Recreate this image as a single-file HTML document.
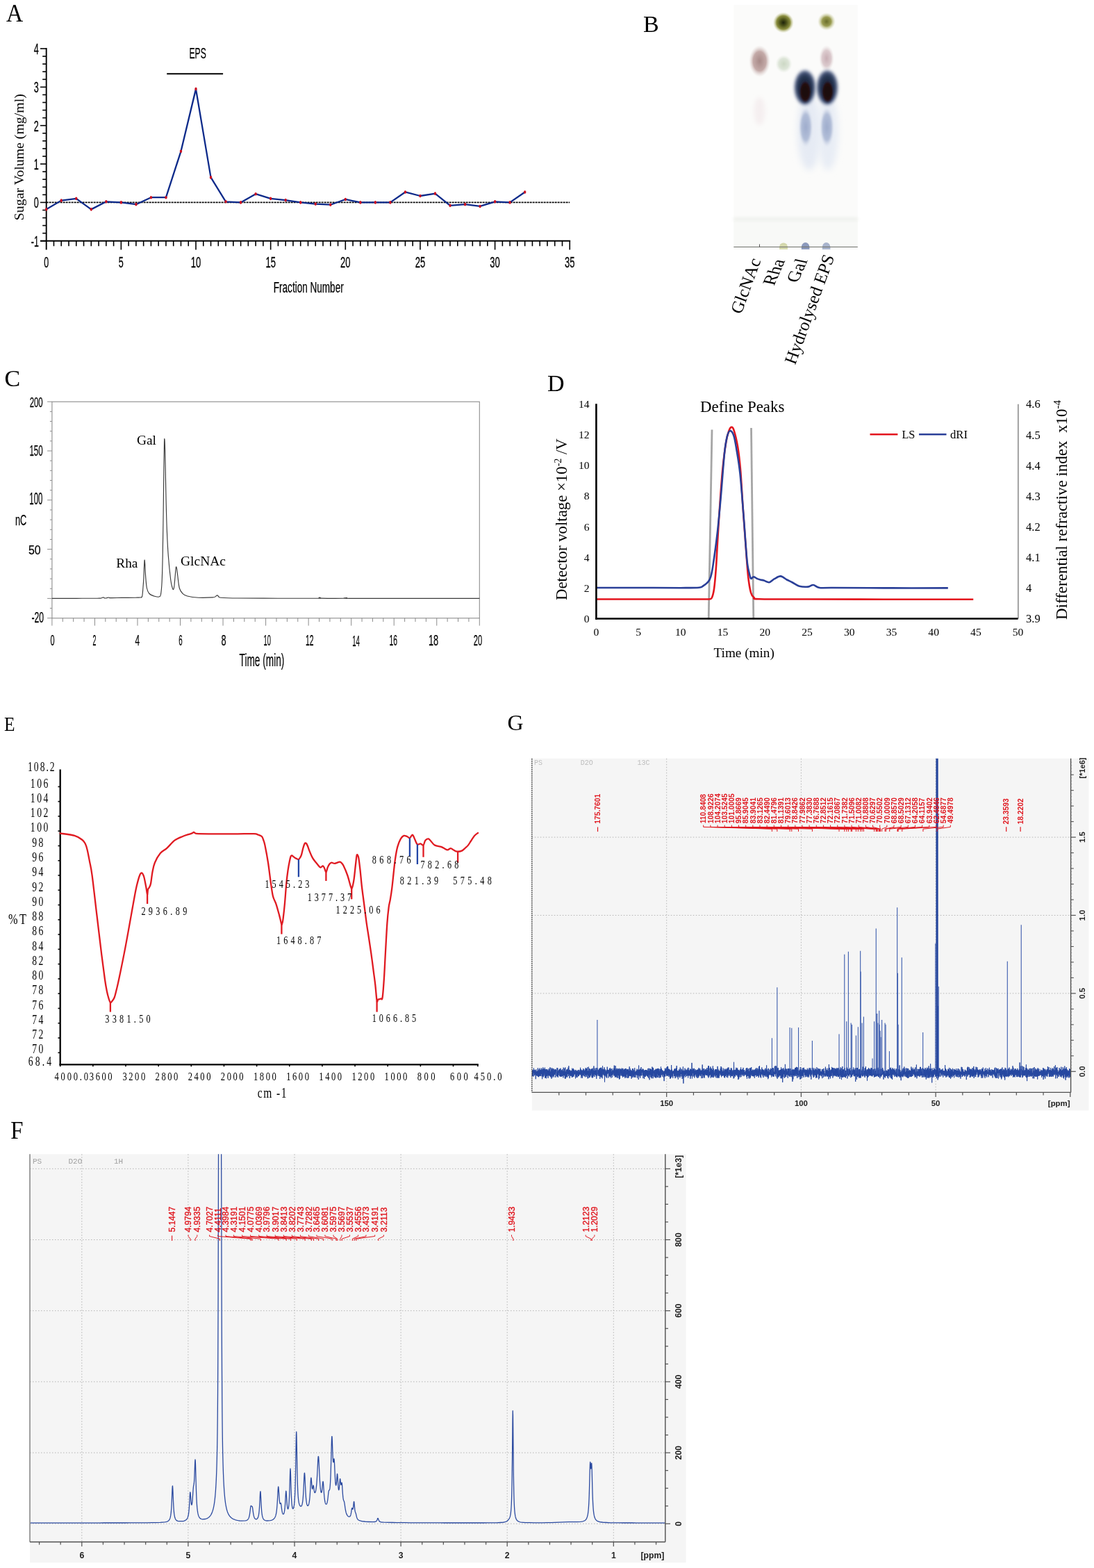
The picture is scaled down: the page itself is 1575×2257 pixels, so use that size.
<!DOCTYPE html>
<html><head><meta charset="utf-8"><title>EPS characterization figure</title>
<style>html,body{margin:0;padding:0;background:#fff;}svg{display:block;}</style></head>
<body>
<svg width="1575" height="2257" viewBox="0 0 1575 2257">
<rect width="1575" height="2257" fill="#fff"/>
<text x="9" y="31.1" font-size="35.5" font-family="'Liberation Serif', 'Times New Roman', serif" textLength="24.2" lengthAdjust="spacingAndGlyphs">A</text>
<line x1="66.7" y1="69.1" x2="66.7" y2="359.5" stroke="#000" stroke-width="1.9"/>
<line x1="58" y1="346.75" x2="821.15" y2="346.75" stroke="#000" stroke-width="1.9"/>
<line x1="58" y1="346.75" x2="66.7" y2="346.75" stroke="#000" stroke-width="1.6"/>
<line x1="61.2" y1="335.68" x2="66.7" y2="335.68" stroke="#000" stroke-width="1.6"/>
<line x1="61.2" y1="324.61" x2="66.7" y2="324.61" stroke="#000" stroke-width="1.6"/>
<line x1="61.2" y1="313.54" x2="66.7" y2="313.54" stroke="#000" stroke-width="1.6"/>
<line x1="61.2" y1="302.47" x2="66.7" y2="302.47" stroke="#000" stroke-width="1.6"/>
<line x1="58" y1="291.4" x2="66.7" y2="291.4" stroke="#000" stroke-width="1.6"/>
<line x1="61.2" y1="280.33" x2="66.7" y2="280.33" stroke="#000" stroke-width="1.6"/>
<line x1="61.2" y1="269.26" x2="66.7" y2="269.26" stroke="#000" stroke-width="1.6"/>
<line x1="61.2" y1="258.19" x2="66.7" y2="258.19" stroke="#000" stroke-width="1.6"/>
<line x1="61.2" y1="247.12" x2="66.7" y2="247.12" stroke="#000" stroke-width="1.6"/>
<line x1="58" y1="236.05" x2="66.7" y2="236.05" stroke="#000" stroke-width="1.6"/>
<line x1="61.2" y1="224.98" x2="66.7" y2="224.98" stroke="#000" stroke-width="1.6"/>
<line x1="61.2" y1="213.91" x2="66.7" y2="213.91" stroke="#000" stroke-width="1.6"/>
<line x1="61.2" y1="202.84" x2="66.7" y2="202.84" stroke="#000" stroke-width="1.6"/>
<line x1="61.2" y1="191.77" x2="66.7" y2="191.77" stroke="#000" stroke-width="1.6"/>
<line x1="58" y1="180.7" x2="66.7" y2="180.7" stroke="#000" stroke-width="1.6"/>
<line x1="61.2" y1="169.63" x2="66.7" y2="169.63" stroke="#000" stroke-width="1.6"/>
<line x1="61.2" y1="158.56" x2="66.7" y2="158.56" stroke="#000" stroke-width="1.6"/>
<line x1="61.2" y1="147.49" x2="66.7" y2="147.49" stroke="#000" stroke-width="1.6"/>
<line x1="61.2" y1="136.42" x2="66.7" y2="136.42" stroke="#000" stroke-width="1.6"/>
<line x1="58" y1="125.35" x2="66.7" y2="125.35" stroke="#000" stroke-width="1.6"/>
<line x1="61.2" y1="114.28" x2="66.7" y2="114.28" stroke="#000" stroke-width="1.6"/>
<line x1="61.2" y1="103.21" x2="66.7" y2="103.21" stroke="#000" stroke-width="1.6"/>
<line x1="61.2" y1="92.14" x2="66.7" y2="92.14" stroke="#000" stroke-width="1.6"/>
<line x1="61.2" y1="81.07" x2="66.7" y2="81.07" stroke="#000" stroke-width="1.6"/>
<line x1="58" y1="70" x2="66.7" y2="70" stroke="#000" stroke-width="1.6"/>
<line x1="77.47" y1="346.75" x2="77.47" y2="354.3" stroke="#000" stroke-width="1.6"/>
<line x1="88.23" y1="346.75" x2="88.23" y2="354.3" stroke="#000" stroke-width="1.6"/>
<line x1="99" y1="346.75" x2="99" y2="354.3" stroke="#000" stroke-width="1.6"/>
<line x1="109.76" y1="346.75" x2="109.76" y2="354.3" stroke="#000" stroke-width="1.6"/>
<line x1="120.53" y1="346.75" x2="120.53" y2="354.3" stroke="#000" stroke-width="1.6"/>
<line x1="131.29" y1="346.75" x2="131.29" y2="354.3" stroke="#000" stroke-width="1.6"/>
<line x1="142.06" y1="346.75" x2="142.06" y2="354.3" stroke="#000" stroke-width="1.6"/>
<line x1="152.82" y1="346.75" x2="152.82" y2="354.3" stroke="#000" stroke-width="1.6"/>
<line x1="163.59" y1="346.75" x2="163.59" y2="354.3" stroke="#000" stroke-width="1.6"/>
<line x1="174.35" y1="346.75" x2="174.35" y2="359.5" stroke="#000" stroke-width="1.6"/>
<line x1="185.12" y1="346.75" x2="185.12" y2="354.3" stroke="#000" stroke-width="1.6"/>
<line x1="195.88" y1="346.75" x2="195.88" y2="354.3" stroke="#000" stroke-width="1.6"/>
<line x1="206.64" y1="346.75" x2="206.64" y2="354.3" stroke="#000" stroke-width="1.6"/>
<line x1="217.41" y1="346.75" x2="217.41" y2="354.3" stroke="#000" stroke-width="1.6"/>
<line x1="228.18" y1="346.75" x2="228.18" y2="354.3" stroke="#000" stroke-width="1.6"/>
<line x1="238.94" y1="346.75" x2="238.94" y2="354.3" stroke="#000" stroke-width="1.6"/>
<line x1="249.7" y1="346.75" x2="249.7" y2="354.3" stroke="#000" stroke-width="1.6"/>
<line x1="260.47" y1="346.75" x2="260.47" y2="354.3" stroke="#000" stroke-width="1.6"/>
<line x1="271.24" y1="346.75" x2="271.24" y2="354.3" stroke="#000" stroke-width="1.6"/>
<line x1="282" y1="346.75" x2="282" y2="359.5" stroke="#000" stroke-width="1.6"/>
<line x1="292.76" y1="346.75" x2="292.76" y2="354.3" stroke="#000" stroke-width="1.6"/>
<line x1="303.53" y1="346.75" x2="303.53" y2="354.3" stroke="#000" stroke-width="1.6"/>
<line x1="314.3" y1="346.75" x2="314.3" y2="354.3" stroke="#000" stroke-width="1.6"/>
<line x1="325.06" y1="346.75" x2="325.06" y2="354.3" stroke="#000" stroke-width="1.6"/>
<line x1="335.82" y1="346.75" x2="335.82" y2="354.3" stroke="#000" stroke-width="1.6"/>
<line x1="346.59" y1="346.75" x2="346.59" y2="354.3" stroke="#000" stroke-width="1.6"/>
<line x1="357.36" y1="346.75" x2="357.36" y2="354.3" stroke="#000" stroke-width="1.6"/>
<line x1="368.12" y1="346.75" x2="368.12" y2="354.3" stroke="#000" stroke-width="1.6"/>
<line x1="378.88" y1="346.75" x2="378.88" y2="354.3" stroke="#000" stroke-width="1.6"/>
<line x1="389.65" y1="346.75" x2="389.65" y2="359.5" stroke="#000" stroke-width="1.6"/>
<line x1="400.42" y1="346.75" x2="400.42" y2="354.3" stroke="#000" stroke-width="1.6"/>
<line x1="411.18" y1="346.75" x2="411.18" y2="354.3" stroke="#000" stroke-width="1.6"/>
<line x1="421.94" y1="346.75" x2="421.94" y2="354.3" stroke="#000" stroke-width="1.6"/>
<line x1="432.71" y1="346.75" x2="432.71" y2="354.3" stroke="#000" stroke-width="1.6"/>
<line x1="443.48" y1="346.75" x2="443.48" y2="354.3" stroke="#000" stroke-width="1.6"/>
<line x1="454.24" y1="346.75" x2="454.24" y2="354.3" stroke="#000" stroke-width="1.6"/>
<line x1="465" y1="346.75" x2="465" y2="354.3" stroke="#000" stroke-width="1.6"/>
<line x1="475.77" y1="346.75" x2="475.77" y2="354.3" stroke="#000" stroke-width="1.6"/>
<line x1="486.54" y1="346.75" x2="486.54" y2="354.3" stroke="#000" stroke-width="1.6"/>
<line x1="497.3" y1="346.75" x2="497.3" y2="359.5" stroke="#000" stroke-width="1.6"/>
<line x1="508.06" y1="346.75" x2="508.06" y2="354.3" stroke="#000" stroke-width="1.6"/>
<line x1="518.83" y1="346.75" x2="518.83" y2="354.3" stroke="#000" stroke-width="1.6"/>
<line x1="529.6" y1="346.75" x2="529.6" y2="354.3" stroke="#000" stroke-width="1.6"/>
<line x1="540.36" y1="346.75" x2="540.36" y2="354.3" stroke="#000" stroke-width="1.6"/>
<line x1="551.12" y1="346.75" x2="551.12" y2="354.3" stroke="#000" stroke-width="1.6"/>
<line x1="561.89" y1="346.75" x2="561.89" y2="354.3" stroke="#000" stroke-width="1.6"/>
<line x1="572.66" y1="346.75" x2="572.66" y2="354.3" stroke="#000" stroke-width="1.6"/>
<line x1="583.42" y1="346.75" x2="583.42" y2="354.3" stroke="#000" stroke-width="1.6"/>
<line x1="594.19" y1="346.75" x2="594.19" y2="354.3" stroke="#000" stroke-width="1.6"/>
<line x1="604.95" y1="346.75" x2="604.95" y2="359.5" stroke="#000" stroke-width="1.6"/>
<line x1="615.72" y1="346.75" x2="615.72" y2="354.3" stroke="#000" stroke-width="1.6"/>
<line x1="626.48" y1="346.75" x2="626.48" y2="354.3" stroke="#000" stroke-width="1.6"/>
<line x1="637.25" y1="346.75" x2="637.25" y2="354.3" stroke="#000" stroke-width="1.6"/>
<line x1="648.01" y1="346.75" x2="648.01" y2="354.3" stroke="#000" stroke-width="1.6"/>
<line x1="658.78" y1="346.75" x2="658.78" y2="354.3" stroke="#000" stroke-width="1.6"/>
<line x1="669.54" y1="346.75" x2="669.54" y2="354.3" stroke="#000" stroke-width="1.6"/>
<line x1="680.31" y1="346.75" x2="680.31" y2="354.3" stroke="#000" stroke-width="1.6"/>
<line x1="691.07" y1="346.75" x2="691.07" y2="354.3" stroke="#000" stroke-width="1.6"/>
<line x1="701.84" y1="346.75" x2="701.84" y2="354.3" stroke="#000" stroke-width="1.6"/>
<line x1="712.6" y1="346.75" x2="712.6" y2="359.5" stroke="#000" stroke-width="1.6"/>
<line x1="723.37" y1="346.75" x2="723.37" y2="354.3" stroke="#000" stroke-width="1.6"/>
<line x1="734.13" y1="346.75" x2="734.13" y2="354.3" stroke="#000" stroke-width="1.6"/>
<line x1="744.9" y1="346.75" x2="744.9" y2="354.3" stroke="#000" stroke-width="1.6"/>
<line x1="755.66" y1="346.75" x2="755.66" y2="354.3" stroke="#000" stroke-width="1.6"/>
<line x1="766.43" y1="346.75" x2="766.43" y2="354.3" stroke="#000" stroke-width="1.6"/>
<line x1="777.19" y1="346.75" x2="777.19" y2="354.3" stroke="#000" stroke-width="1.6"/>
<line x1="787.96" y1="346.75" x2="787.96" y2="354.3" stroke="#000" stroke-width="1.6"/>
<line x1="798.72" y1="346.75" x2="798.72" y2="354.3" stroke="#000" stroke-width="1.6"/>
<line x1="809.49" y1="346.75" x2="809.49" y2="354.3" stroke="#000" stroke-width="1.6"/>
<line x1="820.25" y1="346.75" x2="820.25" y2="359.5" stroke="#000" stroke-width="1.6"/>
<text x="55.8" y="77.9" font-size="22" font-family="'Liberation Sans', Arial, sans-serif" text-anchor="end" textLength="7" lengthAdjust="spacingAndGlyphs" stroke="#000" stroke-width="0.3">4</text>
<text x="55.8" y="133.25" font-size="22" font-family="'Liberation Sans', Arial, sans-serif" text-anchor="end" textLength="7" lengthAdjust="spacingAndGlyphs" stroke="#000" stroke-width="0.3">3</text>
<text x="55.8" y="188.6" font-size="22" font-family="'Liberation Sans', Arial, sans-serif" text-anchor="end" textLength="7" lengthAdjust="spacingAndGlyphs" stroke="#000" stroke-width="0.3">2</text>
<text x="55.8" y="243.95" font-size="22" font-family="'Liberation Sans', Arial, sans-serif" text-anchor="end" textLength="7" lengthAdjust="spacingAndGlyphs" stroke="#000" stroke-width="0.3">1</text>
<text x="55.8" y="299.3" font-size="22" font-family="'Liberation Sans', Arial, sans-serif" text-anchor="end" textLength="7" lengthAdjust="spacingAndGlyphs" stroke="#000" stroke-width="0.3">0</text>
<text x="55.8" y="354.65" font-size="22" font-family="'Liberation Sans', Arial, sans-serif" text-anchor="end" textLength="11" lengthAdjust="spacingAndGlyphs" stroke="#000" stroke-width="0.3">-1</text>
<text x="66.7" y="384.9" font-size="22" font-family="'Liberation Sans', Arial, sans-serif" text-anchor="middle" textLength="7" lengthAdjust="spacingAndGlyphs" stroke="#000" stroke-width="0.3">0</text>
<text x="174.35" y="384.9" font-size="22" font-family="'Liberation Sans', Arial, sans-serif" text-anchor="middle" textLength="7" lengthAdjust="spacingAndGlyphs" stroke="#000" stroke-width="0.3">5</text>
<text x="282" y="384.9" font-size="22" font-family="'Liberation Sans', Arial, sans-serif" text-anchor="middle" textLength="14.5" lengthAdjust="spacingAndGlyphs" stroke="#000" stroke-width="0.3">10</text>
<text x="389.65" y="384.9" font-size="22" font-family="'Liberation Sans', Arial, sans-serif" text-anchor="middle" textLength="14.5" lengthAdjust="spacingAndGlyphs" stroke="#000" stroke-width="0.3">15</text>
<text x="497.3" y="384.9" font-size="22" font-family="'Liberation Sans', Arial, sans-serif" text-anchor="middle" textLength="14.5" lengthAdjust="spacingAndGlyphs" stroke="#000" stroke-width="0.3">20</text>
<text x="604.95" y="384.9" font-size="22" font-family="'Liberation Sans', Arial, sans-serif" text-anchor="middle" textLength="14.5" lengthAdjust="spacingAndGlyphs" stroke="#000" stroke-width="0.3">25</text>
<text x="712.6" y="384.9" font-size="22" font-family="'Liberation Sans', Arial, sans-serif" text-anchor="middle" textLength="14.5" lengthAdjust="spacingAndGlyphs" stroke="#000" stroke-width="0.3">30</text>
<text x="820.25" y="384.9" font-size="22" font-family="'Liberation Sans', Arial, sans-serif" text-anchor="middle" textLength="14.5" lengthAdjust="spacingAndGlyphs" stroke="#000" stroke-width="0.3">35</text>
<text x="393.8" y="421.4" font-size="21.6" font-family="'Liberation Sans', Arial, sans-serif" textLength="100.9" lengthAdjust="spacingAndGlyphs" stroke="#000" stroke-width="0.25">Fraction Number</text>
<text x="272.5" y="83.7" font-size="21.6" font-family="'Liberation Sans', Arial, sans-serif" textLength="24.3" lengthAdjust="spacingAndGlyphs" stroke="#000" stroke-width="0.25">EPS</text>
<line x1="240.2" y1="106.3" x2="321.1" y2="106.3" stroke="#000" stroke-width="2"/>
<text transform="translate(33.6,226.2) rotate(-90)" font-size="19.2" font-family="'Liberation Serif', 'Times New Roman', serif" text-anchor="middle" textLength="182" lengthAdjust="spacingAndGlyphs">Sugar Volume (mg/ml)</text>
<line x1="66.7" y1="291.4" x2="820.25" y2="291.4" stroke="#000" stroke-width="1.8" stroke-dasharray="2.9 1.1"/>
<path d="M66.7 301.36 L88.23 288.63 L109.76 285.86 L131.29 301.36 L152.82 290.29 L174.35 291.4 L195.88 294.17 L217.41 284.2 L238.94 284.2 L260.47 217.78 L282 128.12 L303.53 255.42 L325.06 290.29 L346.59 291.4 L368.12 279.22 L389.65 285.86 L411.18 288.08 L432.71 291.4 L454.24 293.61 L475.77 294.72 L497.3 286.97 L518.83 291.4 L540.36 291.4 L561.89 291.4 L583.42 276.46 L604.95 281.99 L626.48 278.67 L648.01 295.83 L669.54 294.17 L691.07 296.94 L712.6 290.29 L734.13 291.4 L755.66 276.46" fill="none" stroke="#0d2a8a" stroke-width="2.3" stroke-linejoin="round"/>
<ellipse cx="66.7" cy="301.36" rx="1.7" ry="2.3" fill="#cc1222"/>
<ellipse cx="88.23" cy="288.63" rx="1.7" ry="2.3" fill="#cc1222"/>
<ellipse cx="109.76" cy="285.86" rx="1.7" ry="2.3" fill="#cc1222"/>
<ellipse cx="131.29" cy="301.36" rx="1.7" ry="2.3" fill="#cc1222"/>
<ellipse cx="152.82" cy="290.29" rx="1.7" ry="2.3" fill="#cc1222"/>
<ellipse cx="174.35" cy="291.4" rx="1.7" ry="2.3" fill="#cc1222"/>
<ellipse cx="195.88" cy="294.17" rx="1.7" ry="2.3" fill="#cc1222"/>
<ellipse cx="217.41" cy="284.2" rx="1.7" ry="2.3" fill="#cc1222"/>
<ellipse cx="238.94" cy="284.2" rx="1.7" ry="2.3" fill="#cc1222"/>
<ellipse cx="260.47" cy="217.78" rx="1.7" ry="2.3" fill="#cc1222"/>
<ellipse cx="282" cy="128.12" rx="1.7" ry="2.3" fill="#cc1222"/>
<ellipse cx="303.53" cy="255.42" rx="1.7" ry="2.3" fill="#cc1222"/>
<ellipse cx="325.06" cy="290.29" rx="1.7" ry="2.3" fill="#cc1222"/>
<ellipse cx="346.59" cy="291.4" rx="1.7" ry="2.3" fill="#cc1222"/>
<ellipse cx="368.12" cy="279.22" rx="1.7" ry="2.3" fill="#cc1222"/>
<ellipse cx="389.65" cy="285.86" rx="1.7" ry="2.3" fill="#cc1222"/>
<ellipse cx="411.18" cy="288.08" rx="1.7" ry="2.3" fill="#cc1222"/>
<ellipse cx="432.71" cy="291.4" rx="1.7" ry="2.3" fill="#cc1222"/>
<ellipse cx="454.24" cy="293.61" rx="1.7" ry="2.3" fill="#cc1222"/>
<ellipse cx="475.77" cy="294.72" rx="1.7" ry="2.3" fill="#cc1222"/>
<ellipse cx="497.3" cy="286.97" rx="1.7" ry="2.3" fill="#cc1222"/>
<ellipse cx="518.83" cy="291.4" rx="1.7" ry="2.3" fill="#cc1222"/>
<ellipse cx="540.36" cy="291.4" rx="1.7" ry="2.3" fill="#cc1222"/>
<ellipse cx="561.89" cy="291.4" rx="1.7" ry="2.3" fill="#cc1222"/>
<ellipse cx="583.42" cy="276.46" rx="1.7" ry="2.3" fill="#cc1222"/>
<ellipse cx="604.95" cy="281.99" rx="1.7" ry="2.3" fill="#cc1222"/>
<ellipse cx="626.48" cy="278.67" rx="1.7" ry="2.3" fill="#cc1222"/>
<ellipse cx="648.01" cy="295.83" rx="1.7" ry="2.3" fill="#cc1222"/>
<ellipse cx="669.54" cy="294.17" rx="1.7" ry="2.3" fill="#cc1222"/>
<ellipse cx="691.07" cy="296.94" rx="1.7" ry="2.3" fill="#cc1222"/>
<ellipse cx="712.6" cy="290.29" rx="1.7" ry="2.3" fill="#cc1222"/>
<ellipse cx="734.13" cy="291.4" rx="1.7" ry="2.3" fill="#cc1222"/>
<ellipse cx="755.66" cy="276.46" rx="1.7" ry="2.3" fill="#cc1222"/>
<text x="926" y="46.3" font-size="34" font-family="'Liberation Serif', 'Times New Roman', serif">B</text>
<defs>
<filter id="bl1" x="-50%" y="-50%" width="200%" height="200%"><feGaussianBlur stdDeviation="1"/></filter>
<filter id="bl2" x="-50%" y="-50%" width="200%" height="200%"><feGaussianBlur stdDeviation="2"/></filter>
<filter id="bl3" x="-50%" y="-50%" width="200%" height="200%"><feGaussianBlur stdDeviation="3"/></filter>
<filter id="bl5" x="-50%" y="-50%" width="200%" height="200%"><feGaussianBlur stdDeviation="5"/></filter>
<radialGradient id="gGreen"><stop offset="0" stop-color="#1e220a"/><stop offset="0.3" stop-color="#4a5018"/><stop offset="0.65" stop-color="#8a8e3e"/><stop offset="1" stop-color="#d0d2a0" stop-opacity="0"/></radialGradient>
<radialGradient id="gGreen2"><stop offset="0" stop-color="#6a6e2a"/><stop offset="0.5" stop-color="#9a9c52"/><stop offset="1" stop-color="#d8dab0" stop-opacity="0"/></radialGradient>
<radialGradient id="gPink"><stop offset="0" stop-color="#a88a88"/><stop offset="0.6" stop-color="#c4aaa8"/><stop offset="1" stop-color="#e6dcda" stop-opacity="0"/></radialGradient>
<radialGradient id="gPink2"><stop offset="0" stop-color="#c8aeb4"/><stop offset="0.6" stop-color="#dccbce"/><stop offset="1" stop-color="#ece4e4" stop-opacity="0"/></radialGradient>
<radialGradient id="gFaintG"><stop offset="0" stop-color="#ccd8c4"/><stop offset="0.6" stop-color="#dde5d8"/><stop offset="1" stop-color="#e8eee4" stop-opacity="0"/></radialGradient>
<radialGradient id="gBlue"><stop offset="0" stop-color="#18203a"/><stop offset="0.6" stop-color="#25344f"/><stop offset="0.85" stop-color="#4a5a80"/><stop offset="1" stop-color="#b8c4dc" stop-opacity="0"/></radialGradient>
<radialGradient id="gCore"><stop offset="0" stop-color="#1a0606"/><stop offset="0.7" stop-color="#220c10"/><stop offset="1" stop-color="#2a2a40" stop-opacity="0"/></radialGradient>
<radialGradient id="gTail"><stop offset="0" stop-color="#9eaccc"/><stop offset="0.65" stop-color="#b2bed8"/><stop offset="1" stop-color="#d8deec" stop-opacity="0"/></radialGradient>
</defs>
<rect x="1056.3" y="7.2" width="178.5" height="352.0" fill="#fbfbfa"/>
<rect x="1056.3" y="318" width="178.5" height="37" fill="#f8f9f7"/>
<rect x="1056.3" y="313" width="178.5" height="5" fill="#eef0ec" filter="url(#bl2)"/>
<ellipse cx="1165" cy="190" rx="17" ry="55" fill="#e6ebf4" filter="url(#bl5)"/>
<ellipse cx="1192" cy="190" rx="15" ry="55" fill="#e8edf5" filter="url(#bl5)"/>
<ellipse cx="1160" cy="183" rx="10" ry="29" fill="url(#gTail)" filter="url(#bl1)"/>
<ellipse cx="1190.5" cy="183" rx="10" ry="29" fill="url(#gTail)" filter="url(#bl1)"/>
<circle cx="1127.8" cy="32.5" r="15" fill="url(#gGreen)"/>
<circle cx="1190" cy="31" r="13" fill="url(#gGreen2)"/>
<ellipse cx="1093.6" cy="88" rx="15.5" ry="23" fill="url(#gPink)"/>
<ellipse cx="1190" cy="84" rx="11" ry="19" fill="url(#gPink2)"/>
<ellipse cx="1128.4" cy="92" rx="12" ry="13" fill="url(#gFaintG)"/>
<ellipse cx="1093.4" cy="160" rx="8" ry="20" fill="#f5eff0" filter="url(#bl3)"/>
<ellipse cx="1158.8" cy="126" rx="16.5" ry="27" fill="url(#gBlue)" filter="url(#bl2)"/>
<ellipse cx="1159.3" cy="132" rx="9" ry="17" fill="url(#gCore)" filter="url(#bl1)"/>
<ellipse cx="1191.0" cy="126" rx="16.5" ry="27" fill="url(#gBlue)" filter="url(#bl2)"/>
<ellipse cx="1191.5" cy="132" rx="9" ry="17" fill="url(#gCore)" filter="url(#bl1)"/>
<path d="M1122 355.5 A6 6 0 0 1 1134 355.5 L1134 359 L1122 359Z" fill="#d4d8ac"/>
<path d="M1153.8 355.5 A5.8 6.5 0 0 1 1165.4 355.5 L1165.4 359 L1153.8 359Z" fill="#8c9abc"/>
<path d="M1183.8 355.5 A5.8 6.5 0 0 1 1195.4 355.5 L1195.4 359 L1183.8 359Z" fill="#a8b4cc"/>
<line x1="1056.3" y1="355.5" x2="1234.8" y2="355.5" stroke="#6e706a" stroke-width="1"/>
<line x1="1093.5" y1="351.5" x2="1093.5" y2="356" stroke="#555" stroke-width="1"/>
<text transform="translate(1095.5,375) rotate(-70)" font-size="25" font-family="'Liberation Serif', 'Times New Roman', serif" text-anchor="end">GlcNAc</text>
<text transform="translate(1130.5,375) rotate(-66) skewX(12)" font-size="25" font-family="'Liberation Serif', 'Times New Roman', serif" text-anchor="end">Rha</text>
<text transform="translate(1163,374.5) rotate(-66) skewX(12)" font-size="25" font-family="'Liberation Serif', 'Times New Roman', serif" text-anchor="end">Gal</text>
<text transform="translate(1201.5,370) rotate(-70)" font-size="25" font-family="'Liberation Serif', 'Times New Roman', serif" text-anchor="end">Hydrolysed EPS</text>
<text x="6.5" y="556.4" font-size="34" font-family="'Liberation Serif', 'Times New Roman', serif">C</text>
<rect x="74.9" y="578.3" width="615.4" height="311.5" fill="none" stroke="#8c8c8c" stroke-width="1.1"/>
<line x1="68.1" y1="889.72" x2="74.9" y2="889.72" stroke="#8c8c8c" stroke-width="1"/>
<line x1="71.9" y1="875.56" x2="74.9" y2="875.56" stroke="#8c8c8c" stroke-width="1"/>
<line x1="68.1" y1="861.4" x2="74.9" y2="861.4" stroke="#8c8c8c" stroke-width="1"/>
<line x1="71.9" y1="847.24" x2="74.9" y2="847.24" stroke="#8c8c8c" stroke-width="1"/>
<line x1="71.9" y1="833.08" x2="74.9" y2="833.08" stroke="#8c8c8c" stroke-width="1"/>
<line x1="71.9" y1="818.92" x2="74.9" y2="818.92" stroke="#8c8c8c" stroke-width="1"/>
<line x1="71.9" y1="804.76" x2="74.9" y2="804.76" stroke="#8c8c8c" stroke-width="1"/>
<line x1="68.1" y1="790.6" x2="74.9" y2="790.6" stroke="#8c8c8c" stroke-width="1"/>
<line x1="71.9" y1="776.44" x2="74.9" y2="776.44" stroke="#8c8c8c" stroke-width="1"/>
<line x1="71.9" y1="762.28" x2="74.9" y2="762.28" stroke="#8c8c8c" stroke-width="1"/>
<line x1="71.9" y1="748.12" x2="74.9" y2="748.12" stroke="#8c8c8c" stroke-width="1"/>
<line x1="71.9" y1="733.96" x2="74.9" y2="733.96" stroke="#8c8c8c" stroke-width="1"/>
<line x1="68.1" y1="719.8" x2="74.9" y2="719.8" stroke="#8c8c8c" stroke-width="1"/>
<line x1="71.9" y1="705.64" x2="74.9" y2="705.64" stroke="#8c8c8c" stroke-width="1"/>
<line x1="71.9" y1="691.48" x2="74.9" y2="691.48" stroke="#8c8c8c" stroke-width="1"/>
<line x1="71.9" y1="677.32" x2="74.9" y2="677.32" stroke="#8c8c8c" stroke-width="1"/>
<line x1="71.9" y1="663.16" x2="74.9" y2="663.16" stroke="#8c8c8c" stroke-width="1"/>
<line x1="68.1" y1="649" x2="74.9" y2="649" stroke="#8c8c8c" stroke-width="1"/>
<line x1="71.9" y1="634.84" x2="74.9" y2="634.84" stroke="#8c8c8c" stroke-width="1"/>
<line x1="71.9" y1="620.68" x2="74.9" y2="620.68" stroke="#8c8c8c" stroke-width="1"/>
<line x1="71.9" y1="606.52" x2="74.9" y2="606.52" stroke="#8c8c8c" stroke-width="1"/>
<line x1="71.9" y1="592.36" x2="74.9" y2="592.36" stroke="#8c8c8c" stroke-width="1"/>
<line x1="68.1" y1="578.2" x2="74.9" y2="578.2" stroke="#8c8c8c" stroke-width="1"/>
<line x1="74.9" y1="889.8" x2="74.9" y2="900.6" stroke="#8c8c8c" stroke-width="1"/>
<line x1="90.29" y1="889.8" x2="90.29" y2="895" stroke="#8c8c8c" stroke-width="1"/>
<line x1="105.67" y1="889.8" x2="105.67" y2="895" stroke="#8c8c8c" stroke-width="1"/>
<line x1="121.06" y1="889.8" x2="121.06" y2="895" stroke="#8c8c8c" stroke-width="1"/>
<line x1="136.44" y1="889.8" x2="136.44" y2="900.6" stroke="#8c8c8c" stroke-width="1"/>
<line x1="151.82" y1="889.8" x2="151.82" y2="895" stroke="#8c8c8c" stroke-width="1"/>
<line x1="167.21" y1="889.8" x2="167.21" y2="895" stroke="#8c8c8c" stroke-width="1"/>
<line x1="182.6" y1="889.8" x2="182.6" y2="895" stroke="#8c8c8c" stroke-width="1"/>
<line x1="197.98" y1="889.8" x2="197.98" y2="900.6" stroke="#8c8c8c" stroke-width="1"/>
<line x1="213.36" y1="889.8" x2="213.36" y2="895" stroke="#8c8c8c" stroke-width="1"/>
<line x1="228.75" y1="889.8" x2="228.75" y2="895" stroke="#8c8c8c" stroke-width="1"/>
<line x1="244.13" y1="889.8" x2="244.13" y2="895" stroke="#8c8c8c" stroke-width="1"/>
<line x1="259.52" y1="889.8" x2="259.52" y2="900.6" stroke="#8c8c8c" stroke-width="1"/>
<line x1="274.9" y1="889.8" x2="274.9" y2="895" stroke="#8c8c8c" stroke-width="1"/>
<line x1="290.29" y1="889.8" x2="290.29" y2="895" stroke="#8c8c8c" stroke-width="1"/>
<line x1="305.68" y1="889.8" x2="305.68" y2="895" stroke="#8c8c8c" stroke-width="1"/>
<line x1="321.06" y1="889.8" x2="321.06" y2="900.6" stroke="#8c8c8c" stroke-width="1"/>
<line x1="336.44" y1="889.8" x2="336.44" y2="895" stroke="#8c8c8c" stroke-width="1"/>
<line x1="351.83" y1="889.8" x2="351.83" y2="895" stroke="#8c8c8c" stroke-width="1"/>
<line x1="367.22" y1="889.8" x2="367.22" y2="895" stroke="#8c8c8c" stroke-width="1"/>
<line x1="382.6" y1="889.8" x2="382.6" y2="900.6" stroke="#8c8c8c" stroke-width="1"/>
<line x1="397.99" y1="889.8" x2="397.99" y2="895" stroke="#8c8c8c" stroke-width="1"/>
<line x1="413.37" y1="889.8" x2="413.37" y2="895" stroke="#8c8c8c" stroke-width="1"/>
<line x1="428.75" y1="889.8" x2="428.75" y2="895" stroke="#8c8c8c" stroke-width="1"/>
<line x1="444.14" y1="889.8" x2="444.14" y2="900.6" stroke="#8c8c8c" stroke-width="1"/>
<line x1="459.52" y1="889.8" x2="459.52" y2="895" stroke="#8c8c8c" stroke-width="1"/>
<line x1="474.91" y1="889.8" x2="474.91" y2="895" stroke="#8c8c8c" stroke-width="1"/>
<line x1="490.29" y1="889.8" x2="490.29" y2="895" stroke="#8c8c8c" stroke-width="1"/>
<line x1="505.68" y1="889.8" x2="505.68" y2="900.6" stroke="#8c8c8c" stroke-width="1"/>
<line x1="521.06" y1="889.8" x2="521.06" y2="895" stroke="#8c8c8c" stroke-width="1"/>
<line x1="536.45" y1="889.8" x2="536.45" y2="895" stroke="#8c8c8c" stroke-width="1"/>
<line x1="551.83" y1="889.8" x2="551.83" y2="895" stroke="#8c8c8c" stroke-width="1"/>
<line x1="567.22" y1="889.8" x2="567.22" y2="900.6" stroke="#8c8c8c" stroke-width="1"/>
<line x1="582.61" y1="889.8" x2="582.61" y2="895" stroke="#8c8c8c" stroke-width="1"/>
<line x1="597.99" y1="889.8" x2="597.99" y2="895" stroke="#8c8c8c" stroke-width="1"/>
<line x1="613.38" y1="889.8" x2="613.38" y2="895" stroke="#8c8c8c" stroke-width="1"/>
<line x1="628.76" y1="889.8" x2="628.76" y2="900.6" stroke="#8c8c8c" stroke-width="1"/>
<line x1="644.14" y1="889.8" x2="644.14" y2="895" stroke="#8c8c8c" stroke-width="1"/>
<line x1="659.53" y1="889.8" x2="659.53" y2="895" stroke="#8c8c8c" stroke-width="1"/>
<line x1="674.91" y1="889.8" x2="674.91" y2="895" stroke="#8c8c8c" stroke-width="1"/>
<line x1="690.3" y1="889.8" x2="690.3" y2="900.6" stroke="#8c8c8c" stroke-width="1"/>
<text x="42.7" y="586" font-size="19.41" font-family="'Liberation Sans', Arial, sans-serif" textLength="19" lengthAdjust="spacingAndGlyphs" stroke="#000" stroke-width="0.25">200</text>
<text x="42.4" y="655.6" font-size="22.21" font-family="'Liberation Sans', Arial, sans-serif" textLength="19.3" lengthAdjust="spacingAndGlyphs" stroke="#000" stroke-width="0.25">150</text>
<text x="42.3" y="725.7" font-size="23.46" font-family="'Liberation Sans', Arial, sans-serif" textLength="19.1" lengthAdjust="spacingAndGlyphs" stroke="#000" stroke-width="0.25">100</text>
<text x="41" y="798.3" font-size="19.13" font-family="'Liberation Sans', Arial, sans-serif" textLength="17.7" lengthAdjust="spacingAndGlyphs" stroke="#000" stroke-width="0.25">50</text>
<text x="45.4" y="896.2" font-size="22.35" font-family="'Liberation Sans', Arial, sans-serif" textLength="17.7" lengthAdjust="spacingAndGlyphs" stroke="#000" stroke-width="0.25">-20</text>
<text x="22" y="755.8" font-size="22.91" font-family="'Liberation Sans', Arial, sans-serif" textLength="16.3" lengthAdjust="spacingAndGlyphs" stroke="#000" stroke-width="0.25">nC</text>
<text x="72.4" y="928.7" font-size="22.77" font-family="'Liberation Sans', Arial, sans-serif" textLength="6.1" lengthAdjust="spacingAndGlyphs" stroke="#000" stroke-width="0.25">0</text>
<text x="133.5" y="928.7" font-size="22.77" font-family="'Liberation Sans', Arial, sans-serif" textLength="4.9" lengthAdjust="spacingAndGlyphs" stroke="#000" stroke-width="0.25">2</text>
<text x="194.5" y="928.7" font-size="22.77" font-family="'Liberation Sans', Arial, sans-serif" textLength="6.6" lengthAdjust="spacingAndGlyphs" stroke="#000" stroke-width="0.25">4</text>
<text x="257.3" y="928.7" font-size="22.77" font-family="'Liberation Sans', Arial, sans-serif" textLength="5.4" lengthAdjust="spacingAndGlyphs" stroke="#000" stroke-width="0.25">6</text>
<text x="318.5" y="928.7" font-size="22.77" font-family="'Liberation Sans', Arial, sans-serif" textLength="7.1" lengthAdjust="spacingAndGlyphs" stroke="#000" stroke-width="0.25">8</text>
<text x="379.6" y="928.7" font-size="22.77" font-family="'Liberation Sans', Arial, sans-serif" textLength="10.4" lengthAdjust="spacingAndGlyphs" stroke="#000" stroke-width="0.25">10</text>
<text x="440" y="928.7" font-size="22.77" font-family="'Liberation Sans', Arial, sans-serif" textLength="11.5" lengthAdjust="spacingAndGlyphs" stroke="#000" stroke-width="0.25">12</text>
<text x="507.2" y="930.3" font-size="22.77" font-family="'Liberation Sans', Arial, sans-serif" textLength="10.7" lengthAdjust="spacingAndGlyphs" stroke="#000" stroke-width="0.25">14</text>
<text x="560.5" y="928.7" font-size="22.77" font-family="'Liberation Sans', Arial, sans-serif" textLength="11.5" lengthAdjust="spacingAndGlyphs" stroke="#000" stroke-width="0.25">16</text>
<text x="617" y="928.7" font-size="22.77" font-family="'Liberation Sans', Arial, sans-serif" textLength="14.2" lengthAdjust="spacingAndGlyphs" stroke="#000" stroke-width="0.25">18</text>
<text x="681.8" y="928.7" font-size="22.77" font-family="'Liberation Sans', Arial, sans-serif" textLength="12.4" lengthAdjust="spacingAndGlyphs" stroke="#000" stroke-width="0.25">20</text>
<text x="344.6" y="958.9" font-size="25.42" font-family="'Liberation Sans', Arial, sans-serif" textLength="64.7" lengthAdjust="spacingAndGlyphs" stroke="#000" stroke-width="0.2">Time (min)</text>
<text x="197" y="639.5" font-size="19.4" font-family="'Liberation Serif', 'Times New Roman', serif" textLength="28" lengthAdjust="spacingAndGlyphs">Gal</text>
<text x="167.3" y="816.5" font-size="19.4" font-family="'Liberation Serif', 'Times New Roman', serif" textLength="31.1" lengthAdjust="spacingAndGlyphs">Rha</text>
<text x="260" y="813.7" font-size="19.4" font-family="'Liberation Serif', 'Times New Roman', serif" textLength="65" lengthAdjust="spacingAndGlyphs">GlcNAc</text>
<path d="M74.9 861.4 C80.75 861.38 99.15 861.33 110 861.3 C120.85 861.27 134.08 861.25 140 861.2 C145.92 861.15 144.07 861.22 145.5 861 C146.93 860.78 147.68 859.9 148.6 859.9 C149.52 859.9 150.18 860.87 151 861 C151.82 861.13 152.62 860.87 153.5 860.7 C154.38 860.53 155.3 860.02 156.3 860 C157.3 859.98 156.38 860.53 159.5 860.6 C162.62 860.67 169.08 860.47 175 860.4 C180.92 860.33 190.58 860.27 195 860.2 C199.42 860.13 199.9 860.28 201.5 860 C203.1 859.72 203.85 861 204.6 858.5 C205.35 856 205.62 849.42 206 845 C206.38 840.58 206.63 837.17 206.9 832 C207.17 826.83 207.4 818.33 207.6 814 C207.8 809.67 207.92 806.33 208.1 806 C208.28 805.67 208.45 808.17 208.7 812 C208.95 815.83 209.15 823.25 209.6 829 C210.05 834.75 210.52 842.25 211.4 846.5 C212.28 850.75 213.18 852.58 214.9 854.5 C216.62 856.42 219.6 857.22 221.7 858 C223.8 858.78 226.15 859.1 227.5 859.2 C228.85 859.3 229.13 859.22 229.8 858.6 C230.47 857.98 230.95 858.93 231.5 855.5 C232.05 852.07 232.65 847.25 233.1 838 C233.55 828.75 233.87 816.33 234.2 800 C234.53 783.67 234.82 761 235.1 740 C235.38 719 235.67 691.17 235.9 674 C236.13 656.83 236.33 643.97 236.5 637 C236.67 630.03 236.75 631.53 236.9 632.2 C237.05 632.87 237.18 633.87 237.4 641 C237.62 648.13 237.9 661 238.2 675 C238.5 689 238.83 710 239.2 725 C239.57 740 239.88 752.5 240.4 765 C240.92 777.5 241.42 788.45 242.3 800 C243.18 811.55 244.75 826.72 245.7 834.3 C246.65 841.88 247.35 843.13 248 845.5 C248.65 847.87 249.13 848.75 249.6 848.5 C250.07 848.25 250.4 846.92 250.8 844 C251.2 841.08 251.62 835.25 252 831 C252.38 826.75 252.8 821.03 253.1 818.5 C253.4 815.97 253.55 815.72 253.8 815.8 C254.05 815.88 254.28 816.97 254.6 819 C254.92 821.03 255.08 823.42 255.7 828 C256.32 832.58 257.1 842.12 258.3 846.5 C259.5 850.88 261 852.38 262.9 854.3 C264.8 856.22 265.9 857.02 269.7 858 C273.5 858.98 279.6 859.88 285.7 860.2 C291.8 860.52 302.28 860.12 306.3 859.9 C310.32 859.68 308.73 859.42 309.8 858.9 C310.87 858.38 311.83 856.8 312.7 856.8 C313.57 856.8 314.12 858.33 315 858.9 C315.88 859.47 313.35 859.85 318 860.2 C322.65 860.55 329.23 860.83 342.9 861 C356.57 861.17 381.07 861.17 400 861.2 C418.93 861.23 446.58 861.4 456.5 861.2 C466.42 861 458.5 860.02 459.5 860 C460.5 859.98 456.42 860.88 462.5 861.1 C468.58 861.32 489.83 861.38 496 861.3 C502.17 861.22 498.33 860.6 499.5 860.6 C500.67 860.6 486.25 861.17 503 861.3 C519.75 861.43 568.78 861.38 600 861.4 C631.22 861.42 675.25 861.4 690.3 861.4" fill="none" stroke="#3a3a3a" stroke-width="1.15" stroke-linejoin="round"/>
<text x="788" y="563" font-size="34" font-family="'Liberation Serif', 'Times New Roman', serif">D</text>
<line x1="1465.9" y1="581.8" x2="1465.9" y2="890.5" stroke="#a8a8a8" stroke-width="2.2"/>
<line x1="1025" y1="618.5" x2="1020.2" y2="891.5" stroke="#a6a6a6" stroke-width="2.8"/>
<line x1="1081.5" y1="616" x2="1084.8" y2="891.5" stroke="#a6a6a6" stroke-width="2.8"/>
<path d="M858.4 862.5 C870.54 862.5 905.76 862.5 931.26 862.5 C956.77 862.5 996.44 862.53 1011.41 862.5 C1026.39 862.46 1018.9 862.61 1021.13 862.28 C1023.36 861.95 1023.62 862.97 1024.77 860.51 C1025.93 858.05 1027.04 854.63 1028.05 847.5 C1029.06 840.37 1030.04 828.65 1030.84 817.74 C1031.65 806.82 1032 797.12 1032.91 782.01 C1033.82 766.91 1035.07 744.86 1036.31 727.11 C1037.54 709.36 1038.84 690.54 1040.32 675.51 C1041.79 660.48 1043.68 646.11 1045.17 636.92 C1046.67 627.74 1048.01 624.06 1049.3 620.39 C1050.6 616.71 1051.73 615.06 1052.95 614.88 C1054.16 614.69 1055.05 614.51 1056.59 619.28 C1058.13 624.06 1060.6 633.98 1062.18 643.54 C1063.76 653.1 1064.87 662.69 1066.06 676.62 C1067.26 690.54 1068.13 709.54 1069.34 727.11 C1070.56 744.68 1072.07 765.07 1073.35 782.01 C1074.62 798.96 1075.72 816.93 1076.99 828.76 C1078.27 840.59 1079.58 847.8 1081 853.01 C1082.42 858.23 1083.53 858.53 1085.49 860.07 C1087.46 861.61 1080.03 861.87 1092.78 862.28 C1105.53 862.68 1130.22 862.42 1162 862.5 C1193.78 862.57 1243.57 862.68 1283.44 862.72 C1323.31 862.75 1381.6 862.72 1401.24 862.72" fill="none" stroke="#e3151e" stroke-width="2.6" stroke-linejoin="round"/>
<path d="M858.4 845.96 C868.52 845.96 898.88 845.92 919.12 845.96 C939.36 846 965.27 846.22 979.84 846.18 C994.41 846.14 1001.09 846.25 1006.56 845.74 C1012.02 845.22 1010.42 844.53 1012.63 843.09 C1014.83 841.66 1018.01 839.34 1019.79 837.14 C1021.57 834.93 1022.18 833.83 1023.32 829.86 C1024.45 825.89 1025.02 823.8 1026.59 813.32 C1028.17 802.85 1030.93 783.37 1032.79 767.02 C1034.65 750.67 1036.07 734.31 1037.77 715.2 C1039.47 696.09 1041.47 666.88 1042.99 652.36 C1044.51 637.84 1045.54 633.47 1046.87 628.11 C1048.21 622.74 1049.43 620.35 1051 620.17 C1052.58 619.98 1054.81 622.67 1056.35 627 C1057.89 631.34 1058.72 637.07 1060.23 646.19 C1061.75 655.3 1063.73 665.59 1065.46 681.69 C1067.18 697.78 1068.9 721.96 1070.56 742.76 C1072.22 763.57 1074.04 792.71 1075.41 806.49 C1076.79 820.27 1077.88 821.08 1078.81 825.45 C1079.74 829.83 1080.19 831.81 1081 832.73 C1081.81 833.65 1082.86 831.33 1083.67 830.97 C1084.48 830.6 1084.74 830.16 1085.86 830.52 C1086.97 830.89 1088.87 832.51 1090.35 833.17 C1091.83 833.83 1093.16 834.09 1094.72 834.49 C1096.28 834.9 1097.6 834.97 1099.7 835.6 C1101.81 836.22 1104.8 838.65 1107.35 838.24 C1109.9 837.84 1112.25 834.64 1115 833.17 C1117.76 831.7 1120.89 829.2 1123.87 829.42 C1126.84 829.64 1130.08 833.02 1132.85 834.49 C1135.63 835.96 1137.53 836.7 1140.51 838.24 C1143.48 839.78 1146.92 842.69 1150.71 843.75 C1154.49 844.82 1159.85 844.93 1163.21 844.64 C1166.57 844.34 1168.09 841.77 1170.87 841.99 C1173.64 842.21 1175.26 845.3 1179.85 845.96 C1184.45 846.62 1181.17 845.89 1198.43 845.96 C1215.7 846.03 1255.71 846.33 1283.44 846.4 C1311.17 846.47 1351.24 846.4 1364.8 846.4" fill="none" stroke="#2a3f98" stroke-width="2.6" stroke-linejoin="round"/>
<line x1="858.4" y1="581.3" x2="858.4" y2="891.7" stroke="#000" stroke-width="2.6"/>
<line x1="857.2" y1="890.5" x2="1465.6" y2="890.5" stroke="#000" stroke-width="2.6"/>
<text x="848.6" y="895.8" font-size="15.6" font-family="'Liberation Serif', 'Times New Roman', serif" text-anchor="end">0</text>
<text x="848.6" y="851.7" font-size="15.6" font-family="'Liberation Serif', 'Times New Roman', serif" text-anchor="end">2</text>
<text x="848.6" y="807.6" font-size="15.6" font-family="'Liberation Serif', 'Times New Roman', serif" text-anchor="end">4</text>
<text x="848.6" y="763.5" font-size="15.6" font-family="'Liberation Serif', 'Times New Roman', serif" text-anchor="end">6</text>
<text x="848.6" y="719.4" font-size="15.6" font-family="'Liberation Serif', 'Times New Roman', serif" text-anchor="end">8</text>
<text x="848.6" y="675.3" font-size="15.6" font-family="'Liberation Serif', 'Times New Roman', serif" text-anchor="end">10</text>
<text x="848.6" y="631.2" font-size="15.6" font-family="'Liberation Serif', 'Times New Roman', serif" text-anchor="end">12</text>
<text x="848.6" y="587.1" font-size="15.6" font-family="'Liberation Serif', 'Times New Roman', serif" text-anchor="end">14</text>
<text x="1477" y="896.1" font-size="16.5" font-family="'Liberation Serif', 'Times New Roman', serif">3.9</text>
<text x="1477" y="852" font-size="16.5" font-family="'Liberation Serif', 'Times New Roman', serif">4</text>
<text x="1477" y="807.9" font-size="16.5" font-family="'Liberation Serif', 'Times New Roman', serif">4.1</text>
<text x="1477" y="763.8" font-size="16.5" font-family="'Liberation Serif', 'Times New Roman', serif">4.2</text>
<text x="1477" y="719.7" font-size="16.5" font-family="'Liberation Serif', 'Times New Roman', serif">4.3</text>
<text x="1477" y="675.6" font-size="16.5" font-family="'Liberation Serif', 'Times New Roman', serif">4.4</text>
<text x="1477" y="631.5" font-size="16.5" font-family="'Liberation Serif', 'Times New Roman', serif">4.5</text>
<text x="1477" y="587.4" font-size="16.5" font-family="'Liberation Serif', 'Times New Roman', serif">4.6</text>
<text x="858.4" y="915.3" font-size="15.6" font-family="'Liberation Serif', 'Times New Roman', serif" text-anchor="middle">0</text>
<text x="919.12" y="915.3" font-size="15.6" font-family="'Liberation Serif', 'Times New Roman', serif" text-anchor="middle">5</text>
<text x="979.84" y="915.3" font-size="15.6" font-family="'Liberation Serif', 'Times New Roman', serif" text-anchor="middle">10</text>
<text x="1040.56" y="915.3" font-size="15.6" font-family="'Liberation Serif', 'Times New Roman', serif" text-anchor="middle">15</text>
<text x="1101.28" y="915.3" font-size="15.6" font-family="'Liberation Serif', 'Times New Roman', serif" text-anchor="middle">20</text>
<text x="1162" y="915.3" font-size="15.6" font-family="'Liberation Serif', 'Times New Roman', serif" text-anchor="middle">25</text>
<text x="1222.72" y="915.3" font-size="15.6" font-family="'Liberation Serif', 'Times New Roman', serif" text-anchor="middle">30</text>
<text x="1283.44" y="915.3" font-size="15.6" font-family="'Liberation Serif', 'Times New Roman', serif" text-anchor="middle">35</text>
<text x="1344.16" y="915.3" font-size="15.6" font-family="'Liberation Serif', 'Times New Roman', serif" text-anchor="middle">40</text>
<text x="1404.88" y="915.3" font-size="15.6" font-family="'Liberation Serif', 'Times New Roman', serif" text-anchor="middle">45</text>
<text x="1465.6" y="915.3" font-size="15.6" font-family="'Liberation Serif', 'Times New Roman', serif" text-anchor="middle">50</text>
<text x="1027.5" y="946.3" font-size="19.2" font-family="'Liberation Serif', 'Times New Roman', serif" textLength="87.3" lengthAdjust="spacingAndGlyphs">Time (min)</text>
<text x="1008" y="592.7" font-size="22.8" font-family="'Liberation Serif', 'Times New Roman', serif" textLength="121.3" lengthAdjust="spacingAndGlyphs">Define Peaks</text>
<line x1="1252.5" y1="625.2" x2="1292.4" y2="625.2" stroke="#e3151e" stroke-width="2.6"/>
<text x="1298.4" y="631.3" font-size="17.6" font-family="'Liberation Serif', 'Times New Roman', serif" textLength="19" lengthAdjust="spacingAndGlyphs">LS</text>
<line x1="1323" y1="625.2" x2="1362.5" y2="625.2" stroke="#2a3f98" stroke-width="2.6"/>
<text x="1368" y="631.3" font-size="17.6" font-family="'Liberation Serif', 'Times New Roman', serif" textLength="25" lengthAdjust="spacingAndGlyphs">dRI</text>
<text transform="translate(815.5,864) rotate(-90)" font-size="22.8" font-family="'Liberation Serif', 'Times New Roman', serif">Detector voltage ×10<tspan font-size="14" dy="-8">-2</tspan><tspan dy="8"> /V</tspan></text>
<text transform="translate(1536.3,892.1) rotate(-90)" font-size="23" font-family="'Liberation Serif', 'Times New Roman', serif">Differential refractive index  x10<tspan font-size="15" dy="-9">-4</tspan></text>
<text x="6" y="1051.5" font-size="30" font-family="'Liberation Serif', 'Times New Roman', serif" textLength="15.5" lengthAdjust="spacingAndGlyphs">E</text>
<line x1="86.7" y1="1107.5" x2="86.7" y2="1533.5" stroke="#000" stroke-width="2.3"/>
<line x1="85.5" y1="1532.3" x2="688.8" y2="1532.3" stroke="#000" stroke-width="2.3"/>
<text transform="translate(40,1110.2) scale(0.74,1)" font-size="18.5" font-family="'Liberation Serif', 'Times New Roman', serif" textLength="52.3" lengthAdjust="spacing">108.2</text>
<line x1="83.5" y1="1132.4" x2="86.7" y2="1132.4" stroke="#000" stroke-width="1.6"/>
<text transform="translate(43.8,1133.6) scale(0.74,1)" font-size="18.5" font-family="'Liberation Serif', 'Times New Roman', serif" textLength="34.59" lengthAdjust="spacing">106</text>
<line x1="83.5" y1="1153.67" x2="86.7" y2="1153.67" stroke="#000" stroke-width="1.6"/>
<text transform="translate(43.8,1154.87) scale(0.74,1)" font-size="18.5" font-family="'Liberation Serif', 'Times New Roman', serif" textLength="34.59" lengthAdjust="spacing">104</text>
<line x1="83.5" y1="1174.94" x2="86.7" y2="1174.94" stroke="#000" stroke-width="1.6"/>
<text transform="translate(43.8,1176.14) scale(0.74,1)" font-size="18.5" font-family="'Liberation Serif', 'Times New Roman', serif" textLength="34.59" lengthAdjust="spacing">102</text>
<line x1="83.5" y1="1196.21" x2="86.7" y2="1196.21" stroke="#000" stroke-width="1.6"/>
<text transform="translate(43.8,1197.41) scale(0.74,1)" font-size="18.5" font-family="'Liberation Serif', 'Times New Roman', serif" textLength="34.59" lengthAdjust="spacing">100</text>
<line x1="83.5" y1="1217.48" x2="86.7" y2="1217.48" stroke="#000" stroke-width="1.6"/>
<text transform="translate(46.3,1218.68) scale(0.74,1)" font-size="18.5" font-family="'Liberation Serif', 'Times New Roman', serif" textLength="21.62" lengthAdjust="spacing">98</text>
<line x1="83.5" y1="1238.76" x2="86.7" y2="1238.76" stroke="#000" stroke-width="1.6"/>
<text transform="translate(46.3,1239.96) scale(0.74,1)" font-size="18.5" font-family="'Liberation Serif', 'Times New Roman', serif" textLength="21.62" lengthAdjust="spacing">96</text>
<line x1="83.5" y1="1260.03" x2="86.7" y2="1260.03" stroke="#000" stroke-width="1.6"/>
<text transform="translate(46.3,1261.23) scale(0.74,1)" font-size="18.5" font-family="'Liberation Serif', 'Times New Roman', serif" textLength="21.62" lengthAdjust="spacing">94</text>
<line x1="83.5" y1="1281.3" x2="86.7" y2="1281.3" stroke="#000" stroke-width="1.6"/>
<text transform="translate(46.3,1282.5) scale(0.74,1)" font-size="18.5" font-family="'Liberation Serif', 'Times New Roman', serif" textLength="21.62" lengthAdjust="spacing">92</text>
<line x1="83.5" y1="1302.57" x2="86.7" y2="1302.57" stroke="#000" stroke-width="1.6"/>
<text transform="translate(46.3,1303.77) scale(0.74,1)" font-size="18.5" font-family="'Liberation Serif', 'Times New Roman', serif" textLength="21.62" lengthAdjust="spacing">90</text>
<line x1="83.5" y1="1323.84" x2="86.7" y2="1323.84" stroke="#000" stroke-width="1.6"/>
<text transform="translate(46.3,1325.04) scale(0.74,1)" font-size="18.5" font-family="'Liberation Serif', 'Times New Roman', serif" textLength="21.62" lengthAdjust="spacing">88</text>
<line x1="83.5" y1="1345.11" x2="86.7" y2="1345.11" stroke="#000" stroke-width="1.6"/>
<text transform="translate(46.3,1346.31) scale(0.74,1)" font-size="18.5" font-family="'Liberation Serif', 'Times New Roman', serif" textLength="21.62" lengthAdjust="spacing">86</text>
<line x1="83.5" y1="1366.38" x2="86.7" y2="1366.38" stroke="#000" stroke-width="1.6"/>
<text transform="translate(46.3,1367.58) scale(0.74,1)" font-size="18.5" font-family="'Liberation Serif', 'Times New Roman', serif" textLength="21.62" lengthAdjust="spacing">84</text>
<line x1="83.5" y1="1387.65" x2="86.7" y2="1387.65" stroke="#000" stroke-width="1.6"/>
<text transform="translate(46.3,1388.85) scale(0.74,1)" font-size="18.5" font-family="'Liberation Serif', 'Times New Roman', serif" textLength="21.62" lengthAdjust="spacing">82</text>
<line x1="83.5" y1="1408.93" x2="86.7" y2="1408.93" stroke="#000" stroke-width="1.6"/>
<text transform="translate(46.3,1410.13) scale(0.74,1)" font-size="18.5" font-family="'Liberation Serif', 'Times New Roman', serif" textLength="21.62" lengthAdjust="spacing">80</text>
<line x1="83.5" y1="1430.2" x2="86.7" y2="1430.2" stroke="#000" stroke-width="1.6"/>
<text transform="translate(46.3,1431.4) scale(0.74,1)" font-size="18.5" font-family="'Liberation Serif', 'Times New Roman', serif" textLength="21.62" lengthAdjust="spacing">78</text>
<line x1="83.5" y1="1451.47" x2="86.7" y2="1451.47" stroke="#000" stroke-width="1.6"/>
<text transform="translate(46.3,1452.67) scale(0.74,1)" font-size="18.5" font-family="'Liberation Serif', 'Times New Roman', serif" textLength="21.62" lengthAdjust="spacing">76</text>
<line x1="83.5" y1="1472.74" x2="86.7" y2="1472.74" stroke="#000" stroke-width="1.6"/>
<text transform="translate(46.3,1473.94) scale(0.74,1)" font-size="18.5" font-family="'Liberation Serif', 'Times New Roman', serif" textLength="21.62" lengthAdjust="spacing">74</text>
<line x1="83.5" y1="1494.01" x2="86.7" y2="1494.01" stroke="#000" stroke-width="1.6"/>
<text transform="translate(46.3,1495.21) scale(0.74,1)" font-size="18.5" font-family="'Liberation Serif', 'Times New Roman', serif" textLength="21.62" lengthAdjust="spacing">72</text>
<line x1="83.5" y1="1515.28" x2="86.7" y2="1515.28" stroke="#000" stroke-width="1.6"/>
<text transform="translate(46.3,1516.48) scale(0.74,1)" font-size="18.5" font-family="'Liberation Serif', 'Times New Roman', serif" textLength="21.62" lengthAdjust="spacing">70</text>
<text transform="translate(40.8,1533.5) scale(0.74,1)" font-size="18.5" font-family="'Liberation Serif', 'Times New Roman', serif" textLength="45.14" lengthAdjust="spacing">68.4</text>
<text transform="translate(12,1330) scale(0.74,1)" font-size="22" font-family="'Liberation Serif', 'Times New Roman', serif" textLength="35.14" lengthAdjust="spacing">%T</text>
<line x1="86.7" y1="1532.3" x2="86.7" y2="1535.3" stroke="#000" stroke-width="1.6"/>
<line x1="133.85" y1="1532.3" x2="133.85" y2="1535.3" stroke="#000" stroke-width="1.6"/>
<line x1="181" y1="1532.3" x2="181" y2="1535.3" stroke="#000" stroke-width="1.6"/>
<text transform="translate(176.4,1554.5) scale(0.74,1)" font-size="17" font-family="'Liberation Serif', 'Times New Roman', serif" textLength="44.32" lengthAdjust="spacing">3200</text>
<line x1="228.15" y1="1532.3" x2="228.15" y2="1535.3" stroke="#000" stroke-width="1.6"/>
<text transform="translate(223.55,1554.5) scale(0.74,1)" font-size="17" font-family="'Liberation Serif', 'Times New Roman', serif" textLength="44.32" lengthAdjust="spacing">2800</text>
<line x1="275.3" y1="1532.3" x2="275.3" y2="1535.3" stroke="#000" stroke-width="1.6"/>
<text transform="translate(270.7,1554.5) scale(0.74,1)" font-size="17" font-family="'Liberation Serif', 'Times New Roman', serif" textLength="44.32" lengthAdjust="spacing">2400</text>
<line x1="322.45" y1="1532.3" x2="322.45" y2="1535.3" stroke="#000" stroke-width="1.6"/>
<text transform="translate(317.85,1554.5) scale(0.74,1)" font-size="17" font-family="'Liberation Serif', 'Times New Roman', serif" textLength="44.32" lengthAdjust="spacing">2000</text>
<line x1="369.6" y1="1532.3" x2="369.6" y2="1535.3" stroke="#000" stroke-width="1.6"/>
<text transform="translate(365,1554.5) scale(0.74,1)" font-size="17" font-family="'Liberation Serif', 'Times New Roman', serif" textLength="44.32" lengthAdjust="spacing">1800</text>
<line x1="416.75" y1="1532.3" x2="416.75" y2="1535.3" stroke="#000" stroke-width="1.6"/>
<text transform="translate(412.15,1554.5) scale(0.74,1)" font-size="17" font-family="'Liberation Serif', 'Times New Roman', serif" textLength="44.32" lengthAdjust="spacing">1600</text>
<line x1="463.9" y1="1532.3" x2="463.9" y2="1535.3" stroke="#000" stroke-width="1.6"/>
<text transform="translate(459.3,1554.5) scale(0.74,1)" font-size="17" font-family="'Liberation Serif', 'Times New Roman', serif" textLength="44.32" lengthAdjust="spacing">1400</text>
<line x1="511.05" y1="1532.3" x2="511.05" y2="1535.3" stroke="#000" stroke-width="1.6"/>
<text transform="translate(506.45,1554.5) scale(0.74,1)" font-size="17" font-family="'Liberation Serif', 'Times New Roman', serif" textLength="44.32" lengthAdjust="spacing">1200</text>
<line x1="558.2" y1="1532.3" x2="558.2" y2="1535.3" stroke="#000" stroke-width="1.6"/>
<text transform="translate(553.6,1554.5) scale(0.74,1)" font-size="17" font-family="'Liberation Serif', 'Times New Roman', serif" textLength="44.32" lengthAdjust="spacing">1000</text>
<line x1="605.35" y1="1532.3" x2="605.35" y2="1535.3" stroke="#000" stroke-width="1.6"/>
<text transform="translate(600.75,1554.5) scale(0.74,1)" font-size="17" font-family="'Liberation Serif', 'Times New Roman', serif" textLength="34.86" lengthAdjust="spacing">800</text>
<line x1="652.5" y1="1532.3" x2="652.5" y2="1535.3" stroke="#000" stroke-width="1.6"/>
<text transform="translate(647.9,1554.5) scale(0.74,1)" font-size="17" font-family="'Liberation Serif', 'Times New Roman', serif" textLength="34.86" lengthAdjust="spacing">600</text>
<line x1="687.86" y1="1532.3" x2="687.86" y2="1535.3" stroke="#000" stroke-width="1.6"/>
<text transform="translate(78.5,1554.5) scale(0.74,1)" font-size="17" font-family="'Liberation Serif', 'Times New Roman', serif" textLength="65.54" lengthAdjust="spacing">4000.0</text>
<text transform="translate(128.8,1554.5) scale(0.74,1)" font-size="17" font-family="'Liberation Serif', 'Times New Roman', serif" textLength="44.32" lengthAdjust="spacing">3600</text>
<text transform="translate(682.4,1554.5) scale(0.74,1)" font-size="17" font-family="'Liberation Serif', 'Times New Roman', serif" textLength="54.32" lengthAdjust="spacing">450.0</text>
<text transform="translate(370.8,1580) scale(0.74,1)" font-size="21" font-family="'Liberation Serif', 'Times New Roman', serif" textLength="56.35" lengthAdjust="spacing">cm -1</text>
<path d="M85.7 1199.4 C89.32 1199.98 101.93 1201.3 107.4 1202.9 C112.87 1204.5 115.93 1207.07 118.5 1209 C121.07 1210.93 121.6 1212.1 122.8 1214.5 C124 1216.9 124.67 1219.15 125.7 1223.4 C126.73 1227.65 127.85 1233.9 129 1240 C130.15 1246.1 130.87 1247.17 132.6 1260 C134.33 1272.83 137.12 1297.95 139.4 1317 C141.68 1336.05 144.37 1358.8 146.3 1374.3 C148.23 1389.8 149.75 1401.3 151 1410 C152.25 1418.7 152.87 1421.92 153.8 1426.5 C154.73 1431.08 155.75 1434.77 156.6 1437.5 C157.45 1440.23 158.17 1442.23 158.9 1442.9 C159.63 1443.57 160.05 1442.65 161 1441.5 C161.95 1440.35 163.5 1438.75 164.6 1436 C165.7 1433.25 166.47 1429.57 167.6 1425 C168.73 1420.43 169.23 1418.95 171.4 1408.6 C173.57 1398.25 177.55 1378.9 180.6 1362.9 C183.65 1346.9 187.22 1326.25 189.7 1312.6 C192.18 1298.95 193.97 1288.62 195.5 1281 C197.03 1273.38 197.9 1270.57 198.9 1266.9 C199.9 1263.23 200.75 1260.72 201.5 1259 C202.25 1257.28 202.77 1256.85 203.4 1256.6 C204.03 1256.35 204.62 1256.43 205.3 1257.5 C205.98 1258.57 206.63 1259.58 207.5 1263 C208.37 1266.42 209.73 1273.93 210.5 1278 C211.27 1282.07 211.68 1286.98 212.1 1287.4 C212.52 1287.82 212.55 1282.15 213 1280.5 C213.45 1278.85 214.12 1279.02 214.8 1277.5 C215.48 1275.98 216.32 1275.15 217.1 1271.4 C217.88 1267.65 218.53 1259.95 219.5 1255 C220.47 1250.05 221 1246.2 222.9 1241.7 C224.8 1237.2 228.05 1231.43 230.9 1228 C233.75 1224.57 236.58 1224.15 240 1221.1 C243.42 1218.05 247.58 1212.55 251.4 1209.7 C255.22 1206.85 259.47 1205.48 262.9 1204 C266.33 1202.52 269.72 1201.57 272 1200.8 C274.28 1200.03 275.45 1199.9 276.6 1199.4 C277.75 1198.9 278.08 1197.78 278.9 1197.8 C279.72 1197.82 280.37 1199.12 281.5 1199.5 C282.63 1199.88 281.18 1199.97 285.7 1200.1 C290.22 1200.23 299.55 1200.27 308.6 1200.3 C317.65 1200.33 330.48 1200.33 340 1200.3 C349.52 1200.27 360.45 1199.9 365.7 1200.1 C370.95 1200.3 369.63 1200.85 371.5 1201.5 C373.37 1202.15 375.58 1202.63 376.9 1204 C378.22 1205.37 378.65 1207.6 379.4 1209.7 C380.15 1211.8 380.3 1211.27 381.4 1216.6 C382.5 1221.93 384.65 1233.13 386 1241.7 C387.35 1250.27 388.35 1260 389.5 1268 C390.65 1276 391.58 1284.18 392.9 1289.7 C394.22 1295.22 395.88 1296.53 397.4 1301.1 C398.92 1305.67 400.85 1312.87 402 1317.1 C403.15 1321.33 403.73 1324.2 404.3 1326.5 C404.87 1328.8 405.02 1330.65 405.4 1330.9 C405.78 1331.15 406.22 1329.53 406.6 1328 C406.98 1326.47 407.13 1326.37 407.7 1321.7 C408.27 1317.03 409.23 1308.38 410 1300 C410.77 1291.62 411.55 1279.23 412.3 1271.4 C413.05 1263.57 413.73 1258.33 414.5 1253 C415.27 1247.67 416.2 1242.82 416.9 1239.4 C417.6 1235.98 418.13 1233.83 418.7 1232.5 C419.27 1231.17 419.75 1231.35 420.3 1231.4 C420.85 1231.45 421.23 1232.22 422 1232.8 C422.77 1233.38 423.98 1234.33 424.9 1234.9 C425.82 1235.47 426.67 1235.83 427.5 1236.2 C428.33 1236.57 429.15 1237.38 429.9 1237.1 C430.65 1236.82 431.32 1235.63 432 1234.5 C432.68 1233.37 433.28 1232.55 434 1230.3 C434.72 1228.05 435.53 1223.67 436.3 1221 C437.07 1218.33 437.83 1215.47 438.6 1214.3 C439.37 1213.13 440.17 1213.38 440.9 1214 C441.63 1214.62 442.25 1216.23 443 1218 C443.75 1219.77 444.23 1221.78 445.4 1224.6 C446.57 1227.42 448.08 1231.67 450 1234.9 C451.92 1238.13 455 1241.72 456.9 1244 C458.8 1246.28 460.07 1248.22 461.4 1248.6 C462.73 1248.98 463.95 1246.12 464.9 1246.3 C465.85 1246.48 466.35 1248.18 467.1 1249.7 C467.85 1251.22 468.63 1255.58 469.4 1255.4 C470.17 1255.22 470.85 1250.58 471.7 1248.6 C472.55 1246.62 473.55 1244.65 474.5 1243.5 C475.45 1242.35 476.15 1241.8 477.4 1241.7 C478.65 1241.6 480.08 1243.08 482 1242.9 C483.92 1242.72 487.32 1240.75 488.9 1240.6 C490.48 1240.45 490.55 1241.05 491.5 1242 C492.45 1242.95 493.13 1243.3 494.6 1246.3 C496.07 1249.3 498.58 1255.05 500.3 1260 C502.02 1264.95 503.83 1272.95 504.9 1276 C505.97 1279.05 505.95 1279.82 506.7 1278.3 C507.45 1276.78 508.55 1272.28 509.4 1266.9 C510.25 1261.52 511.15 1251.65 511.8 1246 C512.45 1240.35 512.93 1235.62 513.3 1233 C513.67 1230.38 513.73 1230.63 514 1230.3 C514.27 1229.97 514.52 1230.23 514.9 1231 C515.28 1231.77 515.7 1231.4 516.3 1234.9 C516.9 1238.4 517.73 1245.15 518.5 1252 C519.27 1258.85 519.98 1268 520.9 1276 C521.82 1284 522.87 1291.23 524 1300 C525.13 1308.77 526.53 1320.27 527.7 1328.6 C528.87 1336.93 529.85 1342.38 531 1350 C532.15 1357.62 533.43 1365.97 534.6 1374.3 C535.77 1382.63 537.05 1392.77 538 1400 C538.95 1407.23 539.53 1410.93 540.3 1417.7 C541.07 1424.47 541.95 1437.08 542.6 1440.6 C543.25 1444.12 543.63 1439.18 544.2 1438.8 C544.77 1438.42 545.28 1438.52 546 1438.3 C546.72 1438.08 547.73 1437.88 548.5 1437.5 C549.27 1437.12 549.87 1440.82 550.6 1436 C551.33 1431.18 552.17 1419.6 552.9 1408.6 C553.63 1397.6 554.25 1383.33 555 1370 C555.75 1356.67 556.62 1339.32 557.4 1328.6 C558.18 1317.88 558.97 1311.3 559.7 1305.7 C560.43 1300.1 561.03 1299.57 561.8 1295 C562.57 1290.43 563.52 1284.47 564.3 1278.3 C565.08 1272.13 565.73 1264.87 566.5 1258 C567.27 1251.13 567.93 1243.62 568.9 1237.1 C569.87 1230.58 570.97 1223.85 572.3 1218.9 C573.63 1213.95 575.38 1210.07 576.9 1207.4 C578.42 1204.73 579.88 1203.47 581.4 1202.9 C582.92 1202.33 584.58 1203.43 586 1204 C587.42 1204.57 588.65 1206.68 589.9 1206.3 C591.15 1205.92 592.57 1202.08 593.5 1201.7 C594.43 1201.32 594.85 1202.85 595.5 1204 C596.15 1205.15 596.5 1206.7 597.4 1208.6 C598.3 1210.5 599.57 1214.45 600.9 1215.4 C602.23 1216.35 603.97 1214.1 605.4 1214.3 C606.83 1214.5 608.35 1217.37 609.5 1216.6 C610.65 1215.83 611.07 1211.23 612.3 1209.7 C613.53 1208.17 615.38 1207.02 616.9 1207.4 C618.42 1207.78 619.88 1210.47 621.4 1212 C622.92 1213.53 623.72 1215.45 626 1216.6 C628.28 1217.75 632.77 1218.08 635.1 1218.9 C637.43 1219.72 638.47 1220.75 640 1221.5 C641.53 1222.25 642.82 1223.47 644.3 1223.4 C645.78 1223.33 647.45 1221.08 648.9 1221.1 C650.35 1221.12 651.48 1222.73 653 1223.5 C654.52 1224.27 656.02 1225.52 658 1225.7 C659.98 1225.88 662.9 1225.47 664.9 1224.6 C666.9 1223.73 668.48 1221.83 670 1220.5 C671.52 1219.17 672.67 1218.27 674 1216.6 C675.33 1214.93 676.48 1212.78 678 1210.5 C679.52 1208.22 681.28 1204.93 683.1 1202.9 C684.92 1200.87 687.93 1199.07 688.9 1198.3" fill="none" stroke="#e01b22" stroke-width="2.3" stroke-linejoin="round"/>
<line x1="158.9" y1="1443" x2="158.9" y2="1456.6" stroke="#e01b22" stroke-width="2.3"/>
<line x1="212.1" y1="1287" x2="212.1" y2="1301" stroke="#e01b22" stroke-width="2.3"/>
<line x1="405.4" y1="1331" x2="405.4" y2="1344.6" stroke="#e01b22" stroke-width="2.3"/>
<line x1="429.9" y1="1237.1" x2="429.9" y2="1262.3" stroke="#2346a6" stroke-width="2.3"/>
<line x1="469.4" y1="1255.4" x2="469.4" y2="1268" stroke="#e01b22" stroke-width="2.3"/>
<line x1="506.2" y1="1278.3" x2="506.2" y2="1294.3" stroke="#e01b22" stroke-width="2.3"/>
<line x1="542.6" y1="1440.6" x2="542.6" y2="1456.6" stroke="#e01b22" stroke-width="2.3"/>
<line x1="589.9" y1="1206.3" x2="589.9" y2="1232.6" stroke="#2346a6" stroke-width="2.3"/>
<line x1="600.9" y1="1215.4" x2="600.9" y2="1244" stroke="#2346a6" stroke-width="2.3"/>
<line x1="609.5" y1="1216.6" x2="609.5" y2="1233.7" stroke="#e01b22" stroke-width="2.3"/>
<line x1="659.1" y1="1225.7" x2="659.1" y2="1241.7" stroke="#e01b22" stroke-width="2.3"/>
<text transform="translate(151.3,1472) scale(0.74,1)" font-size="16.5" font-family="'Liberation Serif', 'Times New Roman', serif" textLength="88.38" lengthAdjust="spacing">3381.50</text>
<text transform="translate(203.4,1316.7) scale(0.74,1)" font-size="16.5" font-family="'Liberation Serif', 'Times New Roman', serif" textLength="89.05" lengthAdjust="spacing">2936.89</text>
<text transform="translate(397.9,1359.4) scale(0.74,1)" font-size="16.5" font-family="'Liberation Serif', 'Times New Roman', serif" textLength="87.16" lengthAdjust="spacing">1648.87</text>
<text transform="translate(381.4,1277.8) scale(0.74,1)" font-size="16.5" font-family="'Liberation Serif', 'Times New Roman', serif" textLength="86.49" lengthAdjust="spacing">1545.23</text>
<text transform="translate(442.7,1296.6) scale(0.74,1)" font-size="16.5" font-family="'Liberation Serif', 'Times New Roman', serif" textLength="85.81" lengthAdjust="spacing">1377.37</text>
<text transform="translate(483.6,1315.3) scale(0.74,1)" font-size="16.5" font-family="'Liberation Serif', 'Times New Roman', serif" textLength="86.49" lengthAdjust="spacing">1225.06</text>
<text transform="translate(535.7,1470.7) scale(0.74,1)" font-size="16.5" font-family="'Liberation Serif', 'Times New Roman', serif" textLength="85.81" lengthAdjust="spacing">1066.85</text>
<text transform="translate(535.7,1242.9) scale(0.74,1)" font-size="16.5" font-family="'Liberation Serif', 'Times New Roman', serif" textLength="75.68" lengthAdjust="spacing">868.76</text>
<text transform="translate(575.7,1272.6) scale(0.74,1)" font-size="16.5" font-family="'Liberation Serif', 'Times New Roman', serif" textLength="75" lengthAdjust="spacing">821.39</text>
<text transform="translate(605.4,1250.4) scale(0.74,1)" font-size="16.5" font-family="'Liberation Serif', 'Times New Roman', serif" textLength="74.32" lengthAdjust="spacing">782.68</text>
<text transform="translate(652.3,1273.3) scale(0.74,1)" font-size="16.5" font-family="'Liberation Serif', 'Times New Roman', serif" textLength="75" lengthAdjust="spacing">575.48</text>
<text x="730.5" y="1050.6" font-size="32" font-family="'Liberation Serif', 'Times New Roman', serif">G</text>
<rect x="765.8" y="1091.8" width="801.7" height="506.7" fill="#f5f5f5"/>
<line x1="959.7" y1="1091.8" x2="959.7" y2="1572.4" stroke="#b4b4b4" stroke-width="1" stroke-dasharray="1.5 2.5"/>
<line x1="1153.4" y1="1091.8" x2="1153.4" y2="1572.4" stroke="#b4b4b4" stroke-width="1" stroke-dasharray="1.5 2.5"/>
<line x1="1347.1" y1="1091.8" x2="1347.1" y2="1572.4" stroke="#b4b4b4" stroke-width="1" stroke-dasharray="1.5 2.5"/>
<line x1="765.8" y1="1542.3" x2="1541.6" y2="1542.3" stroke="#b4b4b4" stroke-width="1" stroke-dasharray="1.5 2.5"/>
<line x1="765.8" y1="1429.9" x2="1541.6" y2="1429.9" stroke="#b4b4b4" stroke-width="1" stroke-dasharray="1.5 2.5"/>
<line x1="765.8" y1="1317.5" x2="1541.6" y2="1317.5" stroke="#b4b4b4" stroke-width="1" stroke-dasharray="1.5 2.5"/>
<line x1="765.8" y1="1205.1" x2="1541.6" y2="1205.1" stroke="#b4b4b4" stroke-width="1" stroke-dasharray="1.5 2.5"/>
<text x="769" y="1100.5" font-size="10" font-family="'Liberation Mono', monospace" fill="#bdbdbd">PS</text>
<text x="835.7" y="1100.5" font-size="10" font-family="'Liberation Mono', monospace" fill="#bdbdbd">D2O</text>
<text x="917.6" y="1100.5" font-size="10" font-family="'Liberation Mono', monospace" fill="#bdbdbd">13C</text>
<path d="M766.3 1549.1 766.7 1540.2 767.1 1549.1 767.6 1540.5 768.0 1549.5 768.4 1537.5 768.8 1544.6 769.2 1539.7 769.7 1548.1 770.1 1540.2 770.5 1546.5 770.9 1541.6 771.3 1553.2 771.8 1539.4 772.2 1547.8 772.6 1542.1 773.0 1548.5 773.4 1541.7 773.9 1548.9 774.3 1537.4 774.7 1549.8 775.1 1541.2 775.5 1550.2 776.0 1539.4 776.4 1549.2 776.8 1537.6 777.2 1548.6 777.6 1539.6 778.1 1548.9 778.5 1540.3 778.9 1549.1 779.3 1537.5 779.7 1546.2 780.2 1539.8 780.6 1553.2 781.0 1538.6 781.4 1549.2 781.8 1536.4 782.3 1550.4 782.7 1538.4 783.1 1548.4 783.5 1538.9 783.9 1545.5 784.4 1536.7 784.8 1551.6 785.2 1539.0 785.6 1551.4 786.0 1539.8 786.5 1552.3 786.9 1538.9 787.3 1549.1 787.7 1539.0 788.1 1547.4 788.6 1540.6 789.0 1551.8 789.4 1540.7 789.8 1548.8 790.2 1538.2 790.7 1548.0 791.1 1540.0 791.5 1548.8 791.9 1536.3 792.3 1550.3 792.8 1542.3 793.2 1549.5 793.6 1537.2 794.0 1552.7 794.4 1539.3 794.9 1551.1 795.3 1537.5 795.7 1549.6 796.1 1538.5 796.5 1548.5 797.0 1538.4 797.4 1550.5 797.8 1540.4 798.2 1547.1 798.6 1539.6 799.1 1546.6 799.5 1538.9 799.9 1550.8 800.3 1539.6 800.7 1543.9 801.2 1543.9 801.6 1548.8 802.0 1537.0 802.4 1549.7 802.8 1537.4 803.3 1550.9 803.7 1541.5 804.1 1547.7 804.5 1540.2 804.9 1544.3 805.4 1538.8 805.8 1549.2 806.2 1538.8 806.6 1549.5 807.0 1537.7 807.5 1549.4 807.9 1540.4 808.3 1550.0 808.7 1540.6 809.1 1548.8 809.6 1539.0 810.0 1548.9 810.4 1541.6 810.8 1551.3 811.2 1536.6 811.7 1548.2 812.1 1542.2 812.5 1548.2 812.9 1537.8 813.3 1552.4 813.8 1536.5 814.2 1552.7 814.6 1542.6 815.0 1550.6 815.4 1539.9 815.9 1549.5 816.3 1539.1 816.7 1550.6 817.1 1539.2 817.5 1546.1 818.0 1536.7 818.4 1549.0 818.8 1534.3 819.2 1547.0 819.6 1540.6 820.1 1552.1 820.5 1539.9 820.9 1547.8 821.3 1541.7 821.7 1548.7 822.2 1540.8 822.6 1548.7 823.0 1541.9 823.4 1551.0 823.8 1537.7 824.3 1550.3 824.7 1539.0 825.1 1549.4 825.5 1537.9 825.9 1549.6 826.4 1539.7 826.8 1547.1 827.2 1542.1 827.6 1546.0 828.0 1540.6 828.5 1552.4 828.9 1539.9 829.3 1549.0 829.7 1541.2 830.1 1551.1 830.6 1541.7 831.0 1550.7 831.4 1541.6 831.8 1546.7 832.2 1540.0 832.7 1549.2 833.1 1542.5 833.5 1548.7 833.9 1539.9 834.3 1546.7 834.8 1542.1 835.2 1547.3 835.6 1536.8 836.0 1546.6 836.4 1539.1 836.9 1551.7 837.3 1540.5 837.7 1549.2 838.1 1541.2 838.5 1551.7 839.0 1540.2 839.4 1547.3 839.8 1538.1 840.2 1548.4 840.6 1539.7 841.1 1549.3 841.5 1541.5 841.9 1545.4 842.3 1539.2 842.7 1550.4 843.2 1537.0 843.6 1547.5 844.0 1538.4 844.4 1549.9 844.8 1538.0 845.3 1547.1 845.7 1536.2 846.1 1552.4 846.5 1541.6 846.9 1551.9 847.4 1535.7 847.8 1548.4 848.2 1538.4 848.6 1551.2 849.0 1538.4 849.5 1550.3 849.9 1541.4 850.3 1548.2 850.7 1539.3 851.1 1545.6 851.6 1538.4 852.0 1550.7 852.4 1539.1 852.8 1551.6 853.2 1537.6 853.7 1550.9 854.1 1540.0 854.5 1548.7 854.9 1534.5 855.3 1546.6 855.8 1541.0 856.2 1550.0 856.6 1537.8 857.0 1547.7 857.4 1540.6 857.9 1547.3 858.3 1537.1 858.7 1552.8 859.1 1539.9 859.5 1549.1 860.0 1537.3 860.4 1546.1 860.8 1539.7 861.2 1548.1 861.6 1540.5 862.1 1549.0 862.5 1538.6 862.9 1548.8 863.3 1537.7 863.7 1553.0 864.2 1537.2 864.6 1549.4 865.0 1536.8 865.4 1550.8 865.8 1536.8 866.3 1549.8 866.7 1538.9 867.1 1552.3 867.5 1534.3 867.9 1547.3 868.4 1539.2 868.8 1546.4 869.2 1539.4 869.6 1548.1 870.0 1536.4 870.5 1557.5 870.9 1539.3 871.3 1547.8 871.7 1539.8 872.1 1549.3 872.6 1541.8 873.0 1550.7 873.4 1540.1 873.8 1551.7 874.2 1535.7 874.7 1546.1 875.1 1539.8 875.5 1544.5 875.9 1540.5 876.3 1551.4 876.8 1539.8 877.2 1548.9 877.6 1538.0 878.0 1549.5 878.4 1537.0 878.9 1550.0 879.3 1538.8 879.7 1551.7 880.1 1542.3 880.5 1547.6 881.0 1538.0 881.4 1550.6 881.8 1540.5 882.2 1547.1 882.6 1540.7 883.1 1545.1 883.5 1537.8 883.9 1548.8 884.3 1533.6 884.7 1547.9 885.2 1538.4 885.6 1551.0 886.0 1534.1 886.4 1549.9 886.8 1539.9 887.3 1550.1 887.7 1537.8 888.1 1551.4 888.5 1539.7 888.9 1547.8 889.4 1537.9 889.8 1551.8 890.2 1538.6 890.6 1548.2 891.0 1539.4 891.5 1553.6 891.9 1537.8 892.3 1552.9 892.7 1539.3 893.1 1548.5 893.6 1538.7 894.0 1545.7 894.4 1539.4 894.8 1548.3 895.2 1537.6 895.7 1548.8 896.1 1539.1 896.5 1550.8 896.9 1537.9 897.3 1549.7 897.8 1540.1 898.2 1548.9 898.6 1539.4 899.0 1549.9 899.4 1538.7 899.9 1551.9 900.3 1538.3 900.7 1549.6 901.1 1537.9 901.5 1551.1 902.0 1539.8 902.4 1546.6 902.8 1539.1 903.2 1551.9 903.6 1539.4 904.1 1551.2 904.5 1538.9 904.9 1551.5 905.3 1540.9 905.7 1548.7 906.2 1535.3 906.6 1548.6 907.0 1537.9 907.4 1549.1 907.8 1540.3 908.3 1548.8 908.7 1540.5 909.1 1552.7 909.5 1541.5 909.9 1550.2 910.4 1538.1 910.8 1550.9 911.2 1538.0 911.6 1548.5 912.0 1539.8 912.5 1550.2 912.9 1541.0 913.3 1550.8 913.7 1537.2 914.1 1546.8 914.6 1543.0 915.0 1550.9 915.4 1542.0 915.8 1547.8 916.2 1540.7 916.7 1547.1 917.1 1538.7 917.5 1551.5 917.9 1540.6 918.3 1548.0 918.8 1539.7 919.2 1553.9 919.6 1533.6 920.0 1549.4 920.4 1540.0 920.9 1547.8 921.3 1539.1 921.7 1551.6 922.1 1538.3 922.5 1548.1 923.0 1536.1 923.4 1548.5 923.8 1540.0 924.2 1543.8 924.6 1539.6 925.1 1547.8 925.5 1538.2 925.9 1552.1 926.3 1539.2 926.7 1548.2 927.2 1541.0 927.6 1552.9 928.0 1540.6 928.4 1549.8 928.8 1540.1 929.3 1549.7 929.7 1540.1 930.1 1547.1 930.5 1540.0 930.9 1548.4 931.4 1540.6 931.8 1549.1 932.2 1540.9 932.6 1550.2 933.0 1538.0 933.5 1551.8 933.9 1537.7 934.3 1547.2 934.7 1541.3 935.1 1554.3 935.6 1538.1 936.0 1550.3 936.4 1538.6 936.8 1547.3 937.2 1539.1 937.7 1551.3 938.1 1540.1 938.5 1552.3 938.9 1535.6 939.3 1548.8 939.8 1536.8 940.2 1552.2 940.6 1537.5 941.0 1544.4 941.4 1541.7 941.9 1549.6 942.3 1540.1 942.7 1550.6 943.1 1540.1 943.5 1551.0 944.0 1538.9 944.4 1551.9 944.8 1538.5 945.2 1549.6 945.6 1539.0 946.1 1551.0 946.5 1538.1 946.9 1546.1 947.3 1537.8 947.7 1551.1 948.2 1538.6 948.6 1548.2 949.0 1538.7 949.4 1551.4 949.8 1541.8 950.3 1551.2 950.7 1538.9 951.1 1550.6 951.5 1535.5 951.9 1547.8 952.4 1538.1 952.8 1546.7 953.2 1540.0 953.6 1549.6 954.0 1541.1 954.5 1546.5 954.9 1541.6 955.3 1550.9 955.7 1542.5 956.1 1556.1 956.6 1541.5 957.0 1549.3 957.4 1537.7 957.8 1549.4 958.2 1539.3 958.7 1545.7 959.1 1537.7 959.5 1547.9 959.9 1536.5 960.3 1549.0 960.8 1534.8 961.2 1548.5 961.6 1535.4 962.0 1547.9 962.4 1538.8 962.9 1549.9 963.3 1538.7 963.7 1547.9 964.1 1539.7 964.5 1552.5 965.0 1540.1 965.4 1552.4 965.8 1541.4 966.2 1551.1 966.6 1533.0 967.1 1548.3 967.5 1539.8 967.9 1549.7 968.3 1541.9 968.7 1551.8 969.2 1541.6 969.6 1545.3 970.0 1540.9 970.4 1549.1 970.8 1538.9 971.3 1549.0 971.7 1537.9 972.1 1552.1 972.5 1539.0 972.9 1548.8 973.4 1537.3 973.8 1550.5 974.2 1534.0 974.6 1548.4 975.0 1540.8 975.5 1550.6 975.9 1541.7 976.3 1553.6 976.7 1541.2 977.1 1548.0 977.6 1539.1 978.0 1549.8 978.4 1540.4 978.8 1551.4 979.2 1536.6 979.7 1549.4 980.1 1544.2 980.5 1545.9 980.9 1538.6 981.3 1549.5 981.8 1539.6 982.2 1552.9 982.6 1541.5 983.0 1545.8 983.4 1535.4 983.9 1559.5 984.3 1541.6 984.7 1551.2 985.1 1540.5 985.5 1549.0 986.0 1537.6 986.4 1547.0 986.8 1541.3 987.2 1550.4 987.6 1539.5 988.1 1548.9 988.5 1540.7 988.9 1545.3 989.3 1539.7 989.7 1548.5 990.2 1537.7 990.6 1551.5 991.0 1536.8 991.4 1548.4 991.8 1540.0 992.3 1547.8 992.7 1541.1 993.1 1548.9 993.5 1538.4 993.9 1552.8 994.4 1539.2 994.8 1549.2 995.2 1539.8 995.6 1548.2 996.0 1529.9 996.5 1552.4 996.9 1537.8 997.3 1545.0 997.7 1539.8 998.1 1549.5 998.6 1538.3 999.0 1548.2 999.4 1537.8 999.8 1551.4 1000.2 1541.1 1000.7 1548.2 1001.1 1539.2 1001.5 1546.4 1001.9 1540.7 1002.3 1549.6 1002.8 1540.4 1003.2 1550.9 1003.6 1540.2 1004.0 1551.9 1004.4 1539.6 1004.9 1549.2 1005.3 1538.8 1005.7 1551.2 1006.1 1537.1 1006.5 1548.6 1007.0 1539.3 1007.4 1546.9 1007.8 1538.3 1008.2 1548.9 1008.6 1540.5 1009.1 1548.4 1009.5 1541.1 1009.9 1552.1 1010.3 1539.9 1010.7 1546.2 1011.2 1532.5 1011.6 1552.0 1012.0 1538.1 1012.4 1547.9 1012.8 1540.7 1013.3 1550.6 1013.7 1538.0 1014.1 1551.6 1014.5 1540.7 1014.9 1547.9 1015.4 1539.6 1015.8 1546.6 1016.2 1538.8 1016.6 1547.5 1017.0 1540.3 1017.5 1547.8 1017.9 1537.0 1018.3 1547.4 1018.7 1540.0 1019.1 1549.4 1019.6 1534.4 1020.0 1551.4 1020.4 1534.2 1020.8 1549.7 1021.2 1542.7 1021.7 1548.0 1022.1 1537.6 1022.5 1546.9 1022.9 1535.4 1023.3 1551.6 1023.8 1537.8 1024.2 1549.8 1024.6 1538.0 1025.0 1550.3 1025.4 1540.0 1025.9 1551.0 1026.3 1534.5 1026.7 1549.2 1027.1 1538.1 1027.5 1551.1 1028.0 1540.6 1028.4 1547.2 1028.8 1543.8 1029.2 1549.4 1029.6 1539.4 1030.1 1548.2 1030.5 1539.2 1030.9 1551.3 1031.3 1539.1 1031.7 1548.0 1032.2 1540.5 1032.6 1551.8 1033.0 1534.9 1033.4 1550.7 1033.8 1538.6 1034.3 1551.7 1034.7 1540.3 1035.1 1551.5 1035.5 1541.7 1035.9 1548.4 1036.4 1541.4 1036.8 1545.4 1037.2 1538.1 1037.6 1547.4 1038.0 1535.0 1038.5 1550.3 1038.9 1536.6 1039.3 1548.7 1039.7 1540.1 1040.1 1548.4 1040.6 1542.1 1041.0 1548.4 1041.4 1537.6 1041.8 1548.1 1042.2 1541.6 1042.7 1551.0 1043.1 1539.4 1043.5 1551.4 1043.9 1538.5 1044.3 1549.0 1044.8 1539.7 1045.2 1547.3 1045.6 1539.6 1046.0 1550.5 1046.4 1537.9 1046.9 1547.8 1047.3 1538.0 1047.7 1551.3 1048.1 1536.6 1048.5 1548.4 1049.0 1536.6 1049.4 1546.3 1049.8 1543.7 1050.2 1548.5 1050.6 1539.9 1051.1 1547.5 1051.5 1540.5 1051.9 1551.1 1052.3 1537.4 1052.7 1548.5 1053.2 1537.7 1053.6 1548.9 1054.0 1540.3 1054.4 1549.1 1054.8 1542.1 1055.3 1547.1 1055.7 1540.4 1056.1 1552.4 1056.5 1528.8 1056.9 1551.6 1057.4 1540.4 1057.8 1548.8 1058.2 1540.1 1058.6 1549.5 1059.0 1539.7 1059.5 1546.7 1059.9 1536.8 1060.3 1548.1 1060.7 1538.3 1061.1 1547.3 1061.6 1537.4 1062.0 1549.8 1062.4 1539.7 1062.8 1554.1 1063.2 1540.0 1063.7 1552.7 1064.1 1541.6 1064.5 1550.2 1064.9 1540.7 1065.3 1547.2 1065.8 1539.0 1066.2 1550.6 1066.6 1536.5 1067.0 1549.7 1067.4 1540.1 1067.9 1546.7 1068.3 1539.1 1068.7 1547.2 1069.1 1539.3 1069.5 1548.7 1070.0 1536.9 1070.4 1547.0 1070.8 1540.2 1071.2 1549.1 1071.6 1540.3 1072.1 1546.5 1072.5 1543.3 1072.9 1547.6 1073.3 1541.1 1073.7 1546.8 1074.2 1538.0 1074.6 1549.7 1075.0 1537.1 1075.4 1552.7 1075.8 1537.1 1076.3 1548.6 1076.7 1539.7 1077.1 1549.0 1077.5 1538.5 1077.9 1552.3 1078.4 1541.9 1078.8 1549.7 1079.2 1537.9 1079.6 1552.4 1080.0 1537.0 1080.5 1551.1 1080.9 1538.3 1081.3 1547.1 1081.7 1536.1 1082.1 1548.5 1082.6 1541.2 1083.0 1548.9 1083.4 1539.6 1083.8 1548.6 1084.2 1540.8 1084.7 1549.5 1085.1 1539.9 1085.5 1548.9 1085.9 1539.6 1086.3 1551.7 1086.8 1540.4 1087.2 1547.3 1087.6 1538.8 1088.0 1548.0 1088.4 1537.5 1088.9 1549.9 1089.3 1539.8 1089.7 1547.7 1090.1 1537.4 1090.5 1548.7 1091.0 1538.4 1091.4 1549.0 1091.8 1540.5 1092.2 1551.1 1092.6 1535.0 1093.1 1548.2 1093.5 1534.1 1093.9 1545.7 1094.3 1539.1 1094.7 1550.4 1095.2 1542.6 1095.6 1551.5 1096.0 1539.6 1096.4 1546.4 1096.8 1536.5 1097.3 1546.9 1097.7 1539.3 1098.1 1548.7 1098.5 1539.4 1098.9 1551.0 1099.4 1540.4 1099.8 1547.5 1100.2 1541.9 1100.6 1548.2 1101.0 1539.3 1101.5 1549.9 1101.9 1537.7 1102.3 1547.4 1102.7 1539.9 1103.1 1549.3 1103.6 1533.4 1104.0 1550.4 1104.4 1539.5 1104.8 1549.6 1105.2 1542.1 1105.7 1553.2 1106.1 1537.8 1106.5 1551.5 1106.9 1538.9 1107.3 1547.4 1107.8 1543.0 1108.2 1546.6 1108.6 1540.0 1109.0 1547.3 1109.4 1537.9 1109.9 1547.7 1110.3 1538.7 1110.7 1550.4 1111.1 1538.5 1111.5 1547.9 1112.0 1537.3 1112.4 1549.0 1112.8 1537.1 1113.2 1550.0 1113.6 1537.8 1114.1 1549.5 1114.5 1543.1 1114.9 1546.5 1115.3 1535.2 1115.7 1546.1 1116.2 1534.1 1116.6 1549.2 1117.0 1544.2 1117.4 1545.3 1117.8 1534.5 1118.3 1551.0 1118.7 1536.7 1119.1 1552.8 1119.5 1537.6 1119.9 1548.4 1120.4 1537.3 1120.8 1550.6 1121.2 1541.2 1121.6 1549.4 1122.0 1540.5 1122.5 1548.2 1122.9 1540.0 1123.3 1548.3 1123.7 1539.8 1124.1 1552.1 1124.6 1536.3 1125.0 1552.4 1125.4 1539.4 1125.8 1551.1 1126.2 1538.1 1126.7 1557.9 1127.1 1540.0 1127.5 1549.9 1127.9 1537.3 1128.3 1546.3 1128.8 1539.1 1129.2 1551.7 1129.6 1540.9 1130.0 1551.0 1130.4 1531.9 1130.9 1548.9 1131.3 1538.4 1131.7 1550.0 1132.1 1538.9 1132.5 1547.2 1133.0 1538.6 1133.4 1547.1 1133.8 1542.1 1134.2 1551.7 1134.6 1537.9 1135.1 1547.5 1135.5 1538.2 1135.9 1548.4 1136.3 1538.8 1136.7 1549.6 1137.2 1537.8 1137.6 1549.6 1138.0 1538.2 1138.4 1547.4 1138.8 1541.6 1139.3 1550.2 1139.7 1540.0 1140.1 1547.1 1140.5 1540.2 1140.9 1556.8 1141.4 1538.9 1141.8 1553.5 1142.2 1540.2 1142.6 1547.9 1143.0 1539.4 1143.5 1549.3 1143.9 1539.4 1144.3 1547.5 1144.7 1537.1 1145.1 1548.8 1145.6 1536.9 1146.0 1548.9 1146.4 1535.8 1146.8 1546.5 1147.2 1536.0 1147.7 1551.9 1148.1 1536.6 1148.5 1547.4 1148.9 1540.2 1149.3 1550.5 1149.8 1540.7 1150.2 1547.3 1150.6 1541.4 1151.0 1549.8 1151.4 1539.5 1151.9 1553.6 1152.3 1536.0 1152.7 1553.0 1153.1 1539.6 1153.5 1548.5 1154.0 1541.5 1154.4 1552.0 1154.8 1537.4 1155.2 1548.8 1155.6 1540.2 1156.1 1548.5 1156.5 1537.2 1156.9 1550.8 1157.3 1536.8 1157.7 1543.8 1158.2 1539.3 1158.6 1547.4 1159.0 1540.8 1159.4 1550.3 1159.8 1539.5 1160.3 1547.6 1160.7 1539.9 1161.1 1549.9 1161.5 1540.4 1161.9 1548.5 1162.4 1537.8 1162.8 1550.5 1163.2 1540.6 1163.6 1549.2 1164.0 1539.5 1164.5 1550.7 1164.9 1537.5 1165.3 1545.9 1165.7 1537.2 1166.1 1547.6 1166.6 1539.7 1167.0 1549.6 1167.4 1537.5 1167.8 1553.7 1168.2 1540.5 1168.7 1547.0 1169.1 1544.6 1169.5 1544.6 1169.9 1536.9 1170.3 1548.3 1170.8 1537.4 1171.2 1551.0 1171.6 1539.5 1172.0 1549.9 1172.4 1540.6 1172.9 1547.5 1173.3 1537.7 1173.7 1547.6 1174.1 1539.3 1174.5 1551.6 1175.0 1539.2 1175.4 1550.7 1175.8 1536.4 1176.2 1551.4 1176.6 1540.5 1177.1 1546.6 1177.5 1537.7 1177.9 1545.2 1178.3 1538.5 1178.7 1553.5 1179.2 1539.4 1179.6 1552.0 1180.0 1538.4 1180.4 1548.0 1180.8 1538.8 1181.3 1547.2 1181.7 1542.1 1182.1 1549.2 1182.5 1542.6 1182.9 1546.9 1183.4 1539.3 1183.8 1552.1 1184.2 1538.9 1184.6 1546.7 1185.0 1541.2 1185.5 1550.6 1185.9 1537.9 1186.3 1547.1 1186.7 1541.7 1187.1 1549.2 1187.6 1545.3 1188.0 1549.8 1188.4 1535.7 1188.8 1549.0 1189.2 1537.9 1189.7 1547.9 1190.1 1540.3 1190.5 1549.7 1190.9 1540.5 1191.3 1549.4 1191.8 1537.7 1192.2 1548.8 1192.6 1541.5 1193.0 1553.3 1193.4 1532.1 1193.9 1550.4 1194.3 1537.2 1194.7 1549.7 1195.1 1541.2 1195.5 1552.4 1196.0 1539.8 1196.4 1548.5 1196.8 1539.7 1197.2 1548.8 1197.6 1535.9 1198.1 1544.3 1198.5 1537.1 1198.9 1551.5 1199.3 1537.2 1199.7 1547.5 1200.2 1537.5 1200.6 1549.2 1201.0 1540.6 1201.4 1547.7 1201.8 1537.6 1202.3 1548.7 1202.7 1538.1 1203.1 1548.4 1203.5 1539.0 1203.9 1549.4 1204.4 1537.4 1204.8 1549.7 1205.2 1537.6 1205.6 1548.1 1206.0 1538.6 1206.5 1550.2 1206.9 1537.1 1207.3 1549.8 1207.7 1538.3 1208.1 1548.6 1208.6 1540.5 1209.0 1552.8 1209.4 1539.5 1209.8 1547.7 1210.2 1536.4 1210.7 1550.1 1211.1 1537.6 1211.5 1554.1 1211.9 1541.1 1212.3 1550.5 1212.8 1535.0 1213.2 1550.8 1213.6 1539.5 1214.0 1550.5 1214.4 1539.3 1214.9 1549.8 1215.3 1539.8 1215.7 1549.8 1216.1 1537.3 1216.5 1551.0 1217.0 1541.3 1217.4 1551.3 1217.8 1540.8 1218.2 1549.0 1218.6 1538.1 1219.1 1547.1 1219.5 1536.6 1219.9 1552.5 1220.3 1538.7 1220.7 1547.0 1221.2 1538.6 1221.6 1548.3 1222.0 1541.3 1222.4 1549.6 1222.8 1538.9 1223.3 1546.3 1223.7 1537.2 1224.1 1547.4 1224.5 1541.0 1224.9 1551.2 1225.4 1540.2 1225.8 1549.7 1226.2 1542.3 1226.6 1549.5 1227.0 1539.3 1227.5 1547.1 1227.9 1541.0 1228.3 1545.9 1228.7 1536.5 1229.1 1548.4 1229.6 1539.5 1230.0 1549.3 1230.4 1540.4 1230.8 1549.0 1231.2 1537.6 1231.7 1556.9 1232.1 1540.3 1232.5 1547.8 1232.9 1541.4 1233.3 1553.8 1233.8 1537.1 1234.2 1550.3 1234.6 1537.2 1235.0 1549.8 1235.4 1538.7 1235.9 1549.0 1236.3 1539.7 1236.7 1551.7 1237.1 1538.9 1237.5 1550.9 1238.0 1538.8 1238.4 1551.6 1238.8 1539.6 1239.2 1551.3 1239.6 1540.8 1240.1 1548.4 1240.5 1541.2 1240.9 1546.3 1241.3 1539.2 1241.7 1549.5 1242.2 1535.6 1242.6 1549.0 1243.0 1541.2 1243.4 1547.1 1243.8 1537.7 1244.3 1549.1 1244.7 1541.4 1245.1 1550.9 1245.5 1537.0 1245.9 1548.9 1246.4 1535.0 1246.8 1547.3 1247.2 1541.6 1247.6 1548.9 1248.0 1539.5 1248.5 1555.6 1248.9 1539.6 1249.3 1551.0 1249.7 1538.9 1250.1 1549.8 1250.6 1537.2 1251.0 1546.3 1251.4 1538.2 1251.8 1548.5 1252.2 1539.4 1252.7 1547.8 1253.1 1539.2 1253.5 1547.9 1253.9 1537.3 1254.3 1549.1 1254.8 1537.2 1255.2 1548.1 1255.6 1538.0 1256.0 1549.4 1256.4 1540.3 1256.9 1547.6 1257.3 1538.9 1257.7 1547.3 1258.1 1541.8 1258.5 1550.7 1259.0 1542.5 1259.4 1549.9 1259.8 1538.4 1260.2 1549.7 1260.6 1540.9 1261.1 1549.4 1261.5 1540.4 1261.9 1549.2 1262.3 1538.0 1262.7 1548.8 1263.2 1536.9 1263.6 1548.4 1264.0 1536.8 1264.4 1550.0 1264.8 1539.9 1265.3 1550.3 1265.7 1539.0 1266.1 1546.7 1266.5 1539.7 1266.9 1552.1 1267.4 1540.8 1267.8 1549.1 1268.2 1538.8 1268.6 1549.9 1269.0 1538.8 1269.5 1548.2 1269.9 1541.9 1270.3 1546.7 1270.7 1537.2 1271.1 1546.7 1271.6 1539.8 1272.0 1553.7 1272.4 1542.3 1272.8 1549.1 1273.2 1541.5 1273.7 1550.5 1274.1 1541.1 1274.5 1551.4 1274.9 1544.0 1275.3 1548.6 1275.8 1541.0 1276.2 1549.0 1276.6 1540.8 1277.0 1548.6 1277.4 1541.7 1277.9 1551.2 1278.3 1539.4 1278.7 1552.4 1279.1 1539.6 1279.5 1548.9 1280.0 1539.6 1280.4 1547.7 1280.8 1541.1 1281.2 1550.4 1281.6 1537.5 1282.1 1547.7 1282.5 1536.7 1282.9 1552.1 1283.3 1539.7 1283.7 1552.4 1284.2 1538.7 1284.6 1553.8 1285.0 1537.2 1285.4 1546.7 1285.8 1538.8 1286.3 1546.4 1286.7 1539.5 1287.1 1548.0 1287.5 1537.9 1287.9 1549.8 1288.4 1540.5 1288.8 1546.9 1289.2 1543.2 1289.6 1549.1 1290.0 1538.2 1290.5 1549.9 1290.9 1539.7 1291.3 1550.6 1291.7 1539.6 1292.1 1547.3 1292.6 1539.2 1293.0 1549.3 1293.4 1539.0 1293.8 1549.2 1294.2 1539.5 1294.7 1549.4 1295.1 1533.4 1295.5 1551.2 1295.9 1540.4 1296.3 1549.9 1296.8 1543.0 1297.2 1555.2 1297.6 1541.8 1298.0 1549.0 1298.4 1539.8 1298.9 1549.6 1299.3 1540.7 1299.7 1550.4 1300.1 1538.3 1300.5 1549.1 1301.0 1537.4 1301.4 1546.8 1301.8 1535.5 1302.2 1549.3 1302.6 1538.5 1303.1 1546.8 1303.5 1542.9 1303.9 1549.6 1304.3 1537.5 1304.7 1550.3 1305.2 1541.7 1305.6 1550.4 1306.0 1537.7 1306.4 1551.5 1306.8 1538.2 1307.3 1551.9 1307.7 1538.2 1308.1 1551.3 1308.5 1541.5 1308.9 1546.5 1309.4 1539.9 1309.8 1550.1 1310.2 1540.9 1310.6 1549.4 1311.0 1541.4 1311.5 1550.1 1311.9 1535.6 1312.3 1549.8 1312.7 1537.9 1313.1 1548.8 1313.6 1539.5 1314.0 1548.8 1314.4 1536.8 1314.8 1545.9 1315.2 1539.3 1315.7 1546.6 1316.1 1540.2 1316.5 1548.3 1316.9 1538.5 1317.3 1550.8 1317.8 1536.3 1318.2 1550.1 1318.6 1543.5 1319.0 1547.4 1319.4 1532.6 1319.9 1552.3 1320.3 1542.1 1320.7 1548.1 1321.1 1538.8 1321.5 1549.1 1322.0 1542.0 1322.4 1548.2 1322.8 1538.9 1323.2 1548.8 1323.6 1538.9 1324.1 1550.1 1324.5 1536.1 1324.9 1548.6 1325.3 1535.8 1325.7 1547.8 1326.2 1538.7 1326.6 1548.1 1327.0 1542.4 1327.4 1550.8 1327.8 1537.5 1328.3 1547.7 1328.7 1538.6 1329.1 1550.7 1329.5 1537.9 1329.9 1550.1 1330.4 1539.4 1330.8 1548.2 1331.2 1539.4 1331.6 1550.6 1332.0 1537.0 1332.5 1549.7 1332.9 1538.5 1333.3 1553.6 1333.7 1540.1 1334.1 1551.3 1334.6 1536.7 1335.0 1547.6 1335.4 1538.6 1335.8 1551.7 1336.2 1537.4 1336.7 1550.8 1337.1 1534.5 1337.5 1551.6 1337.9 1540.2 1338.3 1549.6 1338.8 1538.0 1339.2 1551.1 1339.6 1531.3 1340.0 1547.2 1340.4 1538.6 1340.9 1550.0 1341.3 1541.8 1341.7 1558.4 1342.1 1537.6 1342.5 1550.9 1343.0 1540.1 1343.4 1549.0 1343.8 1540.4 1344.2 1550.6 1344.6 1537.2 1345.1 1547.1 1345.5 1538.9 1345.9 1545.5 1346.3 1539.0 1346.7 1549.9 1347.2 1540.1 1347.6 1549.3 1348.0 1541.2 1348.4 1552.1 1348.8 1539.5 1349.3 1548.9 1349.7 1535.9 1350.1 1554.4 1350.5 1540.2 1350.9 1551.9 1351.4 1541.9 1351.8 1549.9 1352.2 1537.5 1352.6 1549.4 1353.0 1537.8 1353.5 1544.2 1353.9 1541.1 1354.3 1549.7 1354.7 1539.8 1355.1 1546.0 1355.6 1539.5 1356.0 1548.2 1356.4 1540.7 1356.8 1546.0 1357.2 1538.3 1357.7 1550.6 1358.1 1541.3 1358.5 1546.4 1358.9 1541.4 1359.3 1548.2 1359.8 1541.6 1360.2 1548.6 1360.6 1533.1 1361.0 1547.9 1361.4 1538.2 1361.9 1550.8 1362.3 1539.6 1362.7 1548.5 1363.1 1542.2 1363.5 1549.9 1364.0 1541.4 1364.4 1547.7 1364.8 1538.7 1365.2 1548.4 1365.6 1539.6 1366.1 1550.2 1366.5 1536.9 1366.9 1551.1 1367.3 1541.5 1367.7 1551.2 1368.2 1537.7 1368.6 1552.8 1369.0 1539.0 1369.4 1549.0 1369.8 1539.4 1370.3 1550.9 1370.7 1540.5 1371.1 1549.9 1371.5 1537.8 1371.9 1547.4 1372.4 1542.5 1372.8 1548.5 1373.2 1539.2 1373.6 1551.3 1374.0 1538.8 1374.5 1547.2 1374.9 1540.2 1375.3 1546.4 1375.7 1540.1 1376.1 1549.6 1376.6 1538.0 1377.0 1548.0 1377.4 1540.8 1377.8 1550.1 1378.2 1541.0 1378.7 1550.2 1379.1 1538.2 1379.5 1547.2 1379.9 1538.5 1380.3 1550.8 1380.8 1541.2 1381.2 1549.9 1381.6 1539.6 1382.0 1546.4 1382.4 1542.3 1382.9 1552.6 1383.3 1542.9 1383.7 1549.8 1384.1 1535.8 1384.5 1547.0 1385.0 1536.3 1385.4 1550.0 1385.8 1538.9 1386.2 1549.0 1386.6 1539.4 1387.1 1547.6 1387.5 1542.7 1387.9 1547.5 1388.3 1542.7 1388.7 1549.6 1389.2 1539.7 1389.6 1548.7 1390.0 1540.6 1390.4 1546.3 1390.8 1541.1 1391.3 1554.1 1391.7 1542.1 1392.1 1546.6 1392.5 1536.7 1392.9 1549.5 1393.4 1535.6 1393.8 1547.6 1394.2 1540.7 1394.6 1546.8 1395.0 1536.1 1395.5 1546.8 1395.9 1538.8 1396.3 1551.0 1396.7 1538.5 1397.1 1550.6 1397.6 1539.6 1398.0 1549.2 1398.4 1538.8 1398.8 1547.8 1399.2 1540.4 1399.7 1549.7 1400.1 1537.2 1400.5 1549.4 1400.9 1538.1 1401.3 1548.5 1401.8 1534.9 1402.2 1552.0 1402.6 1538.9 1403.0 1549.8 1403.4 1540.7 1403.9 1547.1 1404.3 1539.3 1404.7 1550.1 1405.1 1535.7 1405.5 1547.0 1406.0 1540.2 1406.4 1543.5 1406.8 1536.3 1407.2 1546.8 1407.6 1539.4 1408.1 1550.7 1408.5 1540.0 1408.9 1550.0 1409.3 1540.7 1409.7 1548.3 1410.2 1539.4 1410.6 1546.5 1411.0 1540.8 1411.4 1546.3 1411.8 1539.4 1412.3 1548.9 1412.7 1541.6 1413.1 1551.7 1413.5 1538.0 1413.9 1548.8 1414.4 1539.0 1414.8 1551.5 1415.2 1536.6 1415.6 1546.2 1416.0 1542.1 1416.5 1547.3 1416.9 1542.2 1417.3 1549.5 1417.7 1538.5 1418.1 1551.7 1418.6 1540.9 1419.0 1546.5 1419.4 1537.2 1419.8 1548.9 1420.2 1540.1 1420.7 1550.6 1421.1 1540.9 1421.5 1546.1 1421.9 1538.0 1422.3 1545.8 1422.8 1543.2 1423.2 1550.3 1423.6 1539.7 1424.0 1547.1 1424.4 1536.8 1424.9 1547.5 1425.3 1540.1 1425.7 1547.3 1426.1 1541.8 1426.5 1548.8 1427.0 1539.3 1427.4 1548.1 1427.8 1542.3 1428.2 1546.3 1428.6 1539.7 1429.1 1551.4 1429.5 1540.2 1429.9 1547.0 1430.3 1540.5 1430.7 1546.0 1431.2 1540.2 1431.6 1548.4 1432.0 1537.6 1432.4 1550.3 1432.8 1536.6 1433.3 1551.8 1433.7 1543.6 1434.1 1548.1 1434.5 1537.3 1434.9 1551.7 1435.4 1538.4 1435.8 1551.7 1436.2 1539.9 1436.6 1544.8 1437.0 1537.9 1437.5 1552.5 1437.9 1540.5 1438.3 1544.7 1438.7 1539.8 1439.1 1548.2 1439.6 1539.0 1440.0 1550.5 1440.4 1539.4 1440.8 1548.1 1441.2 1538.4 1441.7 1553.4 1442.1 1539.5 1442.5 1551.4 1442.9 1536.5 1443.3 1547.0 1443.8 1541.0 1444.2 1549.5 1444.6 1539.1 1445.0 1549.0 1445.4 1540.6 1445.9 1551.1 1446.3 1539.2 1446.7 1554.5 1447.1 1536.9 1447.5 1549.4 1448.0 1537.9 1448.4 1549.1 1448.8 1540.7 1449.2 1550.0 1449.6 1540.4 1450.1 1549.1 1450.5 1538.7 1450.9 1549.2 1451.3 1538.7 1451.7 1550.3 1452.2 1538.3 1452.6 1548.6 1453.0 1536.6 1453.4 1549.1 1453.8 1539.5 1454.3 1546.8 1454.7 1541.0 1455.1 1547.4 1455.5 1538.7 1455.9 1548.6 1456.4 1540.4 1456.8 1546.3 1457.2 1538.8 1457.6 1547.2 1458.0 1534.3 1458.5 1550.8 1458.9 1536.8 1459.3 1549.6 1459.7 1540.8 1460.1 1549.8 1460.6 1539.5 1461.0 1550.5 1461.4 1538.1 1461.8 1547.9 1462.2 1538.5 1462.7 1546.9 1463.1 1540.0 1463.5 1549.8 1463.9 1539.9 1464.3 1550.2 1464.8 1537.9 1465.2 1547.6 1465.6 1540.0 1466.0 1549.9 1466.4 1540.9 1466.9 1548.5 1467.3 1539.3 1467.7 1550.3 1468.1 1529.4 1468.5 1550.6 1469.0 1534.6 1469.4 1550.4 1469.8 1538.9 1470.2 1546.4 1470.6 1539.3 1471.1 1548.0 1471.5 1534.3 1471.9 1551.2 1472.3 1540.6 1472.7 1549.9 1473.2 1535.2 1473.6 1547.9 1474.0 1536.1 1474.4 1548.3 1474.8 1541.4 1475.3 1548.2 1475.7 1540.3 1476.1 1547.3 1476.5 1537.4 1476.9 1550.1 1477.4 1532.4 1477.8 1551.2 1478.2 1537.7 1478.6 1556.1 1479.0 1538.7 1479.5 1550.3 1479.9 1540.6 1480.3 1547.2 1480.7 1539.9 1481.1 1549.8 1481.6 1538.2 1482.0 1550.0 1482.4 1540.9 1482.8 1547.6 1483.2 1537.7 1483.7 1548.9 1484.1 1538.0 1484.5 1550.0 1484.9 1540.5 1485.3 1548.6 1485.8 1537.9 1486.2 1548.6 1486.6 1543.8 1487.0 1552.3 1487.4 1537.2 1487.9 1547.3 1488.3 1541.6 1488.7 1552.4 1489.1 1536.0 1489.5 1548.9 1490.0 1540.0 1490.4 1549.8 1490.8 1538.1 1491.2 1549.4 1491.6 1540.2 1492.1 1549.7 1492.5 1539.7 1492.9 1549.7 1493.3 1538.6 1493.7 1553.5 1494.2 1537.3 1494.6 1548.9 1495.0 1540.8 1495.4 1548.5 1495.8 1538.6 1496.3 1548.5 1496.7 1542.3 1497.1 1545.7 1497.5 1542.0 1497.9 1548.0 1498.4 1539.7 1498.8 1547.0 1499.2 1541.5 1499.6 1550.7 1500.0 1540.3 1500.5 1548.6 1500.9 1541.0 1501.3 1549.0 1501.7 1537.1 1502.1 1553.9 1502.6 1537.8 1503.0 1550.4 1503.4 1539.5 1503.8 1547.9 1504.2 1538.7 1504.7 1552.6 1505.1 1541.6 1505.5 1547.4 1505.9 1539.6 1506.3 1549.2 1506.8 1541.5 1507.2 1547.1 1507.6 1539.2 1508.0 1549.7 1508.4 1535.1 1508.9 1546.0 1509.3 1539.9 1509.7 1543.8 1510.1 1536.1 1510.5 1550.1 1511.0 1540.5 1511.4 1549.6 1511.8 1540.0 1512.2 1549.3 1512.6 1537.2 1513.1 1549.9 1513.5 1541.2 1513.9 1547.9 1514.3 1539.1 1514.7 1549.9 1515.2 1537.5 1515.6 1548.4 1516.0 1538.2 1516.4 1549.6 1516.8 1540.2 1517.3 1546.5 1517.7 1535.2 1518.1 1547.4 1518.5 1540.6 1518.9 1545.8 1519.4 1533.3 1519.8 1552.4 1520.2 1536.9 1520.6 1546.5 1521.0 1538.0 1521.5 1548.1 1521.9 1536.2 1522.3 1552.1 1522.7 1540.2 1523.1 1545.8 1523.6 1542.9 1524.0 1550.0 1524.4 1541.4 1524.8 1548.2 1525.2 1537.0 1525.7 1546.7 1526.1 1538.9 1526.5 1549.9 1526.9 1539.4 1527.3 1548.9 1527.8 1535.7 1528.2 1550.7 1528.6 1540.9 1529.0 1548.4 1529.4 1539.8 1529.9 1547.9 1530.3 1536.2 1530.7 1551.3 1531.1 1538.3 1531.5 1552.4 1532.0 1539.5 1532.4 1546.5 1532.8 1534.6 1533.2 1550.2 1533.6 1538.3 1534.1 1554.6 1534.5 1538.5 1534.9 1549.3 1535.3 1536.2 1535.7 1550.9 1536.2 1539.4 1536.6 1548.8 1537.0 1542.0 1537.4 1550.5 1537.8 1540.6 1538.3 1548.1 1538.7 1541.7 1539.1 1551.5 1539.5 1538.0 1539.9 1549.6 1540.4 1539.0 1540.8 1550.4 1541.2 1538.2" fill="none" stroke="#2547a0" stroke-width="1"/>
<line x1="859.91" y1="1545.5" x2="859.91" y2="1468.12" stroke="#3c5cae" stroke-width="1.1"/>
<line x1="1111.41" y1="1545.5" x2="1111.41" y2="1494.19" stroke="#3c5cae" stroke-width="1.1"/>
<line x1="1118.84" y1="1545.5" x2="1118.84" y2="1421.13" stroke="#3c5cae" stroke-width="1.1"/>
<line x1="1137.09" y1="1545.5" x2="1137.09" y2="1478.91" stroke="#3c5cae" stroke-width="1.1"/>
<line x1="1139.76" y1="1545.5" x2="1139.76" y2="1479.81" stroke="#3c5cae" stroke-width="1.1"/>
<line x1="1149.53" y1="1545.5" x2="1149.53" y2="1478.91" stroke="#3c5cae" stroke-width="1.1"/>
<line x1="1169.4" y1="1545.5" x2="1169.4" y2="1498.01" stroke="#3c5cae" stroke-width="1.1"/>
<line x1="1208.02" y1="1545.5" x2="1208.02" y2="1488.57" stroke="#3c5cae" stroke-width="1.1"/>
<line x1="1215.77" y1="1545.5" x2="1215.77" y2="1373.7" stroke="#3c5cae" stroke-width="1.1"/>
<line x1="1218.75" y1="1545.5" x2="1218.75" y2="1470.36" stroke="#3c5cae" stroke-width="1.1"/>
<line x1="1221.39" y1="1545.5" x2="1221.39" y2="1369.65" stroke="#3c5cae" stroke-width="1.1"/>
<line x1="1225.15" y1="1545.5" x2="1225.15" y2="1472.61" stroke="#3c5cae" stroke-width="1.1"/>
<line x1="1226.46" y1="1545.5" x2="1226.46" y2="1474.86" stroke="#3c5cae" stroke-width="1.1"/>
<line x1="1232.43" y1="1545.5" x2="1232.43" y2="1490.6" stroke="#3c5cae" stroke-width="1.1"/>
<line x1="1235.37" y1="1545.5" x2="1235.37" y2="1478.23" stroke="#3c5cae" stroke-width="1.1"/>
<line x1="1238.67" y1="1545.5" x2="1238.67" y2="1368.75" stroke="#3c5cae" stroke-width="1.1"/>
<line x1="1239.09" y1="1545.5" x2="1239.09" y2="1398.43" stroke="#3c5cae" stroke-width="1.1"/>
<line x1="1241.03" y1="1545.5" x2="1241.03" y2="1472.61" stroke="#3c5cae" stroke-width="1.1"/>
<line x1="1243.39" y1="1545.5" x2="1243.39" y2="1463.62" stroke="#3c5cae" stroke-width="1.1"/>
<line x1="1256.06" y1="1545.5" x2="1256.06" y2="1523.42" stroke="#3c5cae" stroke-width="1.1"/>
<line x1="1258.58" y1="1545.5" x2="1258.58" y2="1470.36" stroke="#3c5cae" stroke-width="1.1"/>
<line x1="1261.25" y1="1545.5" x2="1261.25" y2="1336.61" stroke="#3c5cae" stroke-width="1.1"/>
<line x1="1261.68" y1="1545.5" x2="1261.68" y2="1459.12" stroke="#3c5cae" stroke-width="1.1"/>
<line x1="1262.88" y1="1545.5" x2="1262.88" y2="1459.12" stroke="#3c5cae" stroke-width="1.1"/>
<line x1="1263.77" y1="1545.5" x2="1263.77" y2="1472.61" stroke="#3c5cae" stroke-width="1.1"/>
<line x1="1265.75" y1="1545.5" x2="1265.75" y2="1454.63" stroke="#3c5cae" stroke-width="1.1"/>
<line x1="1266.21" y1="1545.5" x2="1266.21" y2="1474.86" stroke="#3c5cae" stroke-width="1.1"/>
<line x1="1267.18" y1="1545.5" x2="1267.18" y2="1483.85" stroke="#3c5cae" stroke-width="1.1"/>
<line x1="1267.88" y1="1545.5" x2="1267.88" y2="1492.84" stroke="#3c5cae" stroke-width="1.1"/>
<line x1="1269.62" y1="1545.5" x2="1269.62" y2="1468.12" stroke="#3c5cae" stroke-width="1.1"/>
<line x1="1274.04" y1="1545.5" x2="1274.04" y2="1472.61" stroke="#3c5cae" stroke-width="1.1"/>
<line x1="1275.04" y1="1545.5" x2="1275.04" y2="1474.86" stroke="#3c5cae" stroke-width="1.1"/>
<line x1="1280.47" y1="1545.5" x2="1280.47" y2="1513.08" stroke="#3c5cae" stroke-width="1.1"/>
<line x1="1291.7" y1="1545.5" x2="1291.7" y2="1306.26" stroke="#3c5cae" stroke-width="1.1"/>
<line x1="1292.4" y1="1545.5" x2="1292.4" y2="1400.68" stroke="#3c5cae" stroke-width="1.1"/>
<line x1="1293.1" y1="1545.5" x2="1293.1" y2="1474.86" stroke="#3c5cae" stroke-width="1.1"/>
<line x1="1298.29" y1="1545.5" x2="1298.29" y2="1378.2" stroke="#3c5cae" stroke-width="1.1"/>
<line x1="1328.7" y1="1545.5" x2="1328.7" y2="1486.1" stroke="#3c5cae" stroke-width="1.1"/>
<line x1="1350.2" y1="1545.5" x2="1350.2" y2="1447.88" stroke="#3c5cae" stroke-width="1.1"/>
<line x1="1450.3" y1="1545.5" x2="1450.3" y2="1383.82" stroke="#3c5cae" stroke-width="1.1"/>
<line x1="1470.22" y1="1545.5" x2="1470.22" y2="1331.21" stroke="#3c5cae" stroke-width="1.1"/>
<rect x="1347.44" y="1091.8" width="3.2" height="454.2" fill="#23449c"/>
<line x1="1346.84" y1="1358" x2="1346.84" y2="1546" stroke="#2a4ba4" stroke-width="1"/>
<line x1="1351.24" y1="1420" x2="1351.24" y2="1546" stroke="#2a4ba4" stroke-width="1"/>
<line x1="765.8" y1="1091.8" x2="765.8" y2="1572.4" stroke="#3a3a3a" stroke-width="1.3" stroke-dasharray="2 1"/>
<line x1="765.8" y1="1572.4" x2="1541.6" y2="1572.4" stroke="#505050" stroke-width="1.4"/>
<line x1="1541.6" y1="1091.8" x2="1541.6" y2="1572.4" stroke="#505050" stroke-width="1.4"/>
<line x1="1540.8" y1="1572.4" x2="1540.8" y2="1578.9" stroke="#505050" stroke-width="1.2"/>
<line x1="1502.06" y1="1572.4" x2="1502.06" y2="1576.6" stroke="#505050" stroke-width="1.2"/>
<line x1="1463.32" y1="1572.4" x2="1463.32" y2="1576.6" stroke="#505050" stroke-width="1.2"/>
<line x1="1424.58" y1="1572.4" x2="1424.58" y2="1576.6" stroke="#505050" stroke-width="1.2"/>
<line x1="1385.84" y1="1572.4" x2="1385.84" y2="1576.6" stroke="#505050" stroke-width="1.2"/>
<line x1="1347.1" y1="1572.4" x2="1347.1" y2="1578.9" stroke="#505050" stroke-width="1.2"/>
<line x1="1308.36" y1="1572.4" x2="1308.36" y2="1576.6" stroke="#505050" stroke-width="1.2"/>
<line x1="1269.62" y1="1572.4" x2="1269.62" y2="1576.6" stroke="#505050" stroke-width="1.2"/>
<line x1="1230.88" y1="1572.4" x2="1230.88" y2="1576.6" stroke="#505050" stroke-width="1.2"/>
<line x1="1192.14" y1="1572.4" x2="1192.14" y2="1576.6" stroke="#505050" stroke-width="1.2"/>
<line x1="1153.4" y1="1572.4" x2="1153.4" y2="1578.9" stroke="#505050" stroke-width="1.2"/>
<line x1="1114.66" y1="1572.4" x2="1114.66" y2="1576.6" stroke="#505050" stroke-width="1.2"/>
<line x1="1075.92" y1="1572.4" x2="1075.92" y2="1576.6" stroke="#505050" stroke-width="1.2"/>
<line x1="1037.18" y1="1572.4" x2="1037.18" y2="1576.6" stroke="#505050" stroke-width="1.2"/>
<line x1="998.44" y1="1572.4" x2="998.44" y2="1576.6" stroke="#505050" stroke-width="1.2"/>
<line x1="959.7" y1="1572.4" x2="959.7" y2="1578.9" stroke="#505050" stroke-width="1.2"/>
<line x1="920.96" y1="1572.4" x2="920.96" y2="1576.6" stroke="#505050" stroke-width="1.2"/>
<line x1="882.22" y1="1572.4" x2="882.22" y2="1576.6" stroke="#505050" stroke-width="1.2"/>
<line x1="843.48" y1="1572.4" x2="843.48" y2="1576.6" stroke="#505050" stroke-width="1.2"/>
<line x1="804.74" y1="1572.4" x2="804.74" y2="1576.6" stroke="#505050" stroke-width="1.2"/>
<line x1="1541.6" y1="1542.3" x2="1548.8" y2="1542.3" stroke="#505050" stroke-width="1.2"/>
<line x1="1541.6" y1="1537.8" x2="1543.2" y2="1537.8" stroke="#888" stroke-width="0.8"/>
<line x1="1541.6" y1="1533.31" x2="1543.2" y2="1533.31" stroke="#888" stroke-width="0.8"/>
<line x1="1541.6" y1="1528.81" x2="1543.2" y2="1528.81" stroke="#888" stroke-width="0.8"/>
<line x1="1541.6" y1="1524.32" x2="1543.2" y2="1524.32" stroke="#888" stroke-width="0.8"/>
<line x1="1541.6" y1="1519.82" x2="1545.8" y2="1519.82" stroke="#505050" stroke-width="1.1"/>
<line x1="1541.6" y1="1515.32" x2="1543.2" y2="1515.32" stroke="#888" stroke-width="0.8"/>
<line x1="1541.6" y1="1510.83" x2="1543.2" y2="1510.83" stroke="#888" stroke-width="0.8"/>
<line x1="1541.6" y1="1506.33" x2="1543.2" y2="1506.33" stroke="#888" stroke-width="0.8"/>
<line x1="1541.6" y1="1501.84" x2="1543.2" y2="1501.84" stroke="#888" stroke-width="0.8"/>
<line x1="1541.6" y1="1497.34" x2="1545.8" y2="1497.34" stroke="#505050" stroke-width="1.1"/>
<line x1="1541.6" y1="1492.84" x2="1543.2" y2="1492.84" stroke="#888" stroke-width="0.8"/>
<line x1="1541.6" y1="1488.35" x2="1543.2" y2="1488.35" stroke="#888" stroke-width="0.8"/>
<line x1="1541.6" y1="1483.85" x2="1543.2" y2="1483.85" stroke="#888" stroke-width="0.8"/>
<line x1="1541.6" y1="1479.36" x2="1543.2" y2="1479.36" stroke="#888" stroke-width="0.8"/>
<line x1="1541.6" y1="1474.86" x2="1545.8" y2="1474.86" stroke="#505050" stroke-width="1.1"/>
<line x1="1541.6" y1="1470.36" x2="1543.2" y2="1470.36" stroke="#888" stroke-width="0.8"/>
<line x1="1541.6" y1="1465.87" x2="1543.2" y2="1465.87" stroke="#888" stroke-width="0.8"/>
<line x1="1541.6" y1="1461.37" x2="1543.2" y2="1461.37" stroke="#888" stroke-width="0.8"/>
<line x1="1541.6" y1="1456.88" x2="1543.2" y2="1456.88" stroke="#888" stroke-width="0.8"/>
<line x1="1541.6" y1="1452.38" x2="1545.8" y2="1452.38" stroke="#505050" stroke-width="1.1"/>
<line x1="1541.6" y1="1447.88" x2="1543.2" y2="1447.88" stroke="#888" stroke-width="0.8"/>
<line x1="1541.6" y1="1443.39" x2="1543.2" y2="1443.39" stroke="#888" stroke-width="0.8"/>
<line x1="1541.6" y1="1438.89" x2="1543.2" y2="1438.89" stroke="#888" stroke-width="0.8"/>
<line x1="1541.6" y1="1434.4" x2="1543.2" y2="1434.4" stroke="#888" stroke-width="0.8"/>
<line x1="1541.6" y1="1429.9" x2="1548.8" y2="1429.9" stroke="#505050" stroke-width="1.2"/>
<line x1="1541.6" y1="1425.4" x2="1543.2" y2="1425.4" stroke="#888" stroke-width="0.8"/>
<line x1="1541.6" y1="1420.91" x2="1543.2" y2="1420.91" stroke="#888" stroke-width="0.8"/>
<line x1="1541.6" y1="1416.41" x2="1543.2" y2="1416.41" stroke="#888" stroke-width="0.8"/>
<line x1="1541.6" y1="1411.92" x2="1543.2" y2="1411.92" stroke="#888" stroke-width="0.8"/>
<line x1="1541.6" y1="1407.42" x2="1545.8" y2="1407.42" stroke="#505050" stroke-width="1.1"/>
<line x1="1541.6" y1="1402.92" x2="1543.2" y2="1402.92" stroke="#888" stroke-width="0.8"/>
<line x1="1541.6" y1="1398.43" x2="1543.2" y2="1398.43" stroke="#888" stroke-width="0.8"/>
<line x1="1541.6" y1="1393.93" x2="1543.2" y2="1393.93" stroke="#888" stroke-width="0.8"/>
<line x1="1541.6" y1="1389.44" x2="1543.2" y2="1389.44" stroke="#888" stroke-width="0.8"/>
<line x1="1541.6" y1="1384.94" x2="1545.8" y2="1384.94" stroke="#505050" stroke-width="1.1"/>
<line x1="1541.6" y1="1380.44" x2="1543.2" y2="1380.44" stroke="#888" stroke-width="0.8"/>
<line x1="1541.6" y1="1375.95" x2="1543.2" y2="1375.95" stroke="#888" stroke-width="0.8"/>
<line x1="1541.6" y1="1371.45" x2="1543.2" y2="1371.45" stroke="#888" stroke-width="0.8"/>
<line x1="1541.6" y1="1366.96" x2="1543.2" y2="1366.96" stroke="#888" stroke-width="0.8"/>
<line x1="1541.6" y1="1362.46" x2="1545.8" y2="1362.46" stroke="#505050" stroke-width="1.1"/>
<line x1="1541.6" y1="1357.96" x2="1543.2" y2="1357.96" stroke="#888" stroke-width="0.8"/>
<line x1="1541.6" y1="1353.47" x2="1543.2" y2="1353.47" stroke="#888" stroke-width="0.8"/>
<line x1="1541.6" y1="1348.97" x2="1543.2" y2="1348.97" stroke="#888" stroke-width="0.8"/>
<line x1="1541.6" y1="1344.48" x2="1543.2" y2="1344.48" stroke="#888" stroke-width="0.8"/>
<line x1="1541.6" y1="1339.98" x2="1545.8" y2="1339.98" stroke="#505050" stroke-width="1.1"/>
<line x1="1541.6" y1="1335.48" x2="1543.2" y2="1335.48" stroke="#888" stroke-width="0.8"/>
<line x1="1541.6" y1="1330.99" x2="1543.2" y2="1330.99" stroke="#888" stroke-width="0.8"/>
<line x1="1541.6" y1="1326.49" x2="1543.2" y2="1326.49" stroke="#888" stroke-width="0.8"/>
<line x1="1541.6" y1="1322" x2="1543.2" y2="1322" stroke="#888" stroke-width="0.8"/>
<line x1="1541.6" y1="1317.5" x2="1548.8" y2="1317.5" stroke="#505050" stroke-width="1.2"/>
<line x1="1541.6" y1="1313" x2="1543.2" y2="1313" stroke="#888" stroke-width="0.8"/>
<line x1="1541.6" y1="1308.51" x2="1543.2" y2="1308.51" stroke="#888" stroke-width="0.8"/>
<line x1="1541.6" y1="1304.01" x2="1543.2" y2="1304.01" stroke="#888" stroke-width="0.8"/>
<line x1="1541.6" y1="1299.52" x2="1543.2" y2="1299.52" stroke="#888" stroke-width="0.8"/>
<line x1="1541.6" y1="1295.02" x2="1545.8" y2="1295.02" stroke="#505050" stroke-width="1.1"/>
<line x1="1541.6" y1="1290.52" x2="1543.2" y2="1290.52" stroke="#888" stroke-width="0.8"/>
<line x1="1541.6" y1="1286.03" x2="1543.2" y2="1286.03" stroke="#888" stroke-width="0.8"/>
<line x1="1541.6" y1="1281.53" x2="1543.2" y2="1281.53" stroke="#888" stroke-width="0.8"/>
<line x1="1541.6" y1="1277.04" x2="1543.2" y2="1277.04" stroke="#888" stroke-width="0.8"/>
<line x1="1541.6" y1="1272.54" x2="1545.8" y2="1272.54" stroke="#505050" stroke-width="1.1"/>
<line x1="1541.6" y1="1268.04" x2="1543.2" y2="1268.04" stroke="#888" stroke-width="0.8"/>
<line x1="1541.6" y1="1263.55" x2="1543.2" y2="1263.55" stroke="#888" stroke-width="0.8"/>
<line x1="1541.6" y1="1259.05" x2="1543.2" y2="1259.05" stroke="#888" stroke-width="0.8"/>
<line x1="1541.6" y1="1254.56" x2="1543.2" y2="1254.56" stroke="#888" stroke-width="0.8"/>
<line x1="1541.6" y1="1250.06" x2="1545.8" y2="1250.06" stroke="#505050" stroke-width="1.1"/>
<line x1="1541.6" y1="1245.56" x2="1543.2" y2="1245.56" stroke="#888" stroke-width="0.8"/>
<line x1="1541.6" y1="1241.07" x2="1543.2" y2="1241.07" stroke="#888" stroke-width="0.8"/>
<line x1="1541.6" y1="1236.57" x2="1543.2" y2="1236.57" stroke="#888" stroke-width="0.8"/>
<line x1="1541.6" y1="1232.08" x2="1543.2" y2="1232.08" stroke="#888" stroke-width="0.8"/>
<line x1="1541.6" y1="1227.58" x2="1545.8" y2="1227.58" stroke="#505050" stroke-width="1.1"/>
<line x1="1541.6" y1="1223.08" x2="1543.2" y2="1223.08" stroke="#888" stroke-width="0.8"/>
<line x1="1541.6" y1="1218.59" x2="1543.2" y2="1218.59" stroke="#888" stroke-width="0.8"/>
<line x1="1541.6" y1="1214.09" x2="1543.2" y2="1214.09" stroke="#888" stroke-width="0.8"/>
<line x1="1541.6" y1="1209.6" x2="1543.2" y2="1209.6" stroke="#888" stroke-width="0.8"/>
<line x1="1541.6" y1="1205.1" x2="1548.8" y2="1205.1" stroke="#505050" stroke-width="1.2"/>
<line x1="1541.6" y1="1200.6" x2="1543.2" y2="1200.6" stroke="#888" stroke-width="0.8"/>
<line x1="1541.6" y1="1196.11" x2="1543.2" y2="1196.11" stroke="#888" stroke-width="0.8"/>
<line x1="1541.6" y1="1191.61" x2="1543.2" y2="1191.61" stroke="#888" stroke-width="0.8"/>
<line x1="1541.6" y1="1187.12" x2="1543.2" y2="1187.12" stroke="#888" stroke-width="0.8"/>
<line x1="1541.6" y1="1182.62" x2="1545.8" y2="1182.62" stroke="#505050" stroke-width="1.1"/>
<line x1="1541.6" y1="1178.12" x2="1543.2" y2="1178.12" stroke="#888" stroke-width="0.8"/>
<line x1="1541.6" y1="1173.63" x2="1543.2" y2="1173.63" stroke="#888" stroke-width="0.8"/>
<line x1="1541.6" y1="1169.13" x2="1543.2" y2="1169.13" stroke="#888" stroke-width="0.8"/>
<line x1="1541.6" y1="1164.64" x2="1543.2" y2="1164.64" stroke="#888" stroke-width="0.8"/>
<line x1="1541.6" y1="1160.14" x2="1545.8" y2="1160.14" stroke="#505050" stroke-width="1.1"/>
<line x1="1541.6" y1="1155.64" x2="1543.2" y2="1155.64" stroke="#888" stroke-width="0.8"/>
<line x1="1541.6" y1="1151.15" x2="1543.2" y2="1151.15" stroke="#888" stroke-width="0.8"/>
<line x1="1541.6" y1="1146.65" x2="1543.2" y2="1146.65" stroke="#888" stroke-width="0.8"/>
<line x1="1541.6" y1="1142.16" x2="1543.2" y2="1142.16" stroke="#888" stroke-width="0.8"/>
<line x1="1541.6" y1="1137.66" x2="1545.8" y2="1137.66" stroke="#505050" stroke-width="1.1"/>
<line x1="1541.6" y1="1133.16" x2="1543.2" y2="1133.16" stroke="#888" stroke-width="0.8"/>
<line x1="1541.6" y1="1128.67" x2="1543.2" y2="1128.67" stroke="#888" stroke-width="0.8"/>
<line x1="1541.6" y1="1124.17" x2="1543.2" y2="1124.17" stroke="#888" stroke-width="0.8"/>
<line x1="1541.6" y1="1119.68" x2="1543.2" y2="1119.68" stroke="#888" stroke-width="0.8"/>
<line x1="1541.6" y1="1115.18" x2="1545.8" y2="1115.18" stroke="#505050" stroke-width="1.1"/>
<line x1="1541.6" y1="1110.68" x2="1543.2" y2="1110.68" stroke="#888" stroke-width="0.8"/>
<line x1="1541.6" y1="1106.19" x2="1543.2" y2="1106.19" stroke="#888" stroke-width="0.8"/>
<line x1="1541.6" y1="1101.69" x2="1543.2" y2="1101.69" stroke="#888" stroke-width="0.8"/>
<line x1="1541.6" y1="1097.2" x2="1543.2" y2="1097.2" stroke="#888" stroke-width="0.8"/>
<text x="959.7" y="1592.4" font-size="11.4" font-family="'Liberation Sans', Arial, sans-serif" text-anchor="middle" fill="#222" font-weight="bold">150</text>
<text x="1153.4" y="1592.4" font-size="11.4" font-family="'Liberation Sans', Arial, sans-serif" text-anchor="middle" fill="#222" font-weight="bold">100</text>
<text x="1347.1" y="1592.4" font-size="11.4" font-family="'Liberation Sans', Arial, sans-serif" text-anchor="middle" fill="#222" font-weight="bold">50</text>
<text x="1540.5" y="1592.4" font-size="11.4" font-family="'Liberation Sans', Arial, sans-serif" text-anchor="end" fill="#222" font-weight="bold">[ppm]</text>
<text transform="translate(1561.9,1542.3) rotate(-90)" font-size="11.4" font-family="'Liberation Sans', Arial, sans-serif" text-anchor="middle" fill="#222" font-weight="bold">0.0</text>
<text transform="translate(1561.9,1429.9) rotate(-90)" font-size="11.4" font-family="'Liberation Sans', Arial, sans-serif" text-anchor="middle" fill="#222" font-weight="bold">0.5</text>
<text transform="translate(1561.9,1317.5) rotate(-90)" font-size="11.4" font-family="'Liberation Sans', Arial, sans-serif" text-anchor="middle" fill="#222" font-weight="bold">1.0</text>
<text transform="translate(1561.9,1205.1) rotate(-90)" font-size="11.4" font-family="'Liberation Sans', Arial, sans-serif" text-anchor="middle" fill="#222" font-weight="bold">1.5</text>
<text transform="translate(1561.9,1120.5) rotate(-90)" font-size="11" font-family="'Liberation Sans', Arial, sans-serif" fill="#222" font-weight="bold">[*1e6]</text>
<text transform="translate(864.19,1185.7) rotate(-90)" font-size="10.3" font-family="'Liberation Sans', Arial, sans-serif" fill="#e0161e" font-weight="bold">175.7601</text>
<line x1="860.5" y1="1190.5" x2="860.5" y2="1197.1" stroke="#e0161e" stroke-width="1.2"/>
<text transform="translate(1016.39,1185.3) rotate(-90)" font-size="10.3" font-family="'Liberation Sans', Arial, sans-serif" fill="#e0161e" font-weight="bold">110.8408</text>
<path d="M1012.7 1187.6 L1012.7 1190.4 L1111.4 1193.2 L1111.4 1197" fill="none" stroke="#e0161e" stroke-width="1"/>
<text transform="translate(1026.55,1185.3) rotate(-90)" font-size="10.3" font-family="'Liberation Sans', Arial, sans-serif" fill="#e0161e" font-weight="bold">108.9226</text>
<path d="M1022.86 1187.6 L1022.86 1190.4 L1118.83 1193.2 L1118.83 1197" fill="none" stroke="#e0161e" stroke-width="1"/>
<text transform="translate(1036.71,1185.3) rotate(-90)" font-size="10.3" font-family="'Liberation Sans', Arial, sans-serif" fill="#e0161e" font-weight="bold">104.2074</text>
<path d="M1033.02 1187.6 L1033.02 1190.4 L1137.1 1193.2 L1137.1 1197" fill="none" stroke="#e0161e" stroke-width="1"/>
<text transform="translate(1046.87,1185.3) rotate(-90)" font-size="10.3" font-family="'Liberation Sans', Arial, sans-serif" fill="#e0161e" font-weight="bold">103.5245</text>
<path d="M1043.18 1187.6 L1043.18 1190.4 L1139.75 1193.2 L1139.75 1197" fill="none" stroke="#e0161e" stroke-width="1"/>
<text transform="translate(1057.03,1185.3) rotate(-90)" font-size="10.3" font-family="'Liberation Sans', Arial, sans-serif" fill="#e0161e" font-weight="bold">101.0005</text>
<path d="M1053.34 1187.6 L1053.34 1190.4 L1149.52 1193.2 L1149.52 1197" fill="none" stroke="#e0161e" stroke-width="1"/>
<text transform="translate(1067.19,1185.3) rotate(-90)" font-size="10.3" font-family="'Liberation Sans', Arial, sans-serif" fill="#e0161e" font-weight="bold">95.8669</text>
<path d="M1063.5 1187.6 L1063.5 1190.4 L1169.41 1193.2 L1169.41 1197" fill="none" stroke="#e0161e" stroke-width="1"/>
<text transform="translate(1077.35,1185.3) rotate(-90)" font-size="10.3" font-family="'Liberation Sans', Arial, sans-serif" fill="#e0161e" font-weight="bold">85.9045</text>
<path d="M1073.66 1187.6 L1073.66 1190.4 L1208.01 1193.2 L1208.01 1197" fill="none" stroke="#e0161e" stroke-width="1"/>
<text transform="translate(1087.51,1185.3) rotate(-90)" font-size="10.3" font-family="'Liberation Sans', Arial, sans-serif" fill="#e0161e" font-weight="bold">83.9041</text>
<path d="M1083.82 1187.6 L1083.82 1190.4 L1215.76 1193.2 L1215.76 1197" fill="none" stroke="#e0161e" stroke-width="1"/>
<text transform="translate(1097.67,1185.3) rotate(-90)" font-size="10.3" font-family="'Liberation Sans', Arial, sans-serif" fill="#e0161e" font-weight="bold">83.1265</text>
<path d="M1093.98 1187.6 L1093.98 1190.4 L1218.77 1193.2 L1218.77 1197" fill="none" stroke="#e0161e" stroke-width="1"/>
<text transform="translate(1107.83,1185.3) rotate(-90)" font-size="10.3" font-family="'Liberation Sans', Arial, sans-serif" fill="#e0161e" font-weight="bold">82.4490</text>
<path d="M1104.14 1187.6 L1104.14 1190.4 L1221.39 1193.2 L1221.39 1197" fill="none" stroke="#e0161e" stroke-width="1"/>
<text transform="translate(1117.99,1185.3) rotate(-90)" font-size="10.3" font-family="'Liberation Sans', Arial, sans-serif" fill="#e0161e" font-weight="bold">81.4796</text>
<path d="M1114.3 1187.6 L1114.3 1190.4 L1225.15 1193.2 L1225.15 1197" fill="none" stroke="#e0161e" stroke-width="1"/>
<text transform="translate(1128.15,1185.3) rotate(-90)" font-size="10.3" font-family="'Liberation Sans', Arial, sans-serif" fill="#e0161e" font-weight="bold">81.1391</text>
<path d="M1124.46 1187.6 L1124.46 1190.4 L1226.47 1193.2 L1226.47 1197" fill="none" stroke="#e0161e" stroke-width="1"/>
<text transform="translate(1138.31,1185.3) rotate(-90)" font-size="10.3" font-family="'Liberation Sans', Arial, sans-serif" fill="#e0161e" font-weight="bold">79.6013</text>
<path d="M1134.62 1187.6 L1134.62 1190.4 L1232.42 1193.2 L1232.42 1197" fill="none" stroke="#e0161e" stroke-width="1"/>
<text transform="translate(1148.47,1185.3) rotate(-90)" font-size="10.3" font-family="'Liberation Sans', Arial, sans-serif" fill="#e0161e" font-weight="bold">78.8426</text>
<path d="M1144.78 1187.6 L1144.78 1190.4 L1235.36 1193.2 L1235.36 1197" fill="none" stroke="#e0161e" stroke-width="1"/>
<text transform="translate(1158.63,1185.3) rotate(-90)" font-size="10.3" font-family="'Liberation Sans', Arial, sans-serif" fill="#e0161e" font-weight="bold">77.9862</text>
<path d="M1154.94 1187.6 L1154.94 1190.4 L1238.68 1193.2 L1238.68 1197" fill="none" stroke="#e0161e" stroke-width="1"/>
<text transform="translate(1168.79,1185.3) rotate(-90)" font-size="10.3" font-family="'Liberation Sans', Arial, sans-serif" fill="#e0161e" font-weight="bold">77.3830</text>
<path d="M1165.1 1187.6 L1165.1 1190.4 L1241.02 1193.2 L1241.02 1197" fill="none" stroke="#e0161e" stroke-width="1"/>
<text transform="translate(1178.95,1185.3) rotate(-90)" font-size="10.3" font-family="'Liberation Sans', Arial, sans-serif" fill="#e0161e" font-weight="bold">76.7688</text>
<path d="M1175.26 1187.6 L1175.26 1190.4 L1243.4 1193.2 L1243.4 1197" fill="none" stroke="#e0161e" stroke-width="1"/>
<text transform="translate(1189.11,1185.3) rotate(-90)" font-size="10.3" font-family="'Liberation Sans', Arial, sans-serif" fill="#e0161e" font-weight="bold">72.8512</text>
<path d="M1185.42 1187.6 L1185.42 1190.4 L1258.57 1193.2 L1258.57 1197" fill="none" stroke="#e0161e" stroke-width="1"/>
<text transform="translate(1199.27,1185.3) rotate(-90)" font-size="10.3" font-family="'Liberation Sans', Arial, sans-serif" fill="#e0161e" font-weight="bold">72.1615</text>
<path d="M1195.58 1187.6 L1195.58 1190.4 L1261.25 1193.2 L1261.25 1197" fill="none" stroke="#e0161e" stroke-width="1"/>
<text transform="translate(1209.43,1185.3) rotate(-90)" font-size="10.3" font-family="'Liberation Sans', Arial, sans-serif" fill="#e0161e" font-weight="bold">72.0867</text>
<path d="M1205.74 1187.6 L1205.74 1190.4 L1261.54 1193.2 L1261.54 1197" fill="none" stroke="#e0161e" stroke-width="1"/>
<text transform="translate(1219.59,1185.3) rotate(-90)" font-size="10.3" font-family="'Liberation Sans', Arial, sans-serif" fill="#e0161e" font-weight="bold">71.7382</text>
<path d="M1215.9 1187.6 L1215.9 1190.4 L1262.89 1193.2 L1262.89 1197" fill="none" stroke="#e0161e" stroke-width="1"/>
<text transform="translate(1229.75,1185.3) rotate(-90)" font-size="10.3" font-family="'Liberation Sans', Arial, sans-serif" fill="#e0161e" font-weight="bold">71.5096</text>
<path d="M1226.06 1187.6 L1226.06 1190.4 L1263.77 1193.2 L1263.77 1197" fill="none" stroke="#e0161e" stroke-width="1"/>
<text transform="translate(1239.91,1185.3) rotate(-90)" font-size="10.3" font-family="'Liberation Sans', Arial, sans-serif" fill="#e0161e" font-weight="bold">71.0082</text>
<path d="M1236.22 1187.6 L1236.22 1190.4 L1265.71 1193.2 L1265.71 1197" fill="none" stroke="#e0161e" stroke-width="1"/>
<text transform="translate(1250.07,1185.3) rotate(-90)" font-size="10.3" font-family="'Liberation Sans', Arial, sans-serif" fill="#e0161e" font-weight="bold">70.8808</text>
<path d="M1246.38 1187.6 L1246.38 1190.4 L1266.21 1193.2 L1266.21 1197" fill="none" stroke="#e0161e" stroke-width="1"/>
<text transform="translate(1260.23,1185.3) rotate(-90)" font-size="10.3" font-family="'Liberation Sans', Arial, sans-serif" fill="#e0161e" font-weight="bold">70.6297</text>
<path d="M1256.54 1187.6 L1256.54 1190.4 L1267.18 1193.2 L1267.18 1197" fill="none" stroke="#e0161e" stroke-width="1"/>
<text transform="translate(1270.39,1185.3) rotate(-90)" font-size="10.3" font-family="'Liberation Sans', Arial, sans-serif" fill="#e0161e" font-weight="bold">70.5502</text>
<path d="M1266.7 1187.6 L1266.7 1190.4 L1267.49 1193.2 L1267.49 1197" fill="none" stroke="#e0161e" stroke-width="1"/>
<text transform="translate(1280.55,1185.3) rotate(-90)" font-size="10.3" font-family="'Liberation Sans', Arial, sans-serif" fill="#e0161e" font-weight="bold">70.0009</text>
<path d="M1276.86 1187.6 L1276.86 1190.4 L1269.62 1193.2 L1269.62 1197" fill="none" stroke="#e0161e" stroke-width="1"/>
<text transform="translate(1290.71,1185.3) rotate(-90)" font-size="10.3" font-family="'Liberation Sans', Arial, sans-serif" fill="#e0161e" font-weight="bold">68.8570</text>
<path d="M1287.02 1187.6 L1287.02 1190.4 L1274.05 1193.2 L1274.05 1197" fill="none" stroke="#e0161e" stroke-width="1"/>
<text transform="translate(1300.87,1185.3) rotate(-90)" font-size="10.3" font-family="'Liberation Sans', Arial, sans-serif" fill="#e0161e" font-weight="bold">68.5029</text>
<path d="M1297.18 1187.6 L1297.18 1190.4 L1275.42 1193.2 L1275.42 1197" fill="none" stroke="#e0161e" stroke-width="1"/>
<text transform="translate(1311.03,1185.3) rotate(-90)" font-size="10.3" font-family="'Liberation Sans', Arial, sans-serif" fill="#e0161e" font-weight="bold">67.1312</text>
<path d="M1307.34 1187.6 L1307.34 1190.4 L1280.73 1193.2 L1280.73 1197" fill="none" stroke="#e0161e" stroke-width="1"/>
<text transform="translate(1321.19,1185.3) rotate(-90)" font-size="10.3" font-family="'Liberation Sans', Arial, sans-serif" fill="#e0161e" font-weight="bold">64.2058</text>
<path d="M1317.5 1187.6 L1317.5 1190.4 L1292.07 1193.2 L1292.07 1197" fill="none" stroke="#e0161e" stroke-width="1"/>
<text transform="translate(1331.35,1185.3) rotate(-90)" font-size="10.3" font-family="'Liberation Sans', Arial, sans-serif" fill="#e0161e" font-weight="bold">64.1157</text>
<path d="M1327.66 1187.6 L1327.66 1190.4 L1292.42 1193.2 L1292.42 1197" fill="none" stroke="#e0161e" stroke-width="1"/>
<text transform="translate(1341.51,1185.3) rotate(-90)" font-size="10.3" font-family="'Liberation Sans', Arial, sans-serif" fill="#e0161e" font-weight="bold">63.9402</text>
<path d="M1337.82 1187.6 L1337.82 1190.4 L1293.1 1193.2 L1293.1 1197" fill="none" stroke="#e0161e" stroke-width="1"/>
<text transform="translate(1351.67,1185.3) rotate(-90)" font-size="10.3" font-family="'Liberation Sans', Arial, sans-serif" fill="#e0161e" font-weight="bold">62.4846</text>
<path d="M1347.98 1187.6 L1347.98 1190.4 L1298.73 1193.2 L1298.73 1197" fill="none" stroke="#e0161e" stroke-width="1"/>
<text transform="translate(1361.83,1185.3) rotate(-90)" font-size="10.3" font-family="'Liberation Sans', Arial, sans-serif" fill="#e0161e" font-weight="bold">54.6877</text>
<path d="M1358.14 1187.6 L1358.14 1190.4 L1328.94 1193.2 L1328.94 1197" fill="none" stroke="#e0161e" stroke-width="1"/>
<text transform="translate(1371.99,1185.3) rotate(-90)" font-size="10.3" font-family="'Liberation Sans', Arial, sans-serif" fill="#e0161e" font-weight="bold">49.4978</text>
<path d="M1368.3 1187.6 L1368.3 1190.4 L1349.05 1193.2 L1349.05 1197" fill="none" stroke="#e0161e" stroke-width="1"/>
<text transform="translate(1452.39,1186.5) rotate(-90)" font-size="10.3" font-family="'Liberation Sans', Arial, sans-serif" fill="#e0161e" font-weight="bold">23.3593</text>
<line x1="1448.7" y1="1190.3" x2="1448.7" y2="1197.1" stroke="#e0161e" stroke-width="1.2"/>
<text transform="translate(1472.79,1186.5) rotate(-90)" font-size="10.3" font-family="'Liberation Sans', Arial, sans-serif" fill="#e0161e" font-weight="bold">18.2202</text>
<line x1="1469.1" y1="1190.3" x2="1469.1" y2="1197.1" stroke="#e0161e" stroke-width="1.2"/>
<text x="15.2" y="1638.7" font-size="35.5" font-family="'Liberation Serif', 'Times New Roman', serif" textLength="18.2" lengthAdjust="spacingAndGlyphs">F</text>
<rect x="43" y="1661.3" width="944.6" height="587.9" fill="#f5f5f5"/>
<line x1="117.8" y1="1661.3" x2="117.8" y2="2219.5" stroke="#b4b4b4" stroke-width="1" stroke-dasharray="1.5 2.5"/>
<line x1="270.9" y1="1661.3" x2="270.9" y2="2219.5" stroke="#b4b4b4" stroke-width="1" stroke-dasharray="1.5 2.5"/>
<line x1="424" y1="1661.3" x2="424" y2="2219.5" stroke="#b4b4b4" stroke-width="1" stroke-dasharray="1.5 2.5"/>
<line x1="577.1" y1="1661.3" x2="577.1" y2="2219.5" stroke="#b4b4b4" stroke-width="1" stroke-dasharray="1.5 2.5"/>
<line x1="730.2" y1="1661.3" x2="730.2" y2="2219.5" stroke="#b4b4b4" stroke-width="1" stroke-dasharray="1.5 2.5"/>
<line x1="883.3" y1="1661.3" x2="883.3" y2="2219.5" stroke="#b4b4b4" stroke-width="1" stroke-dasharray="1.5 2.5"/>
<line x1="43" y1="2193.3" x2="957.8" y2="2193.3" stroke="#b4b4b4" stroke-width="1" stroke-dasharray="1.5 2.5"/>
<line x1="43" y1="2091.1" x2="957.8" y2="2091.1" stroke="#b4b4b4" stroke-width="1" stroke-dasharray="1.5 2.5"/>
<line x1="43" y1="1988.9" x2="957.8" y2="1988.9" stroke="#b4b4b4" stroke-width="1" stroke-dasharray="1.5 2.5"/>
<line x1="43" y1="1886.7" x2="957.8" y2="1886.7" stroke="#b4b4b4" stroke-width="1" stroke-dasharray="1.5 2.5"/>
<line x1="43" y1="1784.5" x2="957.8" y2="1784.5" stroke="#b4b4b4" stroke-width="1" stroke-dasharray="1.5 2.5"/>
<line x1="43" y1="1682.3" x2="957.8" y2="1682.3" stroke="#b4b4b4" stroke-width="1" stroke-dasharray="1.5 2.5"/>
<text x="47" y="1674.8" font-size="11" font-family="'Liberation Mono', monospace" fill="#a0a0a0">PS</text>
<text x="98.5" y="1674.8" font-size="11" font-family="'Liberation Mono', monospace" fill="#a0a0a0">D2O</text>
<text x="164" y="1674.8" font-size="11" font-family="'Liberation Mono', monospace" fill="#a0a0a0">1H</text>
<clipPath id="fclip"><rect x="43" y="1661.3" width="914.8" height="558.2"/></clipPath>
<path d="M43.50 2192.1 49.75 2192.1 56.00 2192.1 62.25 2192.1 68.50 2192.1 74.75 2192.1 81.00 2192.1 87.25 2192.1 93.50 2192.1 99.75 2192.1 106.00 2192.1 112.25 2192.1 118.50 2192.1 124.75 2192.1 131.00 2192.1 137.25 2192.1 143.50 2192.1 149.75 2192.0 156.00 2192.0 162.25 2192.0 168.50 2192.0 174.75 2192.0 181.00 2192.0 187.25 2191.9 193.50 2191.9 199.75 2191.9 206.00 2191.8 212.25 2191.8 218.50 2191.7 224.75 2191.6 231.00 2191.4 235.00 2191.1 237.25 2190.9 238.75 2190.6 240.00 2190.3 240.75 2190.1 241.50 2189.7 242.00 2189.4 242.50 2189.1 243.00 2188.6 243.25 2188.3 243.50 2188.0 243.75 2187.6 244.00 2187.2 244.25 2186.7 244.50 2186.2 244.75 2185.5 245.00 2184.7 245.25 2183.8 245.50 2182.6 245.75 2181.2 246.00 2179.4 246.25 2177.3 246.50 2174.6 246.75 2171.2 247.00 2167.0 247.25 2161.8 247.50 2155.7 247.75 2149.2 248.00 2143.2 248.25 2139.3 248.50 2138.9 248.75 2142.2 249.00 2147.8 249.25 2154.4 249.50 2160.6 249.75 2165.9 250.00 2170.3 250.25 2173.8 250.50 2176.6 250.75 2178.9 251.00 2180.7 251.25 2182.1 251.50 2183.3 251.75 2184.3 252.00 2185.1 252.25 2185.8 252.50 2186.3 252.75 2186.8 253.00 2187.2 253.25 2187.6 253.50 2187.9 253.75 2188.1 254.25 2188.6 254.75 2188.9 255.25 2189.2 256.00 2189.4 257.25 2189.7 263.50 2189.6 264.75 2189.3 265.75 2188.9 266.50 2188.6 267.00 2188.3 267.50 2188.0 268.00 2187.6 268.25 2187.4 268.50 2187.1 268.75 2186.9 269.00 2186.5 269.25 2186.2 269.50 2185.8 269.75 2185.3 270.00 2184.8 270.25 2184.2 270.50 2183.4 270.75 2182.6 271.00 2181.5 271.25 2180.3 271.50 2178.8 271.75 2176.9 272.00 2174.6 272.25 2171.8 272.50 2168.3 272.75 2164.1 273.00 2159.3 273.25 2154.4 273.50 2150.2 273.75 2147.9 274.00 2148.2 274.25 2150.7 274.50 2154.3 274.75 2158.1 275.00 2161.3 275.25 2163.7 275.50 2165.3 275.75 2166.1 276.00 2166.2 276.25 2165.6 276.50 2164.4 276.75 2162.5 277.00 2159.9 277.25 2156.7 277.50 2153.0 277.75 2149.1 278.00 2145.3 278.25 2142.1 278.50 2139.7 278.75 2138.2 279.00 2137.1 279.25 2135.7 279.50 2133.3 279.75 2129.4 280.00 2124.0 280.25 2117.3 280.50 2110.0 280.75 2103.8 281.00 2100.8 281.25 2102.4 281.50 2108.5 281.75 2117.5 282.00 2127.5 282.25 2136.9 282.50 2145.2 282.75 2152.2 283.00 2157.9 283.25 2162.6 283.50 2166.4 283.75 2169.5 284.00 2172.1 284.25 2174.2 284.50 2175.9 284.75 2177.4 285.00 2178.7 285.25 2179.8 285.50 2180.7 285.75 2181.5 286.00 2182.2 286.25 2182.8 286.50 2183.3 286.75 2183.7 287.00 2184.1 287.25 2184.5 287.50 2184.8 287.75 2185.1 288.25 2185.6 288.75 2185.9 289.25 2186.2 290.00 2186.5 291.00 2186.8 295.75 2186.5 296.75 2186.2 297.50 2185.9 298.25 2185.6 298.75 2185.3 299.25 2185.0 299.75 2184.7 300.25 2184.3 300.75 2183.9 301.25 2183.5 301.50 2183.2 301.75 2182.9 302.00 2182.7 302.25 2182.4 302.50 2182.1 302.75 2181.8 303.00 2181.4 303.25 2181.1 303.50 2180.7 303.75 2180.3 304.00 2179.8 304.25 2179.4 304.50 2178.9 304.75 2178.4 305.00 2177.8 305.25 2177.2 305.50 2176.6 305.75 2175.9 306.00 2175.2 306.25 2174.4 306.50 2173.6 306.75 2172.7 307.00 2171.8 307.25 2170.7 307.50 2169.6 307.75 2168.4 308.00 2167.1 308.25 2165.6 308.50 2164.1 308.75 2162.3 309.00 2160.5 309.25 2158.4 309.50 2156.1 309.75 2153.6 310.00 2150.8 310.25 2147.7 310.50 2144.3 310.75 2140.4 311.00 2136.0 311.25 2131.1 311.50 2125.4 311.75 2119.0 312.00 2111.5 312.25 2102.6 312.50 2092.0 312.75 2078.8 313.00 2061.6 313.25 2038.5 313.50 2006.1 313.75 1959.8 314.00 1893.2 314.25 1798.9 314.50 1668.6 314.75 1621.3 318.50 1621.3 318.75 1697.9 319.00 1820.4 319.25 1908.5 319.50 1970.5 319.75 2013.5 320.00 2043.8 320.25 2065.5 320.50 2081.7 320.75 2094.3 321.00 2104.6 321.25 2113.1 321.50 2120.4 321.75 2126.7 322.00 2132.2 322.25 2137.0 322.50 2141.3 322.75 2145.1 323.00 2148.4 323.25 2151.5 323.50 2154.2 323.75 2156.7 324.00 2158.9 324.25 2160.9 324.50 2162.8 324.75 2164.5 325.00 2166.0 325.25 2167.4 325.50 2168.7 325.75 2169.9 326.00 2171.1 326.25 2172.1 326.50 2173.0 326.75 2173.9 327.00 2174.7 327.25 2175.5 327.50 2176.2 327.75 2176.9 328.00 2177.5 328.25 2178.1 328.50 2178.7 328.75 2179.2 329.00 2179.7 329.25 2180.1 329.50 2180.6 329.75 2181.0 330.00 2181.3 330.25 2181.7 330.50 2182.1 330.75 2182.4 331.00 2182.7 331.25 2183.0 331.50 2183.3 331.75 2183.5 332.00 2183.8 332.50 2184.3 333.00 2184.7 333.50 2185.1 334.00 2185.4 334.50 2185.8 335.00 2186.1 335.50 2186.3 336.00 2186.6 336.75 2186.9 337.50 2187.2 338.25 2187.5 339.25 2187.8 340.25 2188.1 341.50 2188.4 343.00 2188.7 345.00 2189.0 348.50 2189.2 353.25 2188.9 354.50 2188.6 355.25 2188.3 355.75 2188.0 356.25 2187.7 356.75 2187.2 357.00 2186.9 357.25 2186.6 357.50 2186.2 357.75 2185.8 358.00 2185.3 358.25 2184.7 358.50 2183.9 358.75 2183.1 359.00 2182.0 359.25 2180.8 359.50 2179.3 359.75 2177.6 360.00 2175.6 360.25 2173.5 360.50 2171.4 360.75 2169.5 361.00 2168.1 361.25 2167.4 361.50 2167.3 361.75 2167.6 362.00 2168.0 362.25 2168.2 363.00 2168.4 363.25 2168.9 363.50 2169.9 363.75 2171.4 364.00 2173.3 364.25 2175.3 364.50 2177.1 364.75 2178.8 365.00 2180.3 365.25 2181.5 365.50 2182.5 365.75 2183.4 366.00 2184.1 366.25 2184.7 366.50 2185.2 366.75 2185.5 367.00 2185.9 367.25 2186.1 367.75 2186.5 368.50 2186.8 369.75 2186.5 370.25 2186.1 370.50 2185.9 370.75 2185.5 371.00 2185.1 371.25 2184.7 371.50 2184.1 371.75 2183.3 372.00 2182.4 372.25 2181.3 372.50 2179.9 372.75 2178.2 373.00 2176.0 373.25 2173.2 373.50 2169.8 373.75 2165.5 374.00 2160.6 374.25 2155.2 374.50 2150.3 374.75 2147.1 375.00 2146.8 375.25 2149.5 375.50 2154.2 375.75 2159.6 376.00 2164.7 376.25 2169.1 376.50 2172.8 376.75 2175.7 377.00 2178.0 377.25 2179.9 377.50 2181.4 377.75 2182.6 378.00 2183.6 378.25 2184.4 378.50 2185.0 378.75 2185.6 379.00 2186.1 379.25 2186.5 379.50 2186.8 379.75 2187.1 380.00 2187.4 380.50 2187.8 381.00 2188.1 381.75 2188.5 382.75 2188.8 384.75 2189.0 389.00 2188.7 390.25 2188.4 391.25 2188.1 392.00 2187.8 392.50 2187.5 393.00 2187.2 393.50 2186.9 394.00 2186.5 394.25 2186.2 394.50 2186.0 394.75 2185.7 395.00 2185.4 395.25 2185.1 395.50 2184.7 395.75 2184.3 396.00 2183.8 396.25 2183.3 396.50 2182.7 396.75 2182.0 397.00 2181.2 397.25 2180.2 397.50 2179.1 397.75 2177.8 398.00 2176.2 398.25 2174.3 398.50 2172.0 398.75 2169.3 399.00 2166.0 399.25 2162.2 399.50 2157.9 399.75 2153.1 400.00 2148.2 400.25 2144.0 400.50 2141.0 400.75 2140.0 401.00 2141.2 401.25 2144.1 401.50 2148.0 401.75 2152.1 402.00 2155.9 402.25 2159.1 402.50 2161.5 402.75 2163.2 403.00 2164.2 403.25 2164.6 403.50 2164.4 403.75 2163.9 404.00 2163.5 404.25 2163.4 404.50 2164.1 404.75 2165.5 405.00 2167.4 405.25 2169.5 405.50 2171.6 405.75 2173.5 406.00 2175.1 406.25 2176.4 406.50 2177.4 406.75 2178.2 407.00 2178.8 407.25 2179.2 407.75 2179.5 408.25 2179.3 408.50 2178.9 408.75 2178.4 409.00 2177.6 409.25 2176.7 409.50 2175.4 409.75 2173.8 410.00 2171.7 410.25 2169.0 410.50 2165.7 410.75 2161.6 411.00 2157.0 411.25 2152.2 411.50 2148.3 411.75 2146.2 412.00 2146.9 412.25 2149.9 412.50 2154.1 412.75 2158.5 413.00 2162.4 413.25 2165.6 413.50 2168.0 413.75 2169.8 414.00 2171.0 414.25 2171.7 414.50 2172.0 414.75 2171.9 415.00 2171.4 415.25 2170.4 415.50 2169.0 415.75 2167.0 416.00 2164.3 416.25 2160.7 416.50 2156.0 416.75 2150.0 417.00 2142.4 417.25 2133.5 417.50 2124.3 417.75 2117.0 418.00 2114.0 418.25 2116.8 418.50 2124.1 418.75 2133.1 419.00 2141.9 419.25 2149.3 419.50 2155.3 419.75 2159.9 420.00 2163.4 420.25 2166.0 420.50 2168.0 420.75 2169.5 421.00 2170.5 421.25 2171.2 421.50 2171.6 422.00 2171.7 422.25 2171.4 422.50 2170.8 422.75 2170.1 423.00 2169.0 423.25 2167.7 423.50 2166.0 423.75 2163.8 424.00 2161.1 424.25 2157.7 424.50 2153.5 424.75 2148.0 425.00 2141.1 425.25 2132.2 425.50 2121.0 425.75 2107.2 426.00 2091.5 426.25 2075.8 426.50 2064.2 426.75 2060.9 427.00 2067.4 427.25 2080.7 427.50 2096.3 427.75 2110.9 428.00 2123.1 428.25 2132.9 428.50 2140.5 428.75 2146.4 429.00 2151.0 429.25 2154.5 429.50 2157.3 429.75 2159.5 430.00 2161.2 430.25 2162.7 430.50 2163.8 430.75 2164.7 431.00 2165.5 431.25 2166.2 431.50 2166.7 431.75 2167.1 432.00 2167.5 432.25 2167.8 432.75 2168.2 433.75 2168.0 434.00 2167.8 434.25 2167.4 434.50 2166.9 434.75 2166.2 435.00 2165.3 435.25 2164.2 435.50 2162.8 435.75 2161.1 436.00 2159.0 436.25 2156.3 436.50 2153.1 436.75 2149.3 437.00 2144.7 437.25 2139.4 437.50 2133.7 437.75 2128.1 438.00 2123.3 438.25 2120.4 438.50 2120.2 438.75 2122.6 439.00 2127.0 439.25 2132.5 439.50 2138.3 439.75 2143.6 440.00 2148.4 440.25 2152.4 440.50 2155.7 440.75 2158.4 441.00 2160.6 441.25 2162.4 441.50 2163.8 441.75 2165.0 442.00 2165.8 442.25 2166.5 442.50 2167.0 442.75 2167.3 443.50 2167.3 443.75 2167.0 444.00 2166.6 444.25 2166.0 444.50 2165.3 444.75 2164.4 445.00 2163.2 445.25 2161.8 445.50 2160.1 445.75 2157.9 446.00 2155.3 446.25 2152.1 446.50 2148.2 446.75 2143.7 447.00 2138.7 447.25 2133.7 447.50 2129.6 447.75 2127.2 448.00 2127.2 448.25 2129.4 448.50 2132.6 448.75 2136.1 449.00 2139.2 449.25 2141.5 449.50 2142.8 449.75 2143.3 450.00 2142.9 450.25 2141.8 450.50 2140.3 450.75 2138.8 451.00 2138.0 451.25 2138.2 451.50 2139.6 451.75 2141.6 452.00 2143.7 452.25 2145.5 452.50 2146.9 452.75 2147.9 453.00 2148.5 453.25 2148.7 453.50 2148.7 453.75 2148.4 454.00 2147.9 454.25 2147.1 454.50 2146.1 454.75 2144.9 455.00 2143.4 455.25 2141.6 455.50 2139.4 455.75 2136.9 456.00 2134.0 456.25 2130.5 456.50 2126.5 456.75 2122.0 457.00 2117.1 457.25 2111.9 457.50 2106.7 457.75 2101.9 458.00 2098.3 458.25 2096.3 458.50 2096.3 458.75 2098.3 459.00 2102.1 459.25 2107.0 459.50 2112.5 459.75 2118.1 460.00 2123.5 460.25 2128.3 460.50 2132.6 460.75 2136.3 461.00 2139.5 461.25 2142.1 461.50 2144.2 461.75 2145.9 462.00 2147.2 462.25 2148.0 462.50 2148.4 462.75 2148.4 463.00 2148.0 463.25 2147.0 463.50 2145.5 463.75 2143.4 464.00 2140.9 464.25 2138.1 464.50 2135.4 464.75 2133.3 465.00 2132.4 465.25 2133.0 465.50 2135.2 465.75 2138.5 466.00 2142.4 466.25 2146.2 466.50 2149.7 466.75 2152.8 467.00 2155.5 467.25 2157.7 467.50 2159.5 467.75 2161.0 468.00 2162.2 468.25 2163.1 468.50 2163.9 468.75 2164.5 469.00 2164.9 469.25 2165.1 470.00 2165.1 470.25 2164.8 470.50 2164.3 470.75 2163.7 471.00 2162.8 471.25 2161.7 471.50 2160.4 471.75 2158.8 472.00 2156.9 472.25 2154.7 472.50 2152.3 472.75 2149.9 473.00 2147.8 473.25 2146.3 473.50 2145.3 473.75 2145.0 474.25 2144.8 474.50 2144.3 474.75 2143.2 475.00 2141.4 475.25 2138.8 475.50 2135.2 475.75 2130.6 476.00 2124.8 476.25 2117.6 476.50 2109.1 476.75 2099.5 477.00 2089.3 477.25 2079.5 477.50 2071.8 477.75 2067.6 478.00 2067.8 478.25 2072.0 478.50 2078.6 478.75 2086.2 479.00 2093.2 479.25 2098.8 479.50 2102.6 479.75 2104.6 480.00 2104.8 480.25 2103.6 480.50 2101.6 480.75 2100.0 481.00 2099.8 481.25 2101.7 481.50 2105.8 481.75 2111.4 482.00 2117.3 482.25 2123.0 482.50 2127.8 482.75 2131.7 483.00 2134.7 483.25 2136.7 483.50 2137.8 483.75 2138.1 484.00 2137.4 484.25 2135.9 484.50 2133.4 484.75 2130.1 485.00 2126.4 485.25 2123.1 485.50 2121.4 485.75 2122.1 486.00 2125.0 486.25 2129.2 486.50 2133.7 486.75 2137.7 487.00 2140.8 487.25 2143.0 487.50 2144.3 487.75 2144.7 488.00 2144.3 488.25 2142.9 488.50 2140.7 488.75 2137.6 489.00 2134.1 489.25 2130.8 489.50 2128.8 489.75 2128.6 490.00 2130.3 490.25 2132.8 490.50 2135.2 490.75 2136.8 491.00 2137.4 491.25 2137.0 491.50 2135.8 491.75 2134.6 492.00 2134.0 492.25 2134.7 492.50 2136.9 492.75 2140.3 493.00 2144.2 493.25 2148.1 493.50 2151.5 493.75 2154.3 494.00 2156.4 494.25 2158.0 494.50 2159.0 494.75 2159.7 495.00 2160.2 495.25 2160.8 495.50 2161.5 495.75 2162.6 496.00 2164.0 496.25 2165.7 496.50 2167.5 496.75 2169.3 497.00 2171.0 497.25 2172.6 497.50 2174.0 497.75 2175.2 498.00 2176.3 498.25 2177.2 498.50 2178.0 498.75 2178.7 499.00 2179.4 499.25 2179.9 499.50 2180.4 499.75 2180.8 500.00 2181.2 500.25 2181.6 500.50 2181.9 500.75 2182.2 501.25 2182.6 501.75 2182.9 502.75 2183.2 503.75 2182.8 504.00 2182.5 504.25 2182.1 504.50 2181.7 504.75 2181.0 505.00 2180.2 505.25 2179.2 505.50 2177.9 505.75 2176.3 506.00 2174.5 506.25 2172.8 506.50 2171.4 506.75 2170.7 507.00 2170.8 507.25 2171.4 507.50 2172.1 507.75 2172.5 508.00 2172.4 508.25 2171.6 508.50 2170.1 508.75 2167.9 509.00 2165.2 509.25 2162.7 509.50 2161.3 509.75 2161.7 510.00 2163.8 510.25 2166.8 510.50 2169.8 510.75 2172.4 511.00 2174.3 511.25 2175.6 511.50 2176.5 511.75 2177.1 512.00 2177.6 512.25 2178.3 512.50 2179.2 512.75 2180.4 513.00 2181.6 513.25 2182.7 513.50 2183.7 513.75 2184.5 514.00 2185.1 514.25 2185.7 514.50 2186.2 514.75 2186.6 515.00 2186.9 515.25 2187.2 515.75 2187.7 516.25 2188.0 516.75 2188.3 517.50 2188.7 518.25 2188.9 519.25 2189.2 520.50 2189.5 522.00 2189.8 524.00 2190.0 526.75 2190.3 530.50 2190.5 536.75 2190.7 540.00 2190.5 541.00 2190.2 541.50 2189.9 541.75 2189.6 542.00 2189.4 542.25 2189.0 542.50 2188.6 542.75 2188.1 543.00 2187.5 543.25 2186.8 543.50 2186.1 543.75 2185.5 544.25 2185.5 544.50 2186.1 544.75 2186.8 545.00 2187.5 545.25 2188.2 545.50 2188.7 545.75 2189.1 546.00 2189.5 546.25 2189.8 546.75 2190.2 547.25 2190.5 548.00 2190.7 549.25 2191.0 552.25 2191.2 558.50 2191.4 564.75 2191.5 571.00 2191.6 577.25 2191.7 583.50 2191.7 589.75 2191.8 596.00 2191.8 602.25 2191.9 608.50 2191.9 614.75 2191.9 621.00 2191.9 627.25 2191.9 633.50 2191.9 639.75 2192.0 646.00 2192.0 652.25 2192.0 658.50 2192.0 664.75 2192.0 671.00 2192.0 677.25 2192.0 683.50 2192.0 689.75 2192.0 696.00 2192.0 702.25 2191.9 708.50 2191.9 714.75 2191.8 721.00 2191.5 724.00 2191.3 725.75 2191.0 727.00 2190.7 728.00 2190.4 728.75 2190.1 729.50 2189.7 730.00 2189.4 730.50 2189.0 731.00 2188.6 731.25 2188.3 731.50 2188.1 731.75 2187.8 732.00 2187.5 732.25 2187.1 732.50 2186.8 732.75 2186.4 733.00 2186.0 733.25 2185.6 733.50 2185.1 733.75 2184.5 734.00 2183.9 734.25 2183.2 734.50 2182.3 734.75 2181.2 735.00 2179.8 735.25 2178.1 735.50 2176.0 735.75 2173.3 736.00 2169.8 736.25 2165.2 736.50 2159.1 736.75 2150.7 737.00 2139.2 737.25 2123.1 737.50 2101.4 737.75 2074.0 738.00 2046.3 738.25 2030.7 738.50 2037.8 738.75 2062.5 739.00 2091.1 739.25 2115.4 739.50 2133.6 739.75 2146.9 740.00 2156.4 740.25 2163.4 740.50 2168.7 740.75 2172.6 741.00 2175.7 741.25 2178.1 741.50 2180.0 741.75 2181.6 742.00 2182.9 742.25 2183.9 742.50 2184.8 742.75 2185.5 743.00 2186.2 743.25 2186.7 743.50 2187.2 743.75 2187.6 744.00 2188.0 744.25 2188.3 744.50 2188.6 744.75 2188.8 745.25 2189.3 745.75 2189.6 746.25 2189.9 747.00 2190.2 747.75 2190.5 748.75 2190.8 750.25 2191.1 752.50 2191.3 756.50 2191.6 762.75 2191.7 769.00 2191.8 775.25 2191.8 781.50 2191.8 787.75 2191.7 794.00 2191.6 800.25 2191.4 806.50 2191.2 812.50 2190.9 818.75 2190.7 825.00 2190.7 831.25 2190.6 836.00 2190.4 838.00 2190.1 839.25 2189.8 840.25 2189.5 841.00 2189.2 841.50 2189.0 842.00 2188.7 842.50 2188.3 843.00 2187.9 843.25 2187.6 843.50 2187.3 843.75 2187.0 844.00 2186.6 844.25 2186.2 844.50 2185.8 844.75 2185.2 845.00 2184.6 845.25 2183.9 845.50 2183.2 845.75 2182.2 846.00 2181.1 846.25 2179.9 846.50 2178.3 846.75 2176.5 847.00 2174.3 847.25 2171.5 847.50 2168.1 847.75 2163.9 848.00 2158.6 848.25 2151.9 848.50 2143.8 848.75 2134.1 849.00 2123.6 849.25 2113.7 849.50 2106.7 849.75 2104.3 850.00 2106.2 850.25 2109.9 850.50 2113.0 850.75 2114.0 851.00 2112.5 851.25 2109.3 851.50 2106.4 851.75 2106.2 852.00 2110.6 852.25 2118.9 852.50 2129.1 852.75 2139.2 853.00 2148.1 853.25 2155.5 853.50 2161.4 853.75 2166.2 854.00 2170.0 854.25 2173.1 854.50 2175.6 854.75 2177.6 855.00 2179.3 855.25 2180.7 855.50 2181.9 855.75 2182.9 856.00 2183.8 856.25 2184.5 856.50 2185.2 856.75 2185.7 857.00 2186.2 857.25 2186.7 857.50 2187.1 857.75 2187.4 858.00 2187.7 858.25 2188.0 858.50 2188.2 859.00 2188.7 859.50 2189.1 860.00 2189.4 860.50 2189.6 861.25 2190.0 862.00 2190.2 863.00 2190.5 864.25 2190.8 866.00 2191.0 868.50 2191.3 872.50 2191.5 878.75 2191.8 885.00 2191.9 891.25 2191.9 897.50 2192.0 903.75 2192.0 910.00 2192.0 916.25 2192.1 922.50 2192.1 928.75 2192.1 935.00 2192.1 941.25 2192.1 947.50 2192.1 953.75 2192.1 957.25 2192.1" fill="none" stroke="#2b4aa0" stroke-width="1.3" stroke-linejoin="round" clip-path="url(#fclip)"/>
<line x1="43" y1="1661.3" x2="43" y2="2219.5" stroke="#8a8a8a" stroke-width="1.6"/>
<line x1="43" y1="2219.5" x2="957.8" y2="2219.5" stroke="#505050" stroke-width="1.4"/>
<line x1="957.8" y1="1661.3" x2="957.8" y2="2219.5" stroke="#505050" stroke-width="1.4"/>
<line x1="944.54" y1="2219.5" x2="944.54" y2="2223.5" stroke="#505050" stroke-width="1.2"/>
<line x1="913.92" y1="2219.5" x2="913.92" y2="2223.5" stroke="#505050" stroke-width="1.2"/>
<line x1="883.3" y1="2219.5" x2="883.3" y2="2226" stroke="#505050" stroke-width="1.2"/>
<line x1="852.68" y1="2219.5" x2="852.68" y2="2223.5" stroke="#505050" stroke-width="1.2"/>
<line x1="822.06" y1="2219.5" x2="822.06" y2="2223.5" stroke="#505050" stroke-width="1.2"/>
<line x1="791.44" y1="2219.5" x2="791.44" y2="2223.5" stroke="#505050" stroke-width="1.2"/>
<line x1="760.82" y1="2219.5" x2="760.82" y2="2223.5" stroke="#505050" stroke-width="1.2"/>
<line x1="730.2" y1="2219.5" x2="730.2" y2="2226" stroke="#505050" stroke-width="1.2"/>
<line x1="699.58" y1="2219.5" x2="699.58" y2="2223.5" stroke="#505050" stroke-width="1.2"/>
<line x1="668.96" y1="2219.5" x2="668.96" y2="2223.5" stroke="#505050" stroke-width="1.2"/>
<line x1="638.34" y1="2219.5" x2="638.34" y2="2223.5" stroke="#505050" stroke-width="1.2"/>
<line x1="607.72" y1="2219.5" x2="607.72" y2="2223.5" stroke="#505050" stroke-width="1.2"/>
<line x1="577.1" y1="2219.5" x2="577.1" y2="2226" stroke="#505050" stroke-width="1.2"/>
<line x1="546.48" y1="2219.5" x2="546.48" y2="2223.5" stroke="#505050" stroke-width="1.2"/>
<line x1="515.86" y1="2219.5" x2="515.86" y2="2223.5" stroke="#505050" stroke-width="1.2"/>
<line x1="485.24" y1="2219.5" x2="485.24" y2="2223.5" stroke="#505050" stroke-width="1.2"/>
<line x1="454.62" y1="2219.5" x2="454.62" y2="2223.5" stroke="#505050" stroke-width="1.2"/>
<line x1="424" y1="2219.5" x2="424" y2="2226" stroke="#505050" stroke-width="1.2"/>
<line x1="393.38" y1="2219.5" x2="393.38" y2="2223.5" stroke="#505050" stroke-width="1.2"/>
<line x1="362.76" y1="2219.5" x2="362.76" y2="2223.5" stroke="#505050" stroke-width="1.2"/>
<line x1="332.14" y1="2219.5" x2="332.14" y2="2223.5" stroke="#505050" stroke-width="1.2"/>
<line x1="301.52" y1="2219.5" x2="301.52" y2="2223.5" stroke="#505050" stroke-width="1.2"/>
<line x1="270.9" y1="2219.5" x2="270.9" y2="2226" stroke="#505050" stroke-width="1.2"/>
<line x1="240.28" y1="2219.5" x2="240.28" y2="2223.5" stroke="#505050" stroke-width="1.2"/>
<line x1="209.66" y1="2219.5" x2="209.66" y2="2223.5" stroke="#505050" stroke-width="1.2"/>
<line x1="179.04" y1="2219.5" x2="179.04" y2="2223.5" stroke="#505050" stroke-width="1.2"/>
<line x1="148.42" y1="2219.5" x2="148.42" y2="2223.5" stroke="#505050" stroke-width="1.2"/>
<line x1="117.8" y1="2219.5" x2="117.8" y2="2226" stroke="#505050" stroke-width="1.2"/>
<line x1="87.18" y1="2219.5" x2="87.18" y2="2223.5" stroke="#505050" stroke-width="1.2"/>
<line x1="56.56" y1="2219.5" x2="56.56" y2="2223.5" stroke="#505050" stroke-width="1.2"/>
<line x1="957.8" y1="2193.3" x2="965" y2="2193.3" stroke="#505050" stroke-width="1.2"/>
<line x1="957.8" y1="2167.75" x2="962" y2="2167.75" stroke="#505050" stroke-width="1.2"/>
<line x1="957.8" y1="2142.2" x2="962" y2="2142.2" stroke="#505050" stroke-width="1.2"/>
<line x1="957.8" y1="2116.65" x2="962" y2="2116.65" stroke="#505050" stroke-width="1.2"/>
<line x1="957.8" y1="2091.1" x2="965" y2="2091.1" stroke="#505050" stroke-width="1.2"/>
<line x1="957.8" y1="2065.55" x2="962" y2="2065.55" stroke="#505050" stroke-width="1.2"/>
<line x1="957.8" y1="2040" x2="962" y2="2040" stroke="#505050" stroke-width="1.2"/>
<line x1="957.8" y1="2014.45" x2="962" y2="2014.45" stroke="#505050" stroke-width="1.2"/>
<line x1="957.8" y1="1988.9" x2="965" y2="1988.9" stroke="#505050" stroke-width="1.2"/>
<line x1="957.8" y1="1963.35" x2="962" y2="1963.35" stroke="#505050" stroke-width="1.2"/>
<line x1="957.8" y1="1937.8" x2="962" y2="1937.8" stroke="#505050" stroke-width="1.2"/>
<line x1="957.8" y1="1912.25" x2="962" y2="1912.25" stroke="#505050" stroke-width="1.2"/>
<line x1="957.8" y1="1886.7" x2="965" y2="1886.7" stroke="#505050" stroke-width="1.2"/>
<line x1="957.8" y1="1861.15" x2="962" y2="1861.15" stroke="#505050" stroke-width="1.2"/>
<line x1="957.8" y1="1835.6" x2="962" y2="1835.6" stroke="#505050" stroke-width="1.2"/>
<line x1="957.8" y1="1810.05" x2="962" y2="1810.05" stroke="#505050" stroke-width="1.2"/>
<line x1="957.8" y1="1784.5" x2="965" y2="1784.5" stroke="#505050" stroke-width="1.2"/>
<line x1="957.8" y1="1758.95" x2="962" y2="1758.95" stroke="#505050" stroke-width="1.2"/>
<line x1="957.8" y1="1733.4" x2="962" y2="1733.4" stroke="#505050" stroke-width="1.2"/>
<line x1="957.8" y1="1707.85" x2="962" y2="1707.85" stroke="#505050" stroke-width="1.2"/>
<line x1="957.8" y1="1682.3" x2="965" y2="1682.3" stroke="#505050" stroke-width="1.2"/>
<text x="117.8" y="2242.8" font-size="12.2" font-family="'Liberation Sans', Arial, sans-serif" text-anchor="middle" fill="#222" font-weight="bold">6</text>
<text x="270.9" y="2242.8" font-size="12.2" font-family="'Liberation Sans', Arial, sans-serif" text-anchor="middle" fill="#222" font-weight="bold">5</text>
<text x="424" y="2242.8" font-size="12.2" font-family="'Liberation Sans', Arial, sans-serif" text-anchor="middle" fill="#222" font-weight="bold">4</text>
<text x="577.1" y="2242.8" font-size="12.2" font-family="'Liberation Sans', Arial, sans-serif" text-anchor="middle" fill="#222" font-weight="bold">3</text>
<text x="730.2" y="2242.8" font-size="12.2" font-family="'Liberation Sans', Arial, sans-serif" text-anchor="middle" fill="#222" font-weight="bold">2</text>
<text x="883.3" y="2242.8" font-size="12.2" font-family="'Liberation Sans', Arial, sans-serif" text-anchor="middle" fill="#222" font-weight="bold">1</text>
<text x="956.3" y="2242.8" font-size="12.2" font-family="'Liberation Sans', Arial, sans-serif" text-anchor="end" fill="#222" font-weight="bold">[ppm]</text>
<text transform="translate(980.9,2193.3) rotate(-90)" font-size="12.2" font-family="'Liberation Sans', Arial, sans-serif" text-anchor="middle" fill="#222" font-weight="bold">0</text>
<text transform="translate(980.9,2091.1) rotate(-90)" font-size="12.2" font-family="'Liberation Sans', Arial, sans-serif" text-anchor="middle" fill="#222" font-weight="bold">200</text>
<text transform="translate(980.9,1988.9) rotate(-90)" font-size="12.2" font-family="'Liberation Sans', Arial, sans-serif" text-anchor="middle" fill="#222" font-weight="bold">400</text>
<text transform="translate(980.9,1886.7) rotate(-90)" font-size="12.2" font-family="'Liberation Sans', Arial, sans-serif" text-anchor="middle" fill="#222" font-weight="bold">600</text>
<text transform="translate(980.9,1784.5) rotate(-90)" font-size="12.2" font-family="'Liberation Sans', Arial, sans-serif" text-anchor="middle" fill="#222" font-weight="bold">800</text>
<text transform="translate(980.9,1695.8) rotate(-90)" font-size="12.2" font-family="'Liberation Sans', Arial, sans-serif" fill="#222" font-weight="bold">[*1e3]</text>
<text transform="translate(251.9,1773.6) rotate(-90)" font-size="12" font-family="'Liberation Sans', Arial, sans-serif" fill="#e0161e" stroke="#e0161e" stroke-width="0.35">5.1447</text>
<line x1="247.6" y1="1778.6" x2="247.6" y2="1786" stroke="#e0161e" stroke-width="1.1"/>
<text transform="translate(275.4,1773.6) rotate(-90)" font-size="12" font-family="'Liberation Sans', Arial, sans-serif" fill="#e0161e" stroke="#e0161e" stroke-width="0.35">4.9794</text>
<path d="M271.1 1777.5 L271.1 1779.5 L274.05 1783.2 L274.05 1786" fill="none" stroke="#e0161e" stroke-width="1"/>
<text transform="translate(288.1,1773.6) rotate(-90)" font-size="12" font-family="'Liberation Sans', Arial, sans-serif" fill="#e0161e" stroke="#e0161e" stroke-width="0.35">4.9335</text>
<path d="M283.8 1777.5 L283.8 1779.5 L281.08 1783.2 L281.08 1786" fill="none" stroke="#e0161e" stroke-width="1"/>
<text transform="translate(305.9,1773.6) rotate(-90)" font-size="12" font-family="'Liberation Sans', Arial, sans-serif" fill="#e0161e" stroke="#e0161e" stroke-width="0.35">4.7027</text>
<path d="M301.6 1777.5 L301.6 1779.5 L316.42 1783.2 L316.42 1786" fill="none" stroke="#e0161e" stroke-width="1"/>
<text transform="translate(318,1773.6) rotate(-90)" font-size="12" font-family="'Liberation Sans', Arial, sans-serif" fill="#e0161e" stroke="#e0161e" stroke-width="0.35">4.4111</text>
<path d="M313.7 1777.5 L313.7 1779.5 L361.06 1783.2 L361.06 1786" fill="none" stroke="#e0161e" stroke-width="1"/>
<text transform="translate(329.3,1773.6) rotate(-90)" font-size="12" font-family="'Liberation Sans', Arial, sans-serif" fill="#e0161e" stroke="#e0161e" stroke-width="0.35">4.3984</text>
<path d="M325 1777.5 L325 1779.5 L363 1783.2 L363 1786" fill="none" stroke="#e0161e" stroke-width="1"/>
<text transform="translate(340.8,1773.6) rotate(-90)" font-size="12" font-family="'Liberation Sans', Arial, sans-serif" fill="#e0161e" stroke="#e0161e" stroke-width="0.35">4.3191</text>
<path d="M336.5 1777.5 L336.5 1779.5 L375.15 1783.2 L375.15 1786" fill="none" stroke="#e0161e" stroke-width="1"/>
<text transform="translate(352.9,1773.6) rotate(-90)" font-size="12" font-family="'Liberation Sans', Arial, sans-serif" fill="#e0161e" stroke="#e0161e" stroke-width="0.35">4.1501</text>
<path d="M348.6 1777.5 L348.6 1779.5 L401.02 1783.2 L401.02 1786" fill="none" stroke="#e0161e" stroke-width="1"/>
<text transform="translate(364.9,1773.6) rotate(-90)" font-size="12" font-family="'Liberation Sans', Arial, sans-serif" fill="#e0161e" stroke="#e0161e" stroke-width="0.35">4.0775</text>
<path d="M360.6 1777.5 L360.6 1779.5 L412.13 1783.2 L412.13 1786" fill="none" stroke="#e0161e" stroke-width="1"/>
<text transform="translate(377,1773.6) rotate(-90)" font-size="12" font-family="'Liberation Sans', Arial, sans-serif" fill="#e0161e" stroke="#e0161e" stroke-width="0.35">4.0369</text>
<path d="M372.7 1777.5 L372.7 1779.5 L418.35 1783.2 L418.35 1786" fill="none" stroke="#e0161e" stroke-width="1"/>
<text transform="translate(388.4,1773.6) rotate(-90)" font-size="12" font-family="'Liberation Sans', Arial, sans-serif" fill="#e0161e" stroke="#e0161e" stroke-width="0.35">3.9796</text>
<path d="M384.1 1777.5 L384.1 1779.5 L427.12 1783.2 L427.12 1786" fill="none" stroke="#e0161e" stroke-width="1"/>
<text transform="translate(400.5,1773.6) rotate(-90)" font-size="12" font-family="'Liberation Sans', Arial, sans-serif" fill="#e0161e" stroke="#e0161e" stroke-width="0.35">3.9017</text>
<path d="M396.2 1777.5 L396.2 1779.5 L439.05 1783.2 L439.05 1786" fill="none" stroke="#e0161e" stroke-width="1"/>
<text transform="translate(412.6,1773.6) rotate(-90)" font-size="12" font-family="'Liberation Sans', Arial, sans-serif" fill="#e0161e" stroke="#e0161e" stroke-width="0.35">3.8413</text>
<path d="M408.3 1777.5 L408.3 1779.5 L448.3 1783.2 L448.3 1786" fill="none" stroke="#e0161e" stroke-width="1"/>
<text transform="translate(424.6,1773.6) rotate(-90)" font-size="12" font-family="'Liberation Sans', Arial, sans-serif" fill="#e0161e" stroke="#e0161e" stroke-width="0.35">3.8202</text>
<path d="M420.3 1777.5 L420.3 1779.5 L451.53 1783.2 L451.53 1786" fill="none" stroke="#e0161e" stroke-width="1"/>
<text transform="translate(436.7,1773.6) rotate(-90)" font-size="12" font-family="'Liberation Sans', Arial, sans-serif" fill="#e0161e" stroke="#e0161e" stroke-width="0.35">3.7743</text>
<path d="M432.4 1777.5 L432.4 1779.5 L458.55 1783.2 L458.55 1786" fill="none" stroke="#e0161e" stroke-width="1"/>
<text transform="translate(448.7,1773.6) rotate(-90)" font-size="12" font-family="'Liberation Sans', Arial, sans-serif" fill="#e0161e" stroke="#e0161e" stroke-width="0.35">3.7282</text>
<path d="M444.4 1777.5 L444.4 1779.5 L465.61 1783.2 L465.61 1786" fill="none" stroke="#e0161e" stroke-width="1"/>
<text transform="translate(460.2,1773.6) rotate(-90)" font-size="12" font-family="'Liberation Sans', Arial, sans-serif" fill="#e0161e" stroke="#e0161e" stroke-width="0.35">3.6465</text>
<path d="M455.9 1777.5 L455.9 1779.5 L478.12 1783.2 L478.12 1786" fill="none" stroke="#e0161e" stroke-width="1"/>
<text transform="translate(472.2,1773.6) rotate(-90)" font-size="12" font-family="'Liberation Sans', Arial, sans-serif" fill="#e0161e" stroke="#e0161e" stroke-width="0.35">3.6081</text>
<path d="M467.9 1777.5 L467.9 1779.5 L484 1783.2 L484 1786" fill="none" stroke="#e0161e" stroke-width="1"/>
<text transform="translate(484.3,1773.6) rotate(-90)" font-size="12" font-family="'Liberation Sans', Arial, sans-serif" fill="#e0161e" stroke="#e0161e" stroke-width="0.35">3.5975</text>
<path d="M480 1777.5 L480 1779.5 L485.62 1783.2 L485.62 1786" fill="none" stroke="#e0161e" stroke-width="1"/>
<text transform="translate(496.3,1773.6) rotate(-90)" font-size="12" font-family="'Liberation Sans', Arial, sans-serif" fill="#e0161e" stroke="#e0161e" stroke-width="0.35">3.5697</text>
<path d="M492 1777.5 L492 1779.5 L489.88 1783.2 L489.88 1786" fill="none" stroke="#e0161e" stroke-width="1"/>
<text transform="translate(507.8,1773.6) rotate(-90)" font-size="12" font-family="'Liberation Sans', Arial, sans-serif" fill="#e0161e" stroke="#e0161e" stroke-width="0.35">3.5537</text>
<path d="M503.5 1777.5 L503.5 1779.5 L492.33 1783.2 L492.33 1786" fill="none" stroke="#e0161e" stroke-width="1"/>
<text transform="translate(519.9,1773.6) rotate(-90)" font-size="12" font-family="'Liberation Sans', Arial, sans-serif" fill="#e0161e" stroke="#e0161e" stroke-width="0.35">3.4556</text>
<path d="M515.6 1777.5 L515.6 1779.5 L507.35 1783.2 L507.35 1786" fill="none" stroke="#e0161e" stroke-width="1"/>
<text transform="translate(531.3,1773.6) rotate(-90)" font-size="12" font-family="'Liberation Sans', Arial, sans-serif" fill="#e0161e" stroke="#e0161e" stroke-width="0.35">3.4373</text>
<path d="M527 1777.5 L527 1779.5 L510.15 1783.2 L510.15 1786" fill="none" stroke="#e0161e" stroke-width="1"/>
<text transform="translate(544,1773.6) rotate(-90)" font-size="12" font-family="'Liberation Sans', Arial, sans-serif" fill="#e0161e" stroke="#e0161e" stroke-width="0.35">3.4191</text>
<path d="M539.7 1777.5 L539.7 1779.5 L512.94 1783.2 L512.94 1786" fill="none" stroke="#e0161e" stroke-width="1"/>
<text transform="translate(556.7,1773.6) rotate(-90)" font-size="12" font-family="'Liberation Sans', Arial, sans-serif" fill="#e0161e" stroke="#e0161e" stroke-width="0.35">3.2113</text>
<path d="M552.4 1777.5 L552.4 1779.5 L544.75 1783.2 L544.75 1786" fill="none" stroke="#e0161e" stroke-width="1"/>
<text transform="translate(740.8,1773.6) rotate(-90)" font-size="12" font-family="'Liberation Sans', Arial, sans-serif" fill="#e0161e" stroke="#e0161e" stroke-width="0.35">1.9433</text>
<path d="M736.5 1777.5 L736.5 1779.5 L738.88 1783.2 L738.88 1786" fill="none" stroke="#e0161e" stroke-width="1"/>
<text transform="translate(847.5,1773.6) rotate(-90)" font-size="12" font-family="'Liberation Sans', Arial, sans-serif" fill="#e0161e" stroke="#e0161e" stroke-width="0.35">1.2123</text>
<path d="M843.2 1777.5 L843.2 1779.5 L850.8 1783.2 L850.8 1786" fill="none" stroke="#e0161e" stroke-width="1"/>
<text transform="translate(860.2,1773.6) rotate(-90)" font-size="12" font-family="'Liberation Sans', Arial, sans-serif" fill="#e0161e" stroke="#e0161e" stroke-width="0.35">1.2029</text>
<path d="M855.9 1777.5 L855.9 1779.5 L852.24 1783.2 L852.24 1786" fill="none" stroke="#e0161e" stroke-width="1"/>
</svg>
</body></html>
